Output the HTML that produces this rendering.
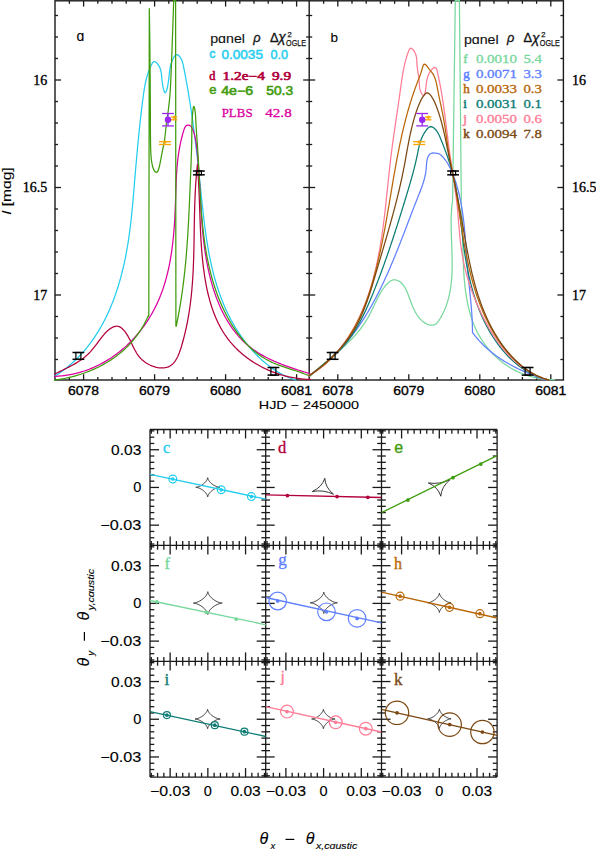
<!DOCTYPE html>
<html><head><meta charset="utf-8"><title>figure</title>
<style>html,body{margin:0;padding:0;background:#fff;}svg{display:block;}</style></head>
<body><svg width="596" height="851" viewBox="0 0 596 851">
<rect width="596" height="851" fill="#fff"/>
<line x1="69.4" y1="380" x2="69.4" y2="377" stroke="#1a1a1a" stroke-width="1.3"/>
<line x1="69.4" y1="0.8" x2="69.4" y2="3.8" stroke="#1a1a1a" stroke-width="1.3"/>
<line x1="83.6" y1="380" x2="83.6" y2="374.2" stroke="#1a1a1a" stroke-width="1.3"/>
<line x1="83.6" y1="0.8" x2="83.6" y2="6.6" stroke="#1a1a1a" stroke-width="1.3"/>
<line x1="97.8" y1="380" x2="97.8" y2="377" stroke="#1a1a1a" stroke-width="1.3"/>
<line x1="97.8" y1="0.8" x2="97.8" y2="3.8" stroke="#1a1a1a" stroke-width="1.3"/>
<line x1="112" y1="380" x2="112" y2="377" stroke="#1a1a1a" stroke-width="1.3"/>
<line x1="112" y1="0.8" x2="112" y2="3.8" stroke="#1a1a1a" stroke-width="1.3"/>
<line x1="126.2" y1="380" x2="126.2" y2="377" stroke="#1a1a1a" stroke-width="1.3"/>
<line x1="126.2" y1="0.8" x2="126.2" y2="3.8" stroke="#1a1a1a" stroke-width="1.3"/>
<line x1="140.4" y1="380" x2="140.4" y2="377" stroke="#1a1a1a" stroke-width="1.3"/>
<line x1="140.4" y1="0.8" x2="140.4" y2="3.8" stroke="#1a1a1a" stroke-width="1.3"/>
<line x1="154.6" y1="380" x2="154.6" y2="374.2" stroke="#1a1a1a" stroke-width="1.3"/>
<line x1="154.6" y1="0.8" x2="154.6" y2="6.6" stroke="#1a1a1a" stroke-width="1.3"/>
<line x1="168.8" y1="380" x2="168.8" y2="377" stroke="#1a1a1a" stroke-width="1.3"/>
<line x1="168.8" y1="0.8" x2="168.8" y2="3.8" stroke="#1a1a1a" stroke-width="1.3"/>
<line x1="183" y1="380" x2="183" y2="377" stroke="#1a1a1a" stroke-width="1.3"/>
<line x1="183" y1="0.8" x2="183" y2="3.8" stroke="#1a1a1a" stroke-width="1.3"/>
<line x1="197.2" y1="380" x2="197.2" y2="377" stroke="#1a1a1a" stroke-width="1.3"/>
<line x1="197.2" y1="0.8" x2="197.2" y2="3.8" stroke="#1a1a1a" stroke-width="1.3"/>
<line x1="211.4" y1="380" x2="211.4" y2="377" stroke="#1a1a1a" stroke-width="1.3"/>
<line x1="211.4" y1="0.8" x2="211.4" y2="3.8" stroke="#1a1a1a" stroke-width="1.3"/>
<line x1="225.6" y1="380" x2="225.6" y2="374.2" stroke="#1a1a1a" stroke-width="1.3"/>
<line x1="225.6" y1="0.8" x2="225.6" y2="6.6" stroke="#1a1a1a" stroke-width="1.3"/>
<line x1="239.8" y1="380" x2="239.8" y2="377" stroke="#1a1a1a" stroke-width="1.3"/>
<line x1="239.8" y1="0.8" x2="239.8" y2="3.8" stroke="#1a1a1a" stroke-width="1.3"/>
<line x1="254" y1="380" x2="254" y2="377" stroke="#1a1a1a" stroke-width="1.3"/>
<line x1="254" y1="0.8" x2="254" y2="3.8" stroke="#1a1a1a" stroke-width="1.3"/>
<line x1="268.2" y1="380" x2="268.2" y2="377" stroke="#1a1a1a" stroke-width="1.3"/>
<line x1="268.2" y1="0.8" x2="268.2" y2="3.8" stroke="#1a1a1a" stroke-width="1.3"/>
<line x1="282.4" y1="380" x2="282.4" y2="377" stroke="#1a1a1a" stroke-width="1.3"/>
<line x1="282.4" y1="0.8" x2="282.4" y2="3.8" stroke="#1a1a1a" stroke-width="1.3"/>
<line x1="296.6" y1="380" x2="296.6" y2="374.2" stroke="#1a1a1a" stroke-width="1.3"/>
<line x1="296.6" y1="0.8" x2="296.6" y2="6.6" stroke="#1a1a1a" stroke-width="1.3"/>
<line x1="55" y1="15.5" x2="58" y2="15.5" stroke="#1a1a1a" stroke-width="1.3"/>
<line x1="309.2" y1="15.5" x2="306.2" y2="15.5" stroke="#1a1a1a" stroke-width="1.3"/>
<line x1="55" y1="37" x2="58" y2="37" stroke="#1a1a1a" stroke-width="1.3"/>
<line x1="309.2" y1="37" x2="306.2" y2="37" stroke="#1a1a1a" stroke-width="1.3"/>
<line x1="55" y1="58.5" x2="58" y2="58.5" stroke="#1a1a1a" stroke-width="1.3"/>
<line x1="309.2" y1="58.5" x2="306.2" y2="58.5" stroke="#1a1a1a" stroke-width="1.3"/>
<line x1="55" y1="80" x2="61" y2="80" stroke="#1a1a1a" stroke-width="1.3"/>
<line x1="309.2" y1="80" x2="303.2" y2="80" stroke="#1a1a1a" stroke-width="1.3"/>
<line x1="55" y1="101.5" x2="58" y2="101.5" stroke="#1a1a1a" stroke-width="1.3"/>
<line x1="309.2" y1="101.5" x2="306.2" y2="101.5" stroke="#1a1a1a" stroke-width="1.3"/>
<line x1="55" y1="123" x2="58" y2="123" stroke="#1a1a1a" stroke-width="1.3"/>
<line x1="309.2" y1="123" x2="306.2" y2="123" stroke="#1a1a1a" stroke-width="1.3"/>
<line x1="55" y1="144.5" x2="58" y2="144.5" stroke="#1a1a1a" stroke-width="1.3"/>
<line x1="309.2" y1="144.5" x2="306.2" y2="144.5" stroke="#1a1a1a" stroke-width="1.3"/>
<line x1="55" y1="166" x2="58" y2="166" stroke="#1a1a1a" stroke-width="1.3"/>
<line x1="309.2" y1="166" x2="306.2" y2="166" stroke="#1a1a1a" stroke-width="1.3"/>
<line x1="55" y1="187.5" x2="61" y2="187.5" stroke="#1a1a1a" stroke-width="1.3"/>
<line x1="309.2" y1="187.5" x2="303.2" y2="187.5" stroke="#1a1a1a" stroke-width="1.3"/>
<line x1="55" y1="209" x2="58" y2="209" stroke="#1a1a1a" stroke-width="1.3"/>
<line x1="309.2" y1="209" x2="306.2" y2="209" stroke="#1a1a1a" stroke-width="1.3"/>
<line x1="55" y1="230.5" x2="58" y2="230.5" stroke="#1a1a1a" stroke-width="1.3"/>
<line x1="309.2" y1="230.5" x2="306.2" y2="230.5" stroke="#1a1a1a" stroke-width="1.3"/>
<line x1="55" y1="252" x2="58" y2="252" stroke="#1a1a1a" stroke-width="1.3"/>
<line x1="309.2" y1="252" x2="306.2" y2="252" stroke="#1a1a1a" stroke-width="1.3"/>
<line x1="55" y1="273.5" x2="58" y2="273.5" stroke="#1a1a1a" stroke-width="1.3"/>
<line x1="309.2" y1="273.5" x2="306.2" y2="273.5" stroke="#1a1a1a" stroke-width="1.3"/>
<line x1="55" y1="295" x2="61" y2="295" stroke="#1a1a1a" stroke-width="1.3"/>
<line x1="309.2" y1="295" x2="303.2" y2="295" stroke="#1a1a1a" stroke-width="1.3"/>
<line x1="55" y1="316.5" x2="58" y2="316.5" stroke="#1a1a1a" stroke-width="1.3"/>
<line x1="309.2" y1="316.5" x2="306.2" y2="316.5" stroke="#1a1a1a" stroke-width="1.3"/>
<line x1="55" y1="338" x2="58" y2="338" stroke="#1a1a1a" stroke-width="1.3"/>
<line x1="309.2" y1="338" x2="306.2" y2="338" stroke="#1a1a1a" stroke-width="1.3"/>
<line x1="55" y1="359.5" x2="58" y2="359.5" stroke="#1a1a1a" stroke-width="1.3"/>
<line x1="309.2" y1="359.5" x2="306.2" y2="359.5" stroke="#1a1a1a" stroke-width="1.3"/>
<line x1="323.6" y1="380" x2="323.6" y2="377" stroke="#1a1a1a" stroke-width="1.3"/>
<line x1="323.6" y1="0.8" x2="323.6" y2="3.8" stroke="#1a1a1a" stroke-width="1.3"/>
<line x1="337.8" y1="380" x2="337.8" y2="374.2" stroke="#1a1a1a" stroke-width="1.3"/>
<line x1="337.8" y1="0.8" x2="337.8" y2="6.6" stroke="#1a1a1a" stroke-width="1.3"/>
<line x1="352" y1="380" x2="352" y2="377" stroke="#1a1a1a" stroke-width="1.3"/>
<line x1="352" y1="0.8" x2="352" y2="3.8" stroke="#1a1a1a" stroke-width="1.3"/>
<line x1="366.2" y1="380" x2="366.2" y2="377" stroke="#1a1a1a" stroke-width="1.3"/>
<line x1="366.2" y1="0.8" x2="366.2" y2="3.8" stroke="#1a1a1a" stroke-width="1.3"/>
<line x1="380.4" y1="380" x2="380.4" y2="377" stroke="#1a1a1a" stroke-width="1.3"/>
<line x1="380.4" y1="0.8" x2="380.4" y2="3.8" stroke="#1a1a1a" stroke-width="1.3"/>
<line x1="394.6" y1="380" x2="394.6" y2="377" stroke="#1a1a1a" stroke-width="1.3"/>
<line x1="394.6" y1="0.8" x2="394.6" y2="3.8" stroke="#1a1a1a" stroke-width="1.3"/>
<line x1="408.8" y1="380" x2="408.8" y2="374.2" stroke="#1a1a1a" stroke-width="1.3"/>
<line x1="408.8" y1="0.8" x2="408.8" y2="6.6" stroke="#1a1a1a" stroke-width="1.3"/>
<line x1="423" y1="380" x2="423" y2="377" stroke="#1a1a1a" stroke-width="1.3"/>
<line x1="423" y1="0.8" x2="423" y2="3.8" stroke="#1a1a1a" stroke-width="1.3"/>
<line x1="437.2" y1="380" x2="437.2" y2="377" stroke="#1a1a1a" stroke-width="1.3"/>
<line x1="437.2" y1="0.8" x2="437.2" y2="3.8" stroke="#1a1a1a" stroke-width="1.3"/>
<line x1="451.4" y1="380" x2="451.4" y2="377" stroke="#1a1a1a" stroke-width="1.3"/>
<line x1="451.4" y1="0.8" x2="451.4" y2="3.8" stroke="#1a1a1a" stroke-width="1.3"/>
<line x1="465.6" y1="380" x2="465.6" y2="377" stroke="#1a1a1a" stroke-width="1.3"/>
<line x1="465.6" y1="0.8" x2="465.6" y2="3.8" stroke="#1a1a1a" stroke-width="1.3"/>
<line x1="479.8" y1="380" x2="479.8" y2="374.2" stroke="#1a1a1a" stroke-width="1.3"/>
<line x1="479.8" y1="0.8" x2="479.8" y2="6.6" stroke="#1a1a1a" stroke-width="1.3"/>
<line x1="494" y1="380" x2="494" y2="377" stroke="#1a1a1a" stroke-width="1.3"/>
<line x1="494" y1="0.8" x2="494" y2="3.8" stroke="#1a1a1a" stroke-width="1.3"/>
<line x1="508.2" y1="380" x2="508.2" y2="377" stroke="#1a1a1a" stroke-width="1.3"/>
<line x1="508.2" y1="0.8" x2="508.2" y2="3.8" stroke="#1a1a1a" stroke-width="1.3"/>
<line x1="522.4" y1="380" x2="522.4" y2="377" stroke="#1a1a1a" stroke-width="1.3"/>
<line x1="522.4" y1="0.8" x2="522.4" y2="3.8" stroke="#1a1a1a" stroke-width="1.3"/>
<line x1="536.6" y1="380" x2="536.6" y2="377" stroke="#1a1a1a" stroke-width="1.3"/>
<line x1="536.6" y1="0.8" x2="536.6" y2="3.8" stroke="#1a1a1a" stroke-width="1.3"/>
<line x1="550.8" y1="380" x2="550.8" y2="374.2" stroke="#1a1a1a" stroke-width="1.3"/>
<line x1="550.8" y1="0.8" x2="550.8" y2="6.6" stroke="#1a1a1a" stroke-width="1.3"/>
<line x1="309.2" y1="15.5" x2="312.2" y2="15.5" stroke="#1a1a1a" stroke-width="1.3"/>
<line x1="563.4" y1="15.5" x2="560.4" y2="15.5" stroke="#1a1a1a" stroke-width="1.3"/>
<line x1="309.2" y1="37" x2="312.2" y2="37" stroke="#1a1a1a" stroke-width="1.3"/>
<line x1="563.4" y1="37" x2="560.4" y2="37" stroke="#1a1a1a" stroke-width="1.3"/>
<line x1="309.2" y1="58.5" x2="312.2" y2="58.5" stroke="#1a1a1a" stroke-width="1.3"/>
<line x1="563.4" y1="58.5" x2="560.4" y2="58.5" stroke="#1a1a1a" stroke-width="1.3"/>
<line x1="309.2" y1="80" x2="315.2" y2="80" stroke="#1a1a1a" stroke-width="1.3"/>
<line x1="563.4" y1="80" x2="557.4" y2="80" stroke="#1a1a1a" stroke-width="1.3"/>
<line x1="309.2" y1="101.5" x2="312.2" y2="101.5" stroke="#1a1a1a" stroke-width="1.3"/>
<line x1="563.4" y1="101.5" x2="560.4" y2="101.5" stroke="#1a1a1a" stroke-width="1.3"/>
<line x1="309.2" y1="123" x2="312.2" y2="123" stroke="#1a1a1a" stroke-width="1.3"/>
<line x1="563.4" y1="123" x2="560.4" y2="123" stroke="#1a1a1a" stroke-width="1.3"/>
<line x1="309.2" y1="144.5" x2="312.2" y2="144.5" stroke="#1a1a1a" stroke-width="1.3"/>
<line x1="563.4" y1="144.5" x2="560.4" y2="144.5" stroke="#1a1a1a" stroke-width="1.3"/>
<line x1="309.2" y1="166" x2="312.2" y2="166" stroke="#1a1a1a" stroke-width="1.3"/>
<line x1="563.4" y1="166" x2="560.4" y2="166" stroke="#1a1a1a" stroke-width="1.3"/>
<line x1="309.2" y1="187.5" x2="315.2" y2="187.5" stroke="#1a1a1a" stroke-width="1.3"/>
<line x1="563.4" y1="187.5" x2="557.4" y2="187.5" stroke="#1a1a1a" stroke-width="1.3"/>
<line x1="309.2" y1="209" x2="312.2" y2="209" stroke="#1a1a1a" stroke-width="1.3"/>
<line x1="563.4" y1="209" x2="560.4" y2="209" stroke="#1a1a1a" stroke-width="1.3"/>
<line x1="309.2" y1="230.5" x2="312.2" y2="230.5" stroke="#1a1a1a" stroke-width="1.3"/>
<line x1="563.4" y1="230.5" x2="560.4" y2="230.5" stroke="#1a1a1a" stroke-width="1.3"/>
<line x1="309.2" y1="252" x2="312.2" y2="252" stroke="#1a1a1a" stroke-width="1.3"/>
<line x1="563.4" y1="252" x2="560.4" y2="252" stroke="#1a1a1a" stroke-width="1.3"/>
<line x1="309.2" y1="273.5" x2="312.2" y2="273.5" stroke="#1a1a1a" stroke-width="1.3"/>
<line x1="563.4" y1="273.5" x2="560.4" y2="273.5" stroke="#1a1a1a" stroke-width="1.3"/>
<line x1="309.2" y1="295" x2="315.2" y2="295" stroke="#1a1a1a" stroke-width="1.3"/>
<line x1="563.4" y1="295" x2="557.4" y2="295" stroke="#1a1a1a" stroke-width="1.3"/>
<line x1="309.2" y1="316.5" x2="312.2" y2="316.5" stroke="#1a1a1a" stroke-width="1.3"/>
<line x1="563.4" y1="316.5" x2="560.4" y2="316.5" stroke="#1a1a1a" stroke-width="1.3"/>
<line x1="309.2" y1="338" x2="312.2" y2="338" stroke="#1a1a1a" stroke-width="1.3"/>
<line x1="563.4" y1="338" x2="560.4" y2="338" stroke="#1a1a1a" stroke-width="1.3"/>
<line x1="309.2" y1="359.5" x2="312.2" y2="359.5" stroke="#1a1a1a" stroke-width="1.3"/>
<line x1="563.4" y1="359.5" x2="560.4" y2="359.5" stroke="#1a1a1a" stroke-width="1.3"/>
<rect x="55" y="0.8" width="508.4" height="379.2" fill="none" stroke="#1a1a1a" stroke-width="1.4"/>
<line x1="309.2" y1="0.8" x2="309.2" y2="380" stroke="#1a1a1a" stroke-width="1.4"/>
<text x="47.3" y="84.9" font-size="14" text-anchor="end" fill="#000" font-family="Liberation Serif" stroke="#000" stroke-width="0.35" style="">16</text>
<text x="572.1" y="84.9" font-size="14" text-anchor="start" fill="#000" font-family="Liberation Serif" stroke="#000" stroke-width="0.35" style="">16</text>
<text x="47.3" y="192.4" font-size="14" text-anchor="end" fill="#000" font-family="Liberation Serif" stroke="#000" stroke-width="0.35" style="">16.5</text>
<text x="572.1" y="192.4" font-size="14" text-anchor="start" fill="#000" font-family="Liberation Serif" stroke="#000" stroke-width="0.35" style="">16.5</text>
<text x="47.3" y="299.9" font-size="14" text-anchor="end" fill="#000" font-family="Liberation Serif" stroke="#000" stroke-width="0.35" style="">17</text>
<text x="572.1" y="299.9" font-size="14" text-anchor="start" fill="#000" font-family="Liberation Serif" stroke="#000" stroke-width="0.35" style="">17</text>
<text x="83.6" y="394.9" font-size="13.5" text-anchor="middle" fill="#000" font-family="Liberation Sans" stroke="#000" stroke-width="0.35" textLength="31" lengthAdjust="spacingAndGlyphs" style="">6078</text>
<text x="154.6" y="394.9" font-size="13.5" text-anchor="middle" fill="#000" font-family="Liberation Sans" stroke="#000" stroke-width="0.35" textLength="31" lengthAdjust="spacingAndGlyphs" style="">6079</text>
<text x="225.6" y="394.9" font-size="13.5" text-anchor="middle" fill="#000" font-family="Liberation Sans" stroke="#000" stroke-width="0.35" textLength="31" lengthAdjust="spacingAndGlyphs" style="">6080</text>
<text x="296.6" y="394.9" font-size="13.5" text-anchor="middle" fill="#000" font-family="Liberation Sans" stroke="#000" stroke-width="0.35" textLength="31" lengthAdjust="spacingAndGlyphs" style="">6081</text>
<text x="337.8" y="394.9" font-size="13.5" text-anchor="middle" fill="#000" font-family="Liberation Sans" stroke="#000" stroke-width="0.35" textLength="31" lengthAdjust="spacingAndGlyphs" style="">6078</text>
<text x="408.8" y="394.9" font-size="13.5" text-anchor="middle" fill="#000" font-family="Liberation Sans" stroke="#000" stroke-width="0.35" textLength="31" lengthAdjust="spacingAndGlyphs" style="">6079</text>
<text x="479.8" y="394.9" font-size="13.5" text-anchor="middle" fill="#000" font-family="Liberation Sans" stroke="#000" stroke-width="0.35" textLength="31" lengthAdjust="spacingAndGlyphs" style="">6080</text>
<text x="550.8" y="394.9" font-size="13.5" text-anchor="middle" fill="#000" font-family="Liberation Sans" stroke="#000" stroke-width="0.35" textLength="31" lengthAdjust="spacingAndGlyphs" style="">6081</text>
<text x="258.8" y="408.8" font-size="11.5" text-anchor="start" fill="#000" font-family="Liberation Sans" stroke="#000" stroke-width="0.12" textLength="100.3" lengthAdjust="spacingAndGlyphs" style="">HJD &#8722; 2450000</text>
<text transform="translate(10.6,214.8) rotate(-90)" font-size="12.5" font-family="Liberation Sans" fill="#000" stroke="#000" stroke-width="0.1" textLength="47.4" lengthAdjust="spacingAndGlyphs"><tspan font-style="italic">I</tspan> [m&#593;g]</text>
<text x="76.6" y="40.8" font-size="14" text-anchor="start" fill="#000" font-family="Liberation Sans" stroke="#000" stroke-width="0.1" style="">&#593;</text>
<text x="330.6" y="41.8" font-size="13.5" text-anchor="start" fill="#000" font-family="Liberation Sans" stroke="#000" stroke-width="0.1" style="">b</text>
<path d="M55.15,375.91 L56.47,375.07 L57.77,374.22 L59.05,373.36 L60.32,372.48 L61.58,371.59 L62.82,370.69 L64.05,369.77 L65.26,368.85 L66.46,367.91 L67.64,366.95 L68.81,365.99 L69.97,365.01 L71.11,364.03 L72.24,363.03 L73.36,362.02 L74.46,361 L75.54,359.96 L76.62,358.92 L77.68,357.86 L78.73,356.8 L79.76,355.72 L80.78,354.64 L81.79,353.54 L82.79,352.43 L83.77,351.31 L84.74,350.19 L85.69,349.05 L86.64,347.9 L87.57,346.75 L88.49,345.58 L89.4,344.41 L90.29,343.22 L91.17,342.03 L92.04,340.83 L92.9,339.62 L93.75,338.4 L94.58,337.17 L95.41,335.93 L96.22,334.69 L97.02,333.44 L97.81,332.18 L98.58,330.91 L99.35,329.63 L100.1,328.35 L100.84,327.06 L101.58,325.76 L102.3,324.46 L103.01,323.15 L103.71,321.83 L104.4,320.5 L105.07,319.17 L105.74,317.83 L106.4,316.49 L107.04,315.14 L107.68,313.78 L108.31,312.42 L108.92,311.05 L109.53,309.68 L110.13,308.3 L110.71,306.91 L111.29,305.52 L111.85,304.13 L112.41,302.73 L112.96,301.32 L113.5,299.91 L114.03,298.5 L114.55,297.08 L115.06,295.66 L115.56,294.23 L116.05,292.8 L116.53,291.37 L117.01,289.93 L117.47,288.49 L117.93,287.04 L118.38,285.6 L118.82,284.14 L119.25,282.69 L119.68,281.23 L120.09,279.77 L120.5,278.31 L120.9,276.85 L121.29,275.38 L121.67,273.91 L122.05,272.44 L122.42,270.96 L122.78,269.49 L123.13,268.01 L123.47,266.53 L123.81,265.05 L124.14,263.57 L124.47,262.09 L124.78,260.61 L125.09,259.12 L125.39,257.64 L125.69,256.15 L125.98,254.66 L126.26,253.18 L126.53,251.69 L126.8,250.21 L127.07,248.72 L127.32,247.23 L127.57,245.75 L127.82,244.26 L128.05,242.78 L128.29,241.29 L128.51,239.8 L128.74,238.32 L128.95,236.83 L129.16,235.35 L129.37,233.86 L129.57,232.37 L129.77,230.89 L129.96,229.4 L130.15,227.92 L130.33,226.43 L130.51,224.94 L130.69,223.46 L130.86,221.97 L131.03,220.48 L131.19,219 L131.35,217.51 L131.51,216.02 L131.67,214.53 L131.82,213.05 L131.97,211.56 L132.11,210.07 L132.26,208.58 L132.4,207.1 L132.54,205.61 L132.68,204.12 L132.81,202.63 L132.94,201.14 L133.08,199.65 L133.21,198.16 L133.34,196.67 L133.46,195.18 L133.59,193.69 L133.72,192.2 L133.84,190.71 L133.97,189.21 L134.09,187.72 L134.21,186.23 L134.34,184.74 L134.46,183.24 L134.58,181.75 L134.71,180.25 L134.83,178.76 L134.96,177.26 L135.08,175.77 L135.21,174.27 L135.33,172.78 L135.46,171.28 L135.59,169.78 L135.71,168.28 L135.84,166.79 L135.97,165.29 L136.1,163.79 L136.23,162.29 L136.36,160.79 L136.5,159.29 L136.63,157.79 L136.76,156.3 L136.9,154.8 L137.03,153.3 L137.17,151.8 L137.31,150.3 L137.45,148.8 L137.59,147.3 L137.73,145.8 L137.87,144.3 L138.01,142.8 L138.16,141.3 L138.3,139.8 L138.45,138.3 L138.6,136.81 L138.75,135.31 L138.9,133.81 L139.05,132.31 L139.21,130.81 L139.36,129.32 L139.52,127.82 L139.68,126.32 L139.84,124.83 L140,123.33 L140.16,121.83 L140.33,120.34 L140.49,118.84 L140.66,117.35 L140.83,115.86 L141,114.36 L141.18,112.87 L141.35,111.38 L141.53,109.88 L141.71,108.39 L141.89,106.9 L142.07,105.41 L142.26,103.92 L142.45,102.44 L142.64,100.95 L142.83,99.46 L143.02,97.97 L143.22,96.49 L143.42,95 L143.62,93.52 L143.84,92.04 L144.06,90.56 L144.29,89.08 L144.54,87.6 L144.8,86.12 L145.08,84.64 L145.38,83.17 L145.69,81.7 L146.03,80.22 L146.39,78.76 L146.78,77.29 L147.2,75.82 L147.64,74.36 L148.11,72.9 L148.62,71.44 L149.16,69.99 L149.74,68.53 L150.35,67.08 L151.01,65.64 L151.7,64.21 L152.46,62.93 L153.29,61.98 L154.22,61.54 L155.27,61.75 L156.38,62.57 L157.48,63.78 L158.48,65.2 L159.33,66.64 L159.99,68.04 L160.49,69.42 L160.87,70.8 L161.15,72.2 L161.35,73.66 L161.52,75.18 L161.66,76.79 L161.82,78.52 L162.02,80.39 L162.27,82.36 L162.57,84.37 L162.9,86.32 L163.27,88.15 L163.67,89.78 L164.08,91.13 L164.52,92.11 L164.97,92.66 L165.42,92.7 L165.87,92.2 L166.32,91.23 L166.75,89.9 L167.17,88.28 L167.56,86.46 L167.92,84.52 L168.24,82.57 L168.51,80.67 L168.75,78.88 L168.95,77.19 L169.12,75.58 L169.29,74.04 L169.45,72.56 L169.62,71.13 L169.81,69.74 L170.03,68.37 L170.28,67.01 L170.59,65.65 L170.96,64.28 L171.39,62.89 L171.91,61.45 L172.52,59.97 L173.23,58.43 L174.04,56.95 L174.94,55.7 L175.92,54.86 L176.97,54.62 L178.07,55.05 L179.15,55.99 L180.15,57.24 L181,58.61 L181.69,60.02 L182.25,61.46 L182.7,62.91 L183.08,64.39 L183.4,65.87 L183.7,67.36 L184,68.84 L184.29,70.33 L184.58,71.82 L184.87,73.31 L185.15,74.79 L185.43,76.28 L185.71,77.77 L185.98,79.25 L186.25,80.74 L186.52,82.22 L186.79,83.71 L187.05,85.19 L187.31,86.68 L187.57,88.16 L187.83,89.64 L188.08,91.13 L188.33,92.61 L188.58,94.09 L188.83,95.58 L189.07,97.06 L189.31,98.54 L189.55,100.03 L189.79,101.51 L190.02,102.99 L190.25,104.48 L190.48,105.96 L190.71,107.44 L190.94,108.93 L191.16,110.41 L191.38,111.89 L191.6,113.38 L191.82,114.86 L192.03,116.34 L192.24,117.83 L192.45,119.31 L192.66,120.8 L192.87,122.28 L193.08,123.77 L193.28,125.25 L193.48,126.73 L193.68,128.22 L193.88,129.71 L194.07,131.19 L194.27,132.68 L194.46,134.16 L194.65,135.65 L194.84,137.14 L195.03,138.63 L195.22,140.11 L195.4,141.6 L195.58,143.09 L195.77,144.58 L195.95,146.07 L196.13,147.56 L196.3,149.05 L196.48,150.54 L196.65,152.03 L196.83,153.52 L197,155.02 L197.17,156.51 L197.34,158 L197.51,159.5 L197.68,160.99 L197.84,162.49 L198.01,163.99 L198.17,165.48 L198.33,166.98 L198.5,168.48 L198.66,169.98 L198.82,171.48 L198.98,172.98 L199.14,174.48 L199.29,175.98 L199.45,177.48 L199.6,178.99 L199.76,180.49 L199.91,182 L200.07,183.5 L200.22,185.01 L200.37,186.52 L200.53,188.03 L200.68,189.54 L200.83,191.05 L200.98,192.55 L201.14,194.06 L201.29,195.57 L201.45,197.09 L201.6,198.6 L201.76,200.11 L201.92,201.62 L202.07,203.13 L202.23,204.64 L202.39,206.15 L202.56,207.66 L202.72,209.17 L202.89,210.68 L203.06,212.19 L203.23,213.7 L203.4,215.21 L203.57,216.71 L203.75,218.22 L203.93,219.73 L204.11,221.23 L204.3,222.74 L204.49,224.24 L204.68,225.75 L204.87,227.25 L205.07,228.75 L205.28,230.25 L205.48,231.75 L205.69,233.25 L205.91,234.75 L206.12,236.24 L206.35,237.74 L206.57,239.23 L206.8,240.72 L207.04,242.21 L207.28,243.7 L207.53,245.19 L207.78,246.67 L208.03,248.15 L208.29,249.63 L208.56,251.11 L208.83,252.59 L209.11,254.07 L209.39,255.54 L209.68,257.01 L209.98,258.48 L210.28,259.95 L210.59,261.41 L210.91,262.87 L211.23,264.33 L211.56,265.79 L211.89,267.24 L212.23,268.69 L212.58,270.14 L212.94,271.59 L213.31,273.03 L213.68,274.47 L214.06,275.91 L214.45,277.35 L214.84,278.78 L215.25,280.21 L215.66,281.63 L216.08,283.05 L216.51,284.47 L216.95,285.89 L217.4,287.3 L217.85,288.71 L218.32,290.12 L218.79,291.52 L219.27,292.92 L219.77,294.31 L220.27,295.7 L220.78,297.09 L221.31,298.47 L221.84,299.85 L222.38,301.23 L222.93,302.6 L223.5,303.96 L224.07,305.33 L224.66,306.68 L225.25,308.04 L225.86,309.39 L226.48,310.73 L227.11,312.08 L227.75,313.41 L228.4,314.74 L229.06,316.07 L229.74,317.39 L230.43,318.71 L231.12,320.03 L231.84,321.33 L232.56,322.64 L233.3,323.94 L234.05,325.23 L234.81,326.52 L235.58,327.8 L236.37,329.08 L237.17,330.35 L237.98,331.62 L238.81,332.88 L239.65,334.14 L240.51,335.39 L241.38,336.63 L242.26,337.87 L243.15,339.1 L244.06,340.33 L244.99,341.55 L245.92,342.76 L246.87,343.97 L247.84,345.16 L248.81,346.35 L249.8,347.52 L250.81,348.69 L251.82,349.84 L252.85,350.99 L253.89,352.12 L254.95,353.24 L256.01,354.35 L257.09,355.44 L258.18,356.53 L259.28,357.59 L260.4,358.65 L261.53,359.68 L262.66,360.71 L263.81,361.71 L264.98,362.7 L266.15,363.67 L267.33,364.63 L268.53,365.56 L269.74,366.48 L270.96,367.38 L272.19,368.26 L273.43,369.12 L274.68,369.96 L275.94,370.78 L277.21,371.58 L278.49,372.35 L279.78,373.1 L281.09,373.83 L282.4,374.54 L283.72,375.22 L285.06,375.88 L286.4,376.51 L287.75,377.12 L289.11,377.7 L290.49,378.25 L291.87,378.78 L293.26,379.28 L294.66,379.75 L296.06,380.2" fill="none" stroke="#22cdf0" stroke-width="1.25" stroke-linejoin="round" stroke-linecap="round"/>
<path d="M54.99,373.92 L56.4,373.21 L57.81,372.51 L59.21,371.82 L60.6,371.14 L61.98,370.47 L63.35,369.8 L64.71,369.13 L66.06,368.46 L67.4,367.79 L68.72,367.11 L70.04,366.43 L71.34,365.74 L72.63,365.04 L73.91,364.33 L75.18,363.6 L76.43,362.85 L77.67,362.09 L78.89,361.3 L80.11,360.49 L81.3,359.66 L82.48,358.8 L83.65,357.9 L84.8,356.98 L85.94,356.02 L87.06,355.03 L88.16,354 L89.25,352.93 L90.32,351.81 L91.37,350.66 L92.4,349.45 L93.42,348.21 L94.43,346.94 L95.43,345.65 L96.42,344.33 L97.4,343.01 L98.38,341.69 L99.36,340.37 L100.33,339.07 L101.32,337.78 L102.3,336.52 L103.3,335.3 L104.31,334.12 L105.33,333 L106.36,331.93 L107.41,330.92 L108.49,329.99 L109.58,329.13 L110.7,328.36 L111.84,327.69 L113.02,327.12 L114.22,326.66 L115.45,326.33 L116.69,326.18 L117.93,326.25 L119.16,326.57 L120.35,327.17 L121.51,328 L122.61,328.99 L123.65,330.07 L124.62,331.21 L125.53,332.39 L126.39,333.62 L127.2,334.89 L127.98,336.19 L128.71,337.53 L129.42,338.89 L130.11,340.27 L130.79,341.66 L131.45,343.06 L132.12,344.47 L132.79,345.88 L133.47,347.29 L134.17,348.69 L134.89,350.07 L135.65,351.43 L136.44,352.77 L137.27,354.08 L138.16,355.35 L139.1,356.59 L140.1,357.78 L141.18,358.92 L142.33,360.01 L143.55,361.05 L144.83,362.02 L146.16,362.93 L147.55,363.77 L148.97,364.55 L150.43,365.25 L151.91,365.88 L153.4,366.44 L154.91,366.91 L156.42,367.3 L157.93,367.6 L159.42,367.82 L160.89,367.94 L162.34,367.97 L163.75,367.9 L165.12,367.73 L166.43,367.45 L167.69,367.07 L168.89,366.58 L170.02,365.98 L171.08,365.28 L172.08,364.49 L173.03,363.6 L173.91,362.63 L174.75,361.58 L175.54,360.45 L176.28,359.27 L176.98,358.02 L177.63,356.71 L178.26,355.36 L178.84,353.97 L179.4,352.54 L179.93,351.08 L180.44,349.59 L180.92,348.09 L181.39,346.57 L181.84,345.05 L182.28,343.53 L182.71,342.01 L183.12,340.49 L183.53,338.97 L183.93,337.45 L184.31,335.93 L184.69,334.41 L185.05,332.9 L185.41,331.38 L185.75,329.87 L186.09,328.35 L186.42,326.84 L186.73,325.33 L187.04,323.82 L187.34,322.31 L187.63,320.8 L187.91,319.29 L188.18,317.78 L188.44,316.28 L188.7,314.77 L188.95,313.26 L189.19,311.76 L189.42,310.25 L189.64,308.75 L189.85,307.25 L190.06,305.74 L190.26,304.24 L190.46,302.74 L190.64,301.24 L190.82,299.74 L191,298.24 L191.16,296.74 L191.32,295.24 L191.47,293.74 L191.62,292.24 L191.76,290.75 L191.9,289.25 L192.03,287.75 L192.15,286.26 L192.27,284.76 L192.39,283.26 L192.49,281.77 L192.6,280.27 L192.7,278.78 L192.79,277.28 L192.88,275.79 L192.96,274.29 L193.05,272.8 L193.12,271.3 L193.2,269.81 L193.26,268.32 L193.33,266.82 L193.39,265.33 L193.45,263.83 L193.51,262.34 L193.56,260.85 L193.61,259.35 L193.66,257.86 L193.7,256.37 L193.74,254.87 L193.78,253.38 L193.82,251.88 L193.86,250.39 L193.89,248.9 L193.92,247.4 L193.95,245.91 L193.98,244.41 L194.01,242.92 L194.04,241.42 L194.06,239.93 L194.09,238.43 L194.11,236.94 L194.14,235.44 L194.16,233.95 L194.18,232.45 L194.21,230.95 L194.23,229.46 L194.25,227.96 L194.28,226.46 L194.3,224.96 L194.33,223.46 L194.35,221.96 L194.38,220.46 L194.41,218.96 L194.44,217.46 L194.47,215.96 L194.5,214.46 L194.54,212.96 L194.57,211.46 L194.61,209.95 L194.65,208.45 L194.69,206.94 L194.74,205.44 L194.79,203.93 L194.84,202.43 L194.89,200.92 L194.95,199.41 L195.01,197.9 L195.07,196.39 L195.13,194.88 L195.2,193.37 L195.28,191.86 L195.36,190.35 L195.44,188.83 L195.53,187.32 L195.62,185.8 L195.71,184.29 L195.81,182.77 L195.92,181.25 L196.03,179.73 L196.14,178.21 L196.26,176.69 L196.39,175.17 L196.52,173.65 L196.65,172.12 L196.8,170.6 L196.95,169.07 L197.1,167.55 L197.26,166.02 L197.43,164.49 L197.31,164.56 L197.44,166.05 L197.57,167.55 L197.69,169.04 L197.81,170.54 L197.92,172.04 L198.03,173.54 L198.14,175.04 L198.24,176.54 L198.33,178.04 L198.42,179.55 L198.51,181.05 L198.59,182.56 L198.67,184.06 L198.75,185.57 L198.82,187.08 L198.9,188.59 L198.97,190.1 L199.03,191.61 L199.1,193.13 L199.16,194.64 L199.22,196.16 L199.28,197.67 L199.33,199.19 L199.39,200.7 L199.44,202.22 L199.5,203.74 L199.55,205.26 L199.6,206.78 L199.66,208.3 L199.71,209.82 L199.76,211.34 L199.81,212.86 L199.86,214.38 L199.92,215.9 L199.97,217.42 L200.03,218.94 L200.08,220.47 L200.14,221.99 L200.2,223.51 L200.26,225.04 L200.32,226.56 L200.39,228.08 L200.46,229.61 L200.53,231.13 L200.6,232.66 L200.67,234.18 L200.75,235.7 L200.83,237.23 L200.92,238.75 L201.01,240.28 L201.1,241.8 L201.2,243.32 L201.3,244.85 L201.4,246.37 L201.51,247.89 L201.63,249.42 L201.75,250.94 L201.87,252.46 L202,253.98 L202.14,255.5 L202.28,257.02 L202.43,258.55 L202.58,260.07 L202.74,261.58 L202.91,263.1 L203.08,264.62 L203.26,266.14 L203.45,267.66 L203.64,269.17 L203.84,270.69 L204.05,272.2 L204.27,273.72 L204.49,275.23 L204.73,276.74 L204.97,278.25 L205.22,279.76 L205.48,281.27 L205.75,282.78 L206.03,284.28 L206.31,285.79 L206.61,287.28 L206.92,288.78 L207.24,290.27 L207.57,291.76 L207.91,293.25 L208.27,294.73 L208.63,296.2 L209.01,297.67 L209.4,299.14 L209.8,300.6 L210.22,302.05 L210.64,303.5 L211.09,304.94 L211.54,306.38 L212.01,307.81 L212.49,309.23 L212.99,310.64 L213.51,312.05 L214.03,313.45 L214.58,314.84 L215.14,316.22 L215.71,317.59 L216.3,318.95 L216.91,320.31 L217.54,321.65 L218.18,322.98 L218.84,324.31 L219.51,325.62 L220.21,326.92 L220.92,328.21 L221.65,329.49 L222.4,330.75 L223.17,332.01 L223.96,333.25 L224.77,334.48 L225.6,335.69 L226.44,336.9 L227.31,338.09 L228.2,339.26 L229.11,340.42 L230.03,341.57 L230.98,342.7 L231.94,343.82 L232.92,344.93 L233.92,346.02 L234.94,347.09 L235.98,348.15 L237.03,349.2 L238.1,350.23 L239.19,351.25 L240.29,352.24 L241.41,353.23 L242.55,354.2 L243.7,355.15 L244.87,356.09 L246.05,357.01 L247.24,357.91 L248.46,358.8 L249.68,359.67 L250.92,360.53 L252.17,361.37 L253.44,362.19 L254.72,362.99 L256.01,363.78 L257.32,364.55 L258.64,365.3 L259.97,366.03 L261.31,366.75 L262.66,367.45 L264.03,368.13 L265.4,368.79 L266.79,369.43 L268.18,370.06 L269.59,370.67 L271.01,371.25 L272.43,371.82 L273.87,372.37 L275.31,372.9 L276.77,373.41 L278.23,373.9 L279.7,374.38 L281.18,374.83 L282.67,375.26 L284.16,375.67 L285.66,376.06 L287.17,376.43 L288.68,376.79 L290.2,377.12 L291.73,377.43 L293.26,377.71 L294.8,377.98 L296.34,378.23 L297.89,378.45 L299.44,378.65 L301,378.84 L302.56,379 L304.12,379.13 L305.69,379.25 L307.26,379.34 L308.84,379.41 L310.42,379.46" fill="none" stroke="#b2003a" stroke-width="1.25" stroke-linejoin="round" stroke-linecap="round"/>
<path d="M54.5,376.42 L56.1,376.34 L57.69,376.24 L59.27,376.12 L60.85,375.98 L62.41,375.82 L63.97,375.63 L65.53,375.42 L67.07,375.19 L68.61,374.93 L70.13,374.66 L71.65,374.36 L73.17,374.05 L74.67,373.71 L76.16,373.35 L77.65,372.97 L79.13,372.58 L80.6,372.16 L82.06,371.72 L83.51,371.26 L84.95,370.78 L86.38,370.29 L87.8,369.77 L89.22,369.24 L90.62,368.68 L92.02,368.11 L93.41,367.52 L94.78,366.91 L96.15,366.28 L97.51,365.64 L98.86,364.98 L100.19,364.3 L101.52,363.6 L102.84,362.89 L104.15,362.16 L105.44,361.41 L106.73,360.65 L108.01,359.87 L109.27,359.07 L110.53,358.26 L111.77,357.43 L113,356.59 L114.23,355.73 L115.44,354.86 L116.64,353.97 L117.83,353.07 L119.01,352.15 L120.18,351.22 L121.33,350.28 L122.48,349.32 L123.61,348.34 L124.73,347.35 L125.84,346.35 L126.94,345.34 L128.03,344.31 L129.1,343.27 L130.16,342.22 L131.22,341.16 L132.25,340.08 L133.28,338.99 L134.29,337.89 L135.29,336.78 L136.28,335.65 L137.26,334.52 L138.22,333.37 L139.17,332.21 L140.11,331.04 L141.04,329.87 L141.95,328.68 L142.85,327.48 L143.73,326.27 L144.6,325.05 L145.46,323.82 L146.31,322.58 L147.14,321.33 L147.96,320.08 L148.76,318.81 L149.55,317.54 L150.33,316.25 L151.09,314.96 L151.84,313.66 L152.58,312.36 L153.3,311.04 L154.01,309.72 L154.7,308.39 L155.38,307.05 L156.04,305.71 L156.69,304.36 L157.32,303 L157.94,301.64 L158.54,300.27 L159.13,298.9 L159.71,297.51 L160.27,296.13 L160.82,294.73 L161.35,293.33 L161.87,291.93 L162.38,290.52 L162.88,289.1 L163.36,287.68 L163.83,286.26 L164.28,284.83 L164.73,283.39 L165.16,281.95 L165.58,280.51 L165.98,279.06 L166.38,277.61 L166.76,276.15 L167.14,274.69 L167.5,273.23 L167.85,271.76 L168.19,270.29 L168.52,268.81 L168.84,267.33 L169.15,265.85 L169.45,264.37 L169.74,262.88 L170.02,261.39 L170.29,259.89 L170.55,258.4 L170.8,256.9 L171.05,255.4 L171.28,253.89 L171.51,252.39 L171.73,250.88 L171.94,249.37 L172.14,247.86 L172.34,246.35 L172.52,244.83 L172.7,243.32 L172.88,241.8 L173.04,240.28 L173.2,238.76 L173.36,237.24 L173.5,235.72 L173.64,234.2 L173.78,232.68 L173.9,231.16 L174.03,229.64 L174.14,228.11 L174.26,226.59 L174.36,225.07 L174.46,223.55 L174.56,222.03 L174.65,220.5 L174.74,218.98 L174.83,217.46 L174.91,215.95 L174.98,214.43 L175.06,212.91 L175.13,211.4 L175.19,209.88 L175.26,208.37 L175.32,206.86 L175.37,205.35 L175.43,203.84 L175.48,202.34 L175.53,200.84 L175.58,199.34 L175.63,197.84 L175.68,196.34 L175.72,194.85 L175.77,193.36 L175.81,191.87 L175.86,190.38 L175.91,188.89 L175.96,187.4 L176.01,185.92 L176.06,184.44 L176.12,182.96 L176.18,181.47 L176.24,179.99 L176.31,178.51 L176.39,177.03 L176.47,175.55 L176.55,174.07 L176.64,172.6 L176.74,171.12 L176.85,169.64 L176.96,168.16 L177.08,166.68 L177.22,165.19 L177.35,163.71 L177.5,162.23 L177.66,160.75 L177.83,159.26 L178.02,157.77 L178.21,156.29 L178.41,154.8 L178.63,153.3 L178.86,151.81 L179.1,150.32 L179.36,148.82 L179.63,147.32 L179.92,145.82 L180.22,144.31 L180.54,142.8 L180.87,141.29 L181.22,139.78 L181.59,138.26 L181.98,136.74 L182.38,135.22 L182.8,133.69 L183.25,132.16 L183.71,130.63 L184.2,129.1 L184.76,127.68 L185.45,126.46 L186.32,125.56 L187.44,125.08 L188.79,125.1 L190.16,125.63 L191.28,126.64 L192.13,127.99 L192.79,129.52 L193.36,131.07 L193.86,132.6 L194.31,134.09 L194.7,135.57 L195.05,137.03 L195.36,138.48 L195.64,139.92 L195.88,141.36 L196.11,142.8 L196.31,144.24 L196.5,145.69 L196.69,147.16 L196.86,148.63 L197.03,150.11 L197.19,151.6 L197.35,153.1 L197.5,154.6 L197.64,156.11 L197.78,157.62 L197.91,159.14 L198.04,160.66 L198.16,162.17 L198.28,163.69 L198.4,165.2 L198.51,166.72 L198.62,168.23 L198.73,169.75 L198.83,171.26 L198.93,172.77 L199.03,174.28 L199.12,175.8 L199.22,177.31 L199.31,178.82 L199.4,180.33 L199.48,181.83 L199.57,183.34 L199.65,184.85 L199.74,186.36 L199.82,187.86 L199.9,189.37 L199.98,190.87 L200.07,192.38 L200.15,193.88 L200.23,195.39 L200.31,196.89 L200.39,198.39 L200.47,199.9 L200.56,201.4 L200.64,202.9 L200.72,204.4 L200.81,205.9 L200.9,207.4 L200.99,208.9 L201.08,210.39 L201.17,211.89 L201.27,213.39 L201.37,214.88 L201.47,216.38 L201.57,217.88 L201.68,219.37 L201.78,220.87 L201.9,222.36 L202.01,223.85 L202.13,225.35 L202.26,226.84 L202.39,228.33 L202.52,229.82 L202.66,231.31 L202.8,232.8 L202.94,234.29 L203.09,235.78 L203.25,237.27 L203.41,238.76 L203.58,240.25 L203.75,241.73 L203.93,243.22 L204.12,244.71 L204.31,246.19 L204.51,247.68 L204.71,249.16 L204.92,250.65 L205.14,252.13 L205.37,253.62 L205.6,255.1 L205.84,256.58 L206.09,258.07 L206.35,259.55 L206.61,261.03 L206.89,262.51 L207.17,263.99 L207.46,265.47 L207.76,266.95 L208.07,268.43 L208.38,269.91 L208.71,271.39 L209.05,272.86 L209.4,274.34 L209.75,275.82 L210.12,277.29 L210.5,278.77 L210.89,280.24 L211.28,281.71 L211.69,283.18 L212.11,284.65 L212.55,286.11 L212.99,287.58 L213.44,289.03 L213.91,290.49 L214.39,291.94 L214.88,293.38 L215.38,294.82 L215.89,296.26 L216.42,297.69 L216.96,299.11 L217.51,300.53 L218.07,301.94 L218.65,303.35 L219.24,304.74 L219.85,306.13 L220.46,307.52 L221.09,308.89 L221.74,310.26 L222.4,311.61 L223.07,312.96 L223.76,314.3 L224.46,315.63 L225.18,316.95 L225.91,318.26 L226.66,319.56 L227.42,320.85 L228.2,322.12 L228.99,323.39 L229.8,324.64 L230.62,325.88 L231.46,327.11 L232.32,328.33 L233.19,329.53 L234.08,330.72 L234.99,331.89 L235.91,333.05 L236.85,334.2 L237.8,335.33 L238.78,336.44 L239.77,337.54 L240.78,338.62 L241.8,339.69 L242.85,340.74 L243.91,341.78 L244.99,342.8 L246.09,343.79 L247.2,344.78 L248.34,345.74 L249.49,346.69 L250.67,347.61 L251.86,348.52 L253.07,349.41 L254.3,350.28 L255.55,351.13 L256.81,351.96 L258.09,352.78 L259.38,353.57 L260.69,354.35 L262.02,355.12 L263.35,355.87 L264.7,356.6 L266.06,357.31 L267.43,358.01 L268.81,358.7 L270.2,359.37 L271.59,360.03 L273,360.67 L274.41,361.3 L275.83,361.92 L277.26,362.52 L278.69,363.11 L280.12,363.69 L281.56,364.26 L282.99,364.81 L284.44,365.36 L285.88,365.89 L287.32,366.42 L288.76,366.93 L290.2,367.43 L291.64,367.93 L293.08,368.41 L294.51,368.89 L295.94,369.36 L297.37,369.82 L298.79,370.27 L300.2,370.72 L301.61,371.16 L303,371.59 L304.39,372.02 L305.78,372.44 L307.15,372.85 L308.51,373.26 L309.85,373.67" fill="none" stroke="#dc00a0" stroke-width="1.25" stroke-linejoin="round" stroke-linecap="round"/>
<path d="M54.85,380.12 L56.41,379.9 L57.97,379.66 L59.52,379.41 L61.06,379.14 L62.61,378.86 L64.15,378.56 L65.68,378.25 L67.21,377.92 L68.73,377.57 L70.25,377.21 L71.77,376.84 L73.27,376.45 L74.78,376.04 L76.27,375.62 L77.76,375.18 L79.24,374.73 L80.72,374.26 L82.19,373.77 L83.65,373.27 L85.1,372.76 L86.55,372.22 L87.99,371.67 L89.42,371.11 L90.84,370.53 L92.25,369.93 L93.65,369.32 L95.05,368.69 L96.43,368.05 L97.81,367.38 L99.18,366.71 L100.53,366.01 L101.88,365.3 L103.21,364.58 L104.54,363.83 L105.85,363.07 L107.16,362.3 L108.45,361.51 L109.73,360.7 L111,359.87 L112.25,359.03 L113.5,358.17 L114.73,357.29 L115.95,356.4 L117.15,355.49 L118.35,354.57 L119.52,353.62 L120.69,352.66 L121.84,351.68 L122.98,350.69 L124.1,349.68 L125.21,348.65 L126.31,347.61 L127.39,346.54 L128.45,345.46 L129.5,344.37 L130.54,343.25 L131.55,342.12 L132.56,340.97 L133.54,339.8 L134.51,338.62 L135.46,337.42 L136.4,336.2 L137.32,334.96 L138.22,333.71 L139.1,332.43 L139.97,331.14 L140.82,329.84 L141.64,328.51 L142.46,327.17 L143.25,325.81 L144.02,324.43 L144.77,323.03 L145.51,321.61 L146.22,320.18 L146.92,318.73 L147.59,317.26 L148.25,315.77 L148.8,316.4 L149.3,8.7 L149.3,8.7 C149.38,13.92 149.63,24.78 149.8,40 C149.97,55.22 150.15,81.67 150.3,100 C150.45,118.33 150.33,139 150.7,150 C151.07,161 151.6,162.3 152.5,166 C153.4,169.7 155.02,171.87 156.1,172.2 C157.18,172.53 157.92,171.7 159,168 C160.08,164.3 161.68,154.62 162.6,150 C163.52,145.38 163.83,144.97 164.5,140.3 C165.17,135.63 165.92,127.38 166.6,122 C167.28,116.62 167.98,113.33 168.6,108 C169.22,102.67 169.73,99.67 170.3,90 C170.87,80.33 171.43,64.92 172,50 C172.57,35.08 173.42,8.75 173.7,0.5 L175.6,0.5 L175.9,326.1 L176.2,326.29 L176.52,324.79 L176.83,323.29 L177.13,321.79 L177.43,320.29 L177.73,318.8 L178.02,317.3 L178.3,315.81 L178.58,314.31 L178.85,312.82 L179.12,311.32 L179.39,309.83 L179.65,308.34 L179.9,306.85 L180.15,305.36 L180.4,303.87 L180.64,302.38 L180.88,300.89 L181.11,299.41 L181.34,297.92 L181.56,296.43 L181.78,294.95 L182,293.46 L182.21,291.98 L182.41,290.49 L182.62,289.01 L182.82,287.52 L183.01,286.04 L183.2,284.56 L183.39,283.07 L183.57,281.59 L183.75,280.1 L183.93,278.62 L184.1,277.14 L184.27,275.66 L184.44,274.17 L184.6,272.69 L184.76,271.21 L184.91,269.72 L185.07,268.24 L185.22,266.76 L185.36,265.28 L185.51,263.79 L185.65,262.31 L185.78,260.83 L185.92,259.34 L186.05,257.86 L186.18,256.37 L186.31,254.89 L186.43,253.4 L186.55,251.92 L186.67,250.43 L186.78,248.94 L186.9,247.46 L187.01,245.97 L187.12,244.48 L187.22,242.99 L187.33,241.5 L187.43,240.01 L187.53,238.52 L187.63,237.03 L187.72,235.54 L187.82,234.05 L187.91,232.55 L188,231.06 L188.09,229.56 L188.18,228.07 L188.26,226.57 L188.35,225.07 L188.43,223.58 L188.51,222.08 L188.59,220.58 L188.67,219.07 L188.74,217.57 L188.82,216.07 L188.89,214.56 L188.97,213.06 L189.04,211.55 L189.11,210.04 L189.18,208.53 L189.25,207.02 L189.32,205.51 L189.38,203.99 L189.45,202.48 L189.52,200.96 L189.58,199.44 L189.65,197.92 L189.71,196.4 L189.78,194.88 L189.84,193.36 L189.9,191.83 L189.97,190.3 L190.03,188.78 L190.09,187.24 L190.16,185.71 L190.22,184.18 L190.28,182.64 L190.34,181.11 L190.41,179.57 L190.47,178.03 L190.53,176.48 L190.6,174.94 L190.66,173.4 L190.72,171.86 L190.78,170.31 L190.84,168.77 L190.9,167.23 L190.96,165.69 L191.02,164.15 L191.08,162.62 L191.14,161.09 L191.19,159.56 L191.25,158.04 L191.3,156.52 L191.35,155 L191.4,153.49 L191.44,151.99 L191.49,150.49 L191.53,149 L191.57,147.52 L191.61,146.04 L191.64,144.57 L191.68,143.11 L191.71,141.66 L191.73,140.21 L191.76,138.78 L191.78,137.35 L191.8,135.94 L191.81,134.54 L191.82,133.14 L191.83,131.75 L191.85,130.36 L191.86,128.96 L191.88,127.55 L191.91,126.12 L191.95,124.67 L191.99,123.19 L192.05,121.68 L192.13,120.13 L192.22,118.54 L192.33,116.9 L192.46,115.2 L192.61,113.44 L192.79,111.62 L193,109.78 L193.23,108.13 L193.5,106.93 L193.8,106.42 L194.14,106.78 L194.49,107.87 L194.82,109.4 L195.09,111.08 L195.3,112.74 L195.46,114.38 L195.57,115.99 L195.66,117.59 L195.74,119.16 L195.82,120.73 L195.9,122.28 L195.98,123.82 L196.07,125.35 L196.16,126.87 L196.25,128.38 L196.35,129.88 L196.45,131.38 L196.55,132.86 L196.65,134.35 L196.75,135.82 L196.85,137.3 L196.95,138.77 L197.06,140.23 L197.16,141.7 L197.26,143.16 L197.36,144.62 L197.47,146.09 L197.56,147.55 L197.66,149.02 L197.75,150.49 L197.85,151.96 L197.94,153.43 L198.03,154.91 L198.11,156.39 L198.2,157.87 L198.28,159.36 L198.37,160.84 L198.45,162.33 L198.53,163.82 L198.61,165.31 L198.69,166.81 L198.77,168.3 L198.84,169.8 L198.92,171.3 L199,172.8 L199.08,174.3 L199.15,175.8 L199.23,177.31 L199.31,178.82 L199.39,180.32 L199.47,181.83 L199.55,183.34 L199.63,184.85 L199.71,186.36 L199.79,187.88 L199.88,189.39 L199.97,190.9 L200.05,192.42 L200.14,193.94 L200.23,195.45 L200.32,196.97 L200.42,198.49 L200.52,200 L200.62,201.52 L200.72,203.04 L200.82,204.56 L200.93,206.08 L201.04,207.59 L201.15,209.11 L201.27,210.63 L201.39,212.15 L201.51,213.67 L201.64,215.18 L201.77,216.7 L201.9,218.22 L202.04,219.73 L202.18,221.25 L202.33,222.76 L202.48,224.28 L202.63,225.79 L202.79,227.3 L202.96,228.82 L203.13,230.33 L203.3,231.84 L203.48,233.34 L203.66,234.85 L203.85,236.36 L204.05,237.86 L204.25,239.36 L204.46,240.86 L204.67,242.36 L204.89,243.86 L205.11,245.36 L205.34,246.85 L205.58,248.35 L205.83,249.84 L206.08,251.33 L206.33,252.81 L206.6,254.3 L206.87,255.78 L207.15,257.26 L207.44,258.74 L207.73,260.22 L208.03,261.69 L208.34,263.16 L208.66,264.63 L208.99,266.09 L209.32,267.56 L209.66,269.02 L210.01,270.47 L210.37,271.93 L210.74,273.38 L211.11,274.83 L211.5,276.27 L211.9,277.71 L212.3,279.15 L212.71,280.59 L213.14,282.02 L213.57,283.45 L214.01,284.87 L214.46,286.29 L214.92,287.71 L215.4,289.12 L215.88,290.53 L216.37,291.94 L216.88,293.34 L217.39,294.74 L217.92,296.13 L218.45,297.52 L219,298.91 L219.56,300.29 L220.13,301.67 L220.71,303.04 L221.3,304.41 L221.91,305.77 L222.52,307.13 L223.15,308.48 L223.79,309.83 L224.45,311.17 L225.11,312.51 L225.79,313.85 L226.48,315.18 L227.18,316.5 L227.9,317.82 L228.63,319.13 L229.37,320.44 L230.13,321.74 L230.9,323.04 L231.68,324.32 L232.48,325.6 L233.29,326.87 L234.12,328.13 L234.96,329.39 L235.81,330.63 L236.68,331.86 L237.56,333.08 L238.46,334.29 L239.37,335.49 L240.3,336.67 L241.24,337.84 L242.2,339 L243.17,340.15 L244.16,341.28 L245.17,342.39 L246.19,343.49 L247.22,344.57 L248.28,345.64 L249.34,346.69 L250.43,347.72 L251.53,348.74 L252.65,349.73 L253.79,350.71 L254.94,351.67 L256.11,352.61 L257.29,353.52 L258.5,354.42 L259.72,355.29 L260.96,356.15 L262.21,356.98 L263.49,357.78 L264.78,358.57 L266.09,359.33 L267.42,360.06 L268.77,360.77 L270.13,361.45 L271.51,362.11 L272.91,362.75 L274.33,363.36 L275.76,363.96 L277.2,364.53 L278.64,365.09 L280.1,365.63 L281.57,366.16 L283.04,366.67 L284.51,367.17 L285.98,367.67 L287.46,368.16 L288.93,368.64 L290.4,369.11 L291.87,369.58 L293.33,370.06 L294.78,370.53 L296.23,371 L297.66,371.47 L299.08,371.96 L300.49,372.44 L301.88,372.94 L303.25,373.44 L304.61,373.96 L305.94,374.48 L307.25,375.02 L308.54,375.58 L309.81,376.16" fill="none" stroke="#3f9c0c" stroke-width="1.25" stroke-linejoin="round" stroke-linecap="round"/>
<path d="M309.6,376.23 L310.71,375.2 L311.83,374.18 L312.95,373.16 L314.08,372.15 L315.21,371.15 L316.35,370.15 L317.49,369.16 L318.64,368.17 L319.78,367.19 L320.93,366.21 L322.09,365.24 L323.24,364.27 L324.4,363.3 L325.55,362.33 L326.71,361.37 L327.87,360.4 L329.02,359.44 L330.18,358.47 L331.33,357.51 L332.48,356.54 L333.63,355.57 L334.78,354.61 L335.92,353.63 L337.05,352.66 L338.19,351.68 L339.32,350.69 L340.44,349.7 L341.56,348.71 L342.67,347.71 L343.77,346.7 L344.87,345.69 L345.96,344.67 L347.04,343.64 L348.11,342.6 L349.17,341.56 L350.23,340.5 L351.27,339.44 L352.3,338.36 L353.32,337.27 L354.33,336.17 L355.33,335.06 L356.32,333.94 L357.29,332.8 L358.25,331.65 L359.2,330.49 L360.13,329.31 L361.05,328.11 L361.95,326.9 L362.83,325.67 L363.7,324.43 L364.56,323.17 L365.39,321.89 L366.21,320.59 L367.01,319.28 L367.79,317.94 L368.56,316.58 L369.3,315.21 L370.03,313.82 L370.74,312.41 L371.44,310.99 L372.14,309.57 L372.82,308.13 L373.5,306.7 L374.18,305.26 L374.86,303.83 L375.54,302.4 L376.23,300.98 L376.92,299.57 L377.62,298.17 L378.34,296.79 L379.06,295.43 L379.81,294.08 L380.57,292.77 L381.35,291.48 L382.16,290.21 L382.99,288.99 L383.85,287.79 L384.73,286.64 L385.66,285.52 L386.61,284.45 L387.61,283.42 L388.64,282.45 L389.71,281.55 L390.82,280.8 L391.97,280.26 L393.15,279.94 L394.36,279.84 L395.57,279.95 L396.77,280.24 L397.96,280.7 L399.12,281.32 L400.23,282.08 L401.29,282.97 L402.29,283.96 L403.21,285.05 L404.06,286.22 L404.86,287.48 L405.6,288.8 L406.29,290.19 L406.95,291.63 L407.58,293.11 L408.18,294.63 L408.76,296.18 L409.34,297.75 L409.91,299.33 L410.48,300.91 L411.07,302.49 L411.67,304.05 L412.29,305.6 L412.93,307.12 L413.6,308.62 L414.3,310.09 L415.03,311.52 L415.79,312.91 L416.6,314.25 L417.44,315.55 L418.33,316.79 L419.26,317.98 L420.25,319.1 L421.29,320.15 L422.38,321.13 L423.54,322.04 L424.76,322.86 L426.04,323.59 L427.36,324.22 L428.7,324.71 L430.05,325.04 L431.39,325.2 L432.69,325.17 L433.94,324.91 L435.11,324.42 L436.2,323.67 L437.2,322.69 L438.13,321.54 L439,320.29 L439.83,318.98 L440.62,317.66 L441.38,316.32 L442.11,314.98 L442.8,313.63 L443.47,312.27 L444.1,310.9 L444.7,309.52 L445.27,308.14 L445.82,306.74 L446.33,305.34 L446.82,303.93 L447.29,302.51 L447.72,301.08 L448.13,299.65 L448.52,298.21 L448.88,296.76 L449.22,295.3 L449.54,293.84 L449.84,292.38 L450.11,290.9 L450.36,289.42 L450.6,287.94 L450.81,286.45 L451.01,284.96 L451.18,283.46 L451.34,281.95 L451.49,280.45 L451.61,278.93 L451.73,277.42 L451.82,275.9 L451.91,274.37 L451.98,272.85 L452.03,271.32 L452.08,269.79 L452.11,268.25 L452.14,266.71 L452.15,265.17 L452.15,263.63 L452.15,262.09 L452.13,260.54 L452.11,259 L452.09,257.45 L452.05,255.9 L452.02,254.35 L451.97,252.8 L451.93,251.25 L451.88,249.7 L451.82,248.16 L451.77,246.61 L451.71,245.06 L451.65,243.51 L451.6,241.97 L451.54,240.42 L451.48,238.88 L451.43,237.34 L451.38,235.8 L451.33,234.26 L451.29,232.73 L451.25,231.2 L451.21,229.67 L451.19,228.15 L451.17,226.62 L451.15,225.11 L451.14,223.59 L451.15,222.08 L451.16,220.57 L451.18,219.07 L451.21,217.58 L451.25,216.08 L451.31,214.6 L451.38,213.12 L451.46,211.64 L451.55,210.17 L451.66,208.71 L451.79,207.25 L451.93,205.8 L452.08,204.35 L452.26,202.92 L452.45,201.48 L452.66,200.06 L452.6,200 L455.3,0.5 L459.4,0.5 L461.3,200 L460.96,200.24 L461.1,201.7 L461.23,203.16 L461.35,204.62 L461.47,206.09 L461.58,207.56 L461.68,209.04 L461.77,210.52 L461.86,212 L461.94,213.48 L462.01,214.97 L462.08,216.46 L462.15,217.96 L462.21,219.45 L462.26,220.95 L462.31,222.45 L462.36,223.96 L462.41,225.46 L462.45,226.97 L462.49,228.48 L462.52,230 L462.56,231.51 L462.59,233.03 L462.62,234.55 L462.65,236.07 L462.67,237.59 L462.7,239.11 L462.73,240.63 L462.75,242.16 L462.78,243.69 L462.81,245.22 L462.84,246.75 L462.87,248.28 L462.9,249.81 L462.94,251.34 L462.97,252.87 L463.01,254.4 L463.05,255.94 L463.1,257.47 L463.15,259.01 L463.2,260.54 L463.26,262.08 L463.32,263.61 L463.39,265.14 L463.46,266.68 L463.54,268.21 L463.62,269.75 L463.71,271.28 L463.8,272.81 L463.91,274.34 L464.02,275.88 L464.13,277.41 L464.26,278.94 L464.39,280.47 L464.53,281.99 L464.68,283.52 L464.84,285.04 L465.01,286.57 L465.19,288.09 L465.38,289.61 L465.58,291.13 L465.79,292.65 L466.01,294.16 L466.24,295.68 L466.48,297.19 L466.74,298.69 L467.01,300.2 L467.29,301.7 L467.59,303.19 L467.9,304.69 L468.22,306.17 L468.56,307.65 L468.92,309.13 L469.29,310.6 L469.68,312.06 L470.08,313.52 L470.5,314.97 L470.94,316.41 L471.4,317.85 L471.88,319.27 L472.37,320.69 L472.89,322.1 L473.42,323.5 L473.98,324.89 L474.55,326.27 L475.15,327.64 L475.77,329 L476.41,330.35 L477.07,331.69 L477.75,333.01 L478.46,334.33 L479.18,335.63 L479.93,336.92 L480.7,338.19 L481.49,339.46 L482.29,340.7 L483.12,341.94 L483.97,343.16 L484.84,344.37 L485.73,345.56 L486.64,346.74 L487.56,347.9 L488.51,349.05 L489.47,350.18 L490.46,351.29 L491.46,352.39 L492.48,353.47 L493.52,354.53 L494.58,355.58 L495.65,356.61 L496.74,357.62 L497.85,358.61 L498.98,359.58 L500.12,360.54 L501.29,361.47 L502.46,362.39 L503.66,363.29 L504.87,364.16 L506.1,365.02 L507.34,365.85 L508.6,366.66 L509.87,367.46 L511.17,368.23 L512.47,368.97 L513.79,369.7 L515.13,370.4 L516.48,371.08 L517.84,371.74 L519.22,372.37 L520.62,372.98 L522.03,373.57 L523.45,374.13 L524.89,374.66 L526.34,375.17 L527.8,375.66 L529.27,376.12 L530.76,376.55 L532.27,376.96 L533.78,377.34 L535.31,377.69 L536.85,378.02 L538.4,378.32 L539.96,378.59 L541.54,378.83 L543.12,379.05 L544.72,379.23 L546.33,379.39 L547.95,379.52 L549.58,379.61 L551.23,379.68 L552.88,379.72 L554.54,379.73" fill="none" stroke="#78d79c" stroke-width="1.25" stroke-linejoin="round" stroke-linecap="round"/>
<path d="M308.94,375.63 L310.24,374.79 L311.53,373.94 L312.81,373.08 L314.08,372.22 L315.34,371.34 L316.59,370.45 L317.82,369.54 L319.04,368.63 L320.25,367.71 L321.45,366.78 L322.64,365.84 L323.82,364.88 L324.99,363.92 L326.15,362.95 L327.29,361.97 L328.43,360.98 L329.55,359.98 L330.67,358.97 L331.77,357.95 L332.87,356.92 L333.95,355.88 L335.03,354.84 L336.09,353.78 L337.15,352.72 L338.19,351.64 L339.22,350.56 L340.25,349.47 L341.27,348.38 L342.27,347.27 L343.27,346.16 L344.26,345.04 L345.24,343.91 L346.21,342.77 L347.17,341.63 L348.12,340.48 L349.06,339.32 L350,338.15 L350.92,336.98 L351.84,335.8 L352.75,334.61 L353.65,333.42 L354.54,332.22 L355.43,331.01 L356.3,329.8 L357.17,328.58 L358.03,327.35 L358.88,326.12 L359.73,324.89 L360.56,323.64 L361.39,322.39 L362.22,321.14 L363.03,319.88 L363.84,318.61 L364.64,317.34 L365.43,316.07 L366.22,314.79 L367,313.5 L367.77,312.21 L368.54,310.92 L369.3,309.62 L370.05,308.31 L370.8,307 L371.54,305.69 L372.27,304.37 L373,303.05 L373.72,301.73 L374.44,300.4 L375.15,299.07 L375.86,297.73 L376.55,296.39 L377.25,295.05 L377.93,293.7 L378.62,292.36 L379.29,291 L379.96,289.65 L380.63,288.29 L381.29,286.93 L381.95,285.57 L382.6,284.2 L383.25,282.83 L383.89,281.46 L384.53,280.09 L385.16,278.71 L385.79,277.34 L386.41,275.96 L387.04,274.57 L387.65,273.19 L388.26,271.8 L388.87,270.41 L389.48,269.02 L390.08,267.63 L390.68,266.24 L391.27,264.84 L391.86,263.45 L392.45,262.05 L393.04,260.65 L393.62,259.25 L394.2,257.84 L394.77,256.44 L395.35,255.04 L395.92,253.63 L396.49,252.22 L397.05,250.82 L397.62,249.41 L398.18,248 L398.74,246.59 L399.29,245.18 L399.85,243.77 L400.4,242.36 L400.96,240.94 L401.51,239.53 L402.05,238.12 L402.6,236.71 L403.15,235.29 L403.69,233.88 L404.24,232.47 L404.78,231.06 L405.32,229.64 L405.86,228.23 L406.4,226.82 L406.94,225.41 L407.48,224 L408.02,222.59 L408.56,221.18 L409.09,219.77 L409.63,218.36 L410.17,216.95 L410.71,215.55 L411.25,214.14 L411.78,212.74 L412.32,211.33 L412.86,209.93 L413.4,208.53 L413.94,207.13 L414.49,205.73 L415.03,204.34 L415.57,202.94 L416.12,201.55 L416.66,200.16 L417.21,198.77 L417.76,197.38 L418.31,195.99 L418.86,194.61 L419.4,193.22 L419.95,191.84 L420.49,190.45 L421.02,189.06 L421.54,187.66 L422.04,186.26 L422.54,184.85 L423.01,183.42 L423.46,181.99 L423.89,180.55 L424.3,179.09 L424.67,177.61 L425.02,176.12 L425.34,174.62 L425.62,173.09 L425.87,171.54 L426.08,169.97 L426.24,168.38 L426.37,166.76 L426.47,165.14 L426.59,163.52 L426.75,161.93 L426.98,160.39 L427.31,158.91 L427.76,157.5 L428.37,156.2 L429.17,155.02 L430.17,153.98 L431.36,153.24 L432.7,152.95 L434.15,153.05 L435.65,153.16 L437.14,153.3 L438.55,153.65 L439.86,154.31 L441.07,155.21 L442.19,156.27 L443.25,157.41 L444.25,158.57 L445.19,159.77 L446.08,161 L446.93,162.25 L447.73,163.53 L448.48,164.83 L449.2,166.15 L449.89,167.48 L450.54,168.84 L451.17,170.2 L451.77,171.58 L452.35,172.97 L452.91,174.36 L453.45,175.75 L453.98,177.16 L454.49,178.56 L454.99,179.98 L455.47,181.39 L455.94,182.82 L456.39,184.24 L456.82,185.68 L457.24,187.11 L457.65,188.56 L458.04,190 L458.42,191.45 L458.79,192.91 L459.14,194.36 L459.48,195.83 L459.81,197.29 L460.13,198.76 L460.43,200.23 L460.73,201.71 L461.01,203.19 L461.28,204.67 L461.55,206.16 L461.8,207.65 L462.04,209.14 L462.28,210.63 L462.5,212.13 L462.72,213.63 L462.93,215.13 L463.13,216.64 L463.32,218.14 L463.51,219.65 L463.69,221.16 L463.86,222.67 L464.03,224.18 L464.19,225.7 L464.34,227.22 L464.49,228.73 L464.63,230.25 L464.77,231.77 L464.91,233.29 L465.04,234.81 L465.17,236.33 L465.29,237.86 L465.41,239.38 L465.53,240.9 L465.64,242.43 L465.76,243.95 L465.87,245.47 L465.98,247 L466.09,248.52 L466.19,250.04 L466.3,251.56 L466.41,253.08 L466.52,254.6 L466.62,256.12 L466.73,257.64 L466.84,259.16 L466.95,260.68 L467.07,262.19 L467.18,263.7 L467.3,265.22 L467.42,266.73 L467.54,268.23 L467.67,269.74 L467.8,271.24 L467.93,272.75 L468.07,274.25 L468.21,275.74 L468.36,277.24 L468.5,278.73 L468.65,280.23 L468.8,281.72 L468.95,283.21 L469.1,284.7 L469.26,286.19 L469.41,287.68 L469.56,289.17 L469.72,290.66 L469.87,292.15 L470.02,293.63 L470.17,295.12 L470.32,296.61 L470.47,298.1 L470.61,299.59 L470.75,301.08 L470.89,302.57 L471.03,304.07 L471.16,305.56 L471.28,307.05 L471.41,308.55 L471.52,310.05 L471.64,311.55 L471.74,313.05 L471.85,314.56 L471.94,316.07 L472.03,317.58 L472.11,319.09 L472.18,320.6 L472.25,322.12 L472.31,323.64 L472.36,325.17 L472.4,326.69 L472.44,328.23 L472.46,329.76 L472.47,331.3 L472.48,332.84 L472.68,332.66 L473.6,333.92 L474.54,335.16 L475.5,336.38 L476.47,337.58 L477.46,338.76 L478.47,339.92 L479.5,341.07 L480.54,342.19 L481.6,343.3 L482.67,344.39 L483.76,345.46 L484.87,346.52 L485.98,347.55 L487.12,348.57 L488.26,349.58 L489.42,350.56 L490.6,351.53 L491.78,352.48 L492.98,353.42 L494.19,354.34 L495.41,355.25 L496.65,356.14 L497.89,357.02 L499.15,357.88 L500.42,358.73 L501.69,359.56 L502.98,360.38 L504.28,361.18 L505.59,361.98 L506.9,362.75 L508.23,363.52 L509.56,364.27 L510.9,365.01 L512.25,365.74 L513.6,366.45 L514.96,367.15 L516.33,367.84 L517.71,368.52 L519.09,369.19 L520.48,369.85 L521.87,370.49 L523.27,371.13 L524.67,371.75 L526.08,372.37 L527.49,372.97 L528.9,373.57 L530.32,374.15 L531.74,374.73 L533.16,375.3 L534.59,375.86 L536.02,376.41 L537.45,376.95 L538.88,377.48 L540.31,378.01 L541.75,378.53 L543.18,379.04 L544.61,379.54 L546.05,380.04" fill="none" stroke="#6080ff" stroke-width="1.25" stroke-linejoin="round" stroke-linecap="round"/>
<path d="M309.5,375.89 L310.58,374.97 L311.68,374.05 L312.79,373.12 L313.92,372.2 L315.06,371.27 L316.2,370.34 L317.35,369.4 L318.52,368.47 L319.68,367.53 L320.85,366.58 L322.03,365.63 L323.2,364.68 L324.38,363.72 L325.56,362.75 L326.73,361.78 L327.91,360.8 L329.07,359.81 L330.24,358.82 L331.39,357.82 L332.54,356.81 L333.68,355.79 L334.81,354.76 L335.93,353.72 L337.03,352.67 L338.12,351.61 L339.19,350.54 L340.25,349.45 L341.29,348.36 L342.31,347.25 L343.32,346.13 L344.3,345 L345.27,343.86 L346.22,342.7 L347.16,341.54 L348.07,340.36 L348.97,339.17 L349.86,337.98 L350.73,336.77 L351.58,335.55 L352.42,334.33 L353.25,333.09 L354.06,331.85 L354.86,330.59 L355.64,329.33 L356.42,328.06 L357.18,326.78 L357.92,325.5 L358.66,324.2 L359.38,322.9 L360.1,321.59 L360.8,320.28 L361.49,318.96 L362.17,317.63 L362.84,316.3 L363.51,314.96 L364.16,313.62 L364.81,312.27 L365.45,310.91 L366.08,309.56 L366.7,308.19 L367.31,306.82 L367.92,305.45 L368.53,304.08 L369.12,302.7 L369.71,301.32 L370.3,299.94 L370.88,298.55 L371.46,297.16 L372.03,295.77 L372.6,294.38 L373.17,292.98 L373.73,291.59 L374.29,290.19 L374.84,288.79 L375.4,287.39 L375.95,285.99 L376.5,284.59 L377.04,283.19 L377.58,281.78 L378.12,280.38 L378.66,278.97 L379.19,277.56 L379.72,276.15 L380.25,274.74 L380.78,273.33 L381.3,271.92 L381.82,270.5 L382.34,269.09 L382.85,267.67 L383.37,266.26 L383.88,264.84 L384.39,263.42 L384.89,262 L385.4,260.58 L385.9,259.16 L386.4,257.74 L386.89,256.32 L387.39,254.89 L387.88,253.47 L388.37,252.04 L388.86,250.62 L389.35,249.19 L389.83,247.76 L390.31,246.34 L390.8,244.91 L391.27,243.48 L391.75,242.05 L392.23,240.62 L392.7,239.19 L393.17,237.75 L393.64,236.32 L394.11,234.89 L394.58,233.46 L395.04,232.02 L395.51,230.59 L395.97,229.15 L396.43,227.72 L396.89,226.28 L397.34,224.85 L397.8,223.41 L398.26,221.98 L398.71,220.54 L399.16,219.1 L399.61,217.67 L400.06,216.23 L400.51,214.79 L400.96,213.35 L401.41,211.91 L401.85,210.48 L402.3,209.04 L402.74,207.6 L403.18,206.16 L403.62,204.72 L404.06,203.28 L404.5,201.85 L404.94,200.41 L405.38,198.97 L405.82,197.53 L406.25,196.09 L406.69,194.65 L407.13,193.21 L407.56,191.78 L407.99,190.34 L408.42,188.9 L408.85,187.46 L409.28,186.02 L409.7,184.58 L410.12,183.14 L410.54,181.69 L410.95,180.25 L411.36,178.81 L411.77,177.36 L412.17,175.92 L412.56,174.47 L412.96,173.02 L413.34,171.57 L413.72,170.12 L414.1,168.67 L414.47,167.21 L414.83,165.76 L415.19,164.3 L415.54,162.84 L415.88,161.37 L416.21,159.91 L416.54,158.44 L416.86,156.97 L417.17,155.5 L417.47,154.03 L417.77,152.55 L418.07,151.08 L418.37,149.61 L418.69,148.14 L419.02,146.67 L419.38,145.21 L419.77,143.76 L420.19,142.33 L420.66,140.9 L421.16,139.48 L421.72,138.09 L422.34,136.7 L423.01,135.33 L423.75,133.98 L424.54,132.64 L425.41,131.31 L426.34,130 L427.34,128.74 L428.41,127.65 L429.55,126.89 L430.76,126.59 L432.02,126.83 L433.3,127.52 L434.54,128.54 L435.7,129.76 L436.72,131.04 L437.61,132.35 L438.38,133.69 L439.07,135.03 L439.69,136.4 L440.27,137.77 L440.83,139.15 L441.39,140.53 L441.94,141.91 L442.49,143.3 L443.04,144.7 L443.58,146.1 L444.12,147.5 L444.65,148.9 L445.18,150.31 L445.71,151.72 L446.23,153.14 L446.74,154.55 L447.24,155.97 L447.74,157.4 L448.23,158.82 L448.72,160.25 L449.19,161.68 L449.65,163.12 L450.11,164.56 L450.56,165.99 L450.99,167.44 L451.42,168.88 L451.83,170.33 L452.24,171.77 L452.63,173.22 L453.01,174.67 L453.38,176.13 L453.73,177.58 L454.08,179.04 L454.41,180.5 L454.74,181.96 L455.05,183.42 L455.35,184.88 L455.65,186.35 L455.94,187.82 L456.21,189.28 L456.48,190.75 L456.74,192.23 L457,193.7 L457.24,195.17 L457.48,196.65 L457.71,198.12 L457.94,199.6 L458.16,201.08 L458.37,202.56 L458.58,204.04 L458.78,205.52 L458.98,207.01 L459.18,208.49 L459.37,209.98 L459.56,211.47 L459.74,212.95 L459.92,214.44 L460.1,215.93 L460.28,217.42 L460.46,218.91 L460.63,220.41 L460.8,221.9 L460.97,223.39 L461.14,224.89 L461.31,226.38 L461.48,227.88 L461.66,229.38 L461.83,230.87 L462,232.37 L462.18,233.87 L462.35,235.37 L462.53,236.87 L462.72,238.36 L462.9,239.86 L463.09,241.36 L463.28,242.87 L463.48,244.37 L463.68,245.87 L463.88,247.37 L464.09,248.87 L464.3,250.37 L464.52,251.87 L464.75,253.37 L464.98,254.88 L465.22,256.38 L465.46,257.88 L465.71,259.38 L465.97,260.88 L466.23,262.37 L466.5,263.87 L466.78,265.37 L467.06,266.86 L467.35,268.35 L467.65,269.85 L467.95,271.34 L468.27,272.82 L468.58,274.31 L468.91,275.79 L469.25,277.28 L469.59,278.76 L469.94,280.23 L470.3,281.71 L470.67,283.18 L471.04,284.65 L471.43,286.11 L471.82,287.58 L472.23,289.03 L472.64,290.49 L473.06,291.94 L473.49,293.39 L473.93,294.84 L474.38,296.28 L474.84,297.71 L475.31,299.14 L475.78,300.57 L476.27,302 L476.77,303.41 L477.28,304.83 L477.8,306.24 L478.33,307.64 L478.87,309.04 L479.43,310.43 L479.99,311.82 L480.57,313.2 L481.15,314.58 L481.75,315.95 L482.36,317.32 L482.98,318.68 L483.61,320.03 L484.26,321.38 L484.92,322.71 L485.59,324.05 L486.27,325.37 L486.96,326.69 L487.67,328.01 L488.39,329.31 L489.12,330.61 L489.87,331.9 L490.63,333.18 L491.4,334.46 L492.19,335.72 L492.99,336.98 L493.8,338.23 L494.63,339.48 L495.47,340.71 L496.33,341.94 L497.2,343.15 L498.08,344.36 L498.98,345.56 L499.9,346.75 L500.83,347.93 L501.77,349.1 L502.73,350.26 L503.7,351.41 L504.69,352.54 L505.7,353.67 L506.71,354.77 L507.75,355.87 L508.8,356.95 L509.86,358.01 L510.94,359.06 L512.03,360.09 L513.14,361.11 L514.27,362.11 L515.41,363.08 L516.56,364.04 L517.73,364.98 L518.92,365.9 L520.12,366.8 L521.34,367.68 L522.57,368.54 L523.82,369.37 L525.08,370.18 L526.36,370.97 L527.65,371.73 L528.96,372.47 L530.29,373.18 L531.63,373.86 L532.99,374.52 L534.36,375.15 L535.75,375.75 L537.16,376.33 L538.58,376.87 L540.02,377.38 L541.47,377.87 L542.94,378.32 L544.43,378.74 L545.93,379.13 L547.45,379.49 L548.99,379.81" fill="none" stroke="#0b7b74" stroke-width="1.25" stroke-linejoin="round" stroke-linecap="round"/>
<path d="M309.01,375.65 L310.33,374.86 L311.64,374.04 L312.93,373.21 L314.2,372.36 L315.46,371.5 L316.71,370.62 L317.94,369.73 L319.16,368.82 L320.36,367.9 L321.54,366.96 L322.71,366 L323.87,365.04 L325.01,364.06 L326.14,363.06 L327.26,362.05 L328.36,361.03 L329.44,360 L330.51,358.95 L331.57,357.89 L332.62,356.82 L333.65,355.74 L334.66,354.64 L335.67,353.53 L336.66,352.42 L337.63,351.29 L338.59,350.15 L339.54,349 L340.48,347.83 L341.4,346.66 L342.31,345.48 L343.21,344.29 L344.1,343.09 L344.97,341.88 L345.83,340.67 L346.67,339.44 L347.51,338.21 L348.33,336.96 L349.14,335.71 L349.94,334.46 L350.72,333.19 L351.49,331.92 L352.25,330.64 L353,329.35 L353.74,328.06 L354.47,326.76 L355.18,325.45 L355.88,324.14 L356.57,322.83 L357.25,321.5 L357.92,320.17 L358.58,318.84 L359.23,317.5 L359.86,316.15 L360.49,314.8 L361.1,313.45 L361.71,312.09 L362.3,310.72 L362.89,309.35 L363.46,307.97 L364.03,306.59 L364.58,305.2 L365.12,303.81 L365.66,302.42 L366.19,301.02 L366.7,299.62 L367.21,298.21 L367.71,296.8 L368.2,295.38 L368.68,293.96 L369.15,292.53 L369.61,291.11 L370.06,289.68 L370.51,288.24 L370.95,286.8 L371.38,285.36 L371.8,283.91 L372.21,282.47 L372.62,281.01 L373.01,279.56 L373.4,278.1 L373.79,276.64 L374.16,275.18 L374.53,273.71 L374.89,272.25 L375.25,270.78 L375.59,269.3 L375.93,267.83 L376.27,266.35 L376.59,264.87 L376.92,263.39 L377.23,261.91 L377.54,260.42 L377.84,258.94 L378.14,257.45 L378.43,255.96 L378.71,254.47 L378.99,252.98 L379.27,251.48 L379.54,249.99 L379.8,248.49 L380.06,247 L380.31,245.5 L380.56,244 L380.8,242.5 L381.04,241 L381.28,239.51 L381.51,238.01 L381.73,236.51 L381.96,235.01 L382.17,233.51 L382.39,232.01 L382.6,230.51 L382.8,229.01 L383.01,227.51 L383.21,226.01 L383.4,224.51 L383.6,223.01 L383.79,221.52 L383.97,220.02 L384.16,218.52 L384.34,217.03 L384.52,215.53 L384.69,214.04 L384.87,212.55 L385.04,211.05 L385.21,209.56 L385.38,208.07 L385.54,206.58 L385.71,205.09 L385.87,203.6 L386.03,202.1 L386.19,200.61 L386.35,199.12 L386.51,197.63 L386.67,196.15 L386.82,194.66 L386.98,193.17 L387.13,191.68 L387.29,190.19 L387.44,188.7 L387.6,187.21 L387.75,185.73 L387.91,184.24 L388.06,182.75 L388.21,181.26 L388.37,179.77 L388.53,178.29 L388.68,176.8 L388.84,175.31 L389,173.82 L389.16,172.34 L389.32,170.85 L389.48,169.36 L389.65,167.87 L389.81,166.39 L389.98,164.9 L390.15,163.41 L390.32,161.92 L390.5,160.43 L390.67,158.94 L390.85,157.45 L391.03,155.96 L391.22,154.47 L391.4,152.98 L391.59,151.49 L391.78,150 L391.98,148.51 L392.17,147.02 L392.37,145.53 L392.57,144.04 L392.78,142.55 L392.98,141.05 L393.19,139.56 L393.4,138.07 L393.6,136.58 L393.82,135.09 L394.03,133.59 L394.24,132.1 L394.46,130.61 L394.67,129.12 L394.89,127.63 L395.11,126.14 L395.33,124.64 L395.54,123.15 L395.76,121.66 L395.98,120.17 L396.2,118.68 L396.42,117.19 L396.65,115.7 L396.87,114.21 L397.09,112.72 L397.31,111.23 L397.53,109.74 L397.75,108.26 L397.97,106.77 L398.18,105.28 L398.4,103.79 L398.62,102.31 L398.83,100.82 L399.05,99.34 L399.26,97.85 L399.48,96.37 L399.69,94.89 L399.9,93.4 L400.11,91.92 L400.31,90.44 L400.52,88.96 L400.72,87.48 L400.92,86 L401.13,84.52 L401.33,83.04 L401.54,81.57 L401.76,80.09 L401.97,78.61 L402.2,77.13 L402.44,75.66 L402.68,74.18 L402.93,72.7 L403.2,71.23 L403.48,69.75 L403.77,68.27 L404.08,66.8 L404.41,65.32 L404.75,63.84 L405.12,62.36 L405.5,60.88 L405.91,59.4 L406.33,57.92 L406.79,56.43 L407.26,54.95 L407.77,53.47 L408.3,51.98 L408.86,50.5 L409.49,49.19 L410.25,48.34 L411.19,48.23 L412.31,48.95 L413.45,50.22 L414.47,51.71 L415.27,53.22 L415.86,54.72 L416.27,56.21 L416.55,57.7 L416.72,59.19 L416.82,60.67 L416.89,62.15 L416.95,63.63 L417.04,65.1 L417.18,66.58 L417.35,68.06 L417.56,69.55 L417.79,71.03 L418.03,72.51 L418.28,74 L418.52,75.48 L418.74,76.97 L418.93,78.46 L419.1,79.95 L419.21,81.44 L419.29,82.93 L419.36,84.42 L419.46,85.92 L419.61,87.43 L419.87,88.94 L420.25,90.46 L420.8,91.98 L421.55,93.51 L422.44,94.85 L423.32,95.63 L424.06,95.5 L424.63,94.52 L425.07,92.95 L425.4,91.05 L425.67,89.09 L425.89,87.27 L426.09,85.59 L426.28,84.03 L426.47,82.56 L426.69,81.16 L426.94,79.81 L427.25,78.49 L427.63,77.16 L428.08,75.82 L428.64,74.44 L429.3,73.06 L430.1,71.7 L431.03,70.39 L432.11,69.16 L433.31,68.11 L434.49,67.48 L435.48,67.55 L436.24,68.35 L436.82,69.68 L437.27,71.32 L437.66,73.07 L438.03,74.76 L438.39,76.4 L438.72,77.99 L439.04,79.54 L439.35,81.05 L439.65,82.53 L439.93,83.98 L440.21,85.42 L440.48,86.84 L440.74,88.26 L440.99,89.68 L441.24,91.1 L441.48,92.53 L441.73,93.97 L441.96,95.41 L442.2,96.86 L442.43,98.31 L442.65,99.76 L442.88,101.22 L443.09,102.69 L443.31,104.16 L443.52,105.63 L443.74,107.1 L443.94,108.58 L444.15,110.07 L444.35,111.55 L444.56,113.04 L444.76,114.53 L444.95,116.03 L445.15,117.53 L445.34,119.02 L445.54,120.53 L445.73,122.03 L445.92,123.53 L446.11,125.04 L446.3,126.54 L446.49,128.05 L446.68,129.56 L446.87,131.07 L447.06,132.58 L447.25,134.08 L447.44,135.59 L447.63,137.1 L447.82,138.61 L448.01,140.12 L448.21,141.62 L448.4,143.13 L448.6,144.63 L448.79,146.13 L448.99,147.63 L449.19,149.13 L449.4,150.63 L449.6,152.12 L449.81,153.61 L450.02,155.1 L450.23,156.59 L450.44,158.07 L450.66,159.55 L450.88,161.03 L451.1,162.51 L451.32,163.98 L451.54,165.45 L451.77,166.92 L451.99,168.39 L452.22,169.86 L452.44,171.33 L452.66,172.8 L452.89,174.26 L453.11,175.73 L453.34,177.19 L453.56,178.66 L453.78,180.12 L454,181.59 L454.22,183.05 L454.43,184.52 L454.65,185.99 L454.86,187.46 L455.06,188.93 L455.27,190.4 L455.47,191.87 L455.67,193.35 L455.86,194.82 L456.05,196.3 L456.24,197.78 L456.42,199.27 L456.6,200.76 L456.77,202.25 L456.94,203.74 L457.1,205.24 L457.26,206.74 L457.41,208.24 L457.55,209.75 L457.69,211.26 L457.83,212.78 L457.96,214.3 L458.09,215.82 L458.21,217.34 L458.34,218.86 L458.46,220.39 L458.58,221.91 L458.71,223.44 L458.83,224.97 L458.95,226.5 L459.08,228.03 L459.2,229.55 L459.34,231.08 L459.47,232.61 L459.61,234.13 L459.75,235.66 L459.9,237.18 L460.05,238.7 L460.21,240.22 L460.37,241.74 L460.55,243.25 L460.73,244.76 L460.92,246.27 L461.12,247.77 L461.33,249.27 L461.55,250.77 L461.78,252.26 L462.02,253.74 L462.27,255.23 L462.54,256.7 L462.81,258.18 L463.09,259.65 L463.39,261.11 L463.69,262.58 L464.01,264.03 L464.33,265.49 L464.67,266.94 L465.01,268.39 L465.37,269.83 L465.73,271.27 L466.11,272.71 L466.49,274.14 L466.89,275.57 L467.29,277 L467.71,278.42 L468.14,279.84 L468.57,281.26 L469.02,282.67 L469.47,284.08 L469.94,285.49 L470.41,286.9 L470.89,288.3 L471.39,289.7 L471.89,291.1 L472.4,292.5 L472.92,293.89 L473.46,295.28 L474,296.67 L474.55,298.06 L475.11,299.44 L475.67,300.82 L476.25,302.21 L476.84,303.58 L477.43,304.96 L478.04,306.33 L478.65,307.71 L479.28,309.08 L479.91,310.45 L480.55,311.82 L481.2,313.18 L481.86,314.55 L482.53,315.91 L483.21,317.27 L483.89,318.63 L484.59,319.98 L485.29,321.33 L486.01,322.68 L486.74,324.02 L487.47,325.35 L488.22,326.68 L488.97,328.01 L489.74,329.33 L490.52,330.64 L491.31,331.94 L492.1,333.24 L492.91,334.53 L493.73,335.81 L494.56,337.08 L495.41,338.35 L496.26,339.6 L497.13,340.85 L498,342.08 L498.89,343.31 L499.8,344.52 L500.71,345.72 L501.63,346.91 L502.57,348.09 L503.52,349.26 L504.48,350.41 L505.46,351.55 L506.45,352.68 L507.45,353.79 L508.46,354.89 L509.49,355.97 L510.53,357.04 L511.58,358.09 L512.65,359.12 L513.73,360.14 L514.83,361.15 L515.93,362.13 L517.06,363.1 L518.19,364.05 L519.35,364.98 L520.51,365.89 L521.69,366.79 L522.89,367.66 L524.1,368.52 L525.32,369.35 L526.56,370.16 L527.81,370.96 L529.08,371.73 L530.37,372.47 L531.67,373.2 L532.99,373.9 L534.32,374.58 L535.67,375.24 L537.03,375.87 L538.42,376.48 L539.81,377.07 L541.23,377.63 L542.66,378.16 L544.1,378.67 L545.57,379.15 L547.05,379.61 L548.55,380.03" fill="none" stroke="#ff7c96" stroke-width="1.25" stroke-linejoin="round" stroke-linecap="round"/>
<path d="M308.58,375.78 L309.96,374.95 L311.33,374.1 L312.68,373.24 L314.01,372.36 L315.32,371.48 L316.62,370.58 L317.89,369.66 L319.15,368.74 L320.39,367.8 L321.62,366.85 L322.82,365.89 L324.01,364.91 L325.18,363.93 L326.34,362.93 L327.48,361.92 L328.6,360.9 L329.7,359.86 L330.79,358.82 L331.87,357.77 L332.93,356.7 L333.97,355.62 L334.99,354.54 L336.01,353.44 L337,352.33 L337.98,351.21 L338.95,350.08 L339.9,348.95 L340.84,347.8 L341.76,346.64 L342.67,345.48 L343.57,344.3 L344.45,343.11 L345.31,341.92 L346.17,340.72 L347.01,339.51 L347.83,338.29 L348.65,337.06 L349.45,335.82 L350.24,334.58 L351.01,333.32 L351.78,332.06 L352.53,330.79 L353.27,329.52 L354,328.24 L354.71,326.94 L355.42,325.65 L356.11,324.34 L356.79,323.03 L357.46,321.71 L358.12,320.39 L358.77,319.06 L359.41,317.72 L360.03,316.38 L360.65,315.03 L361.26,313.67 L361.86,312.31 L362.44,310.95 L363.02,309.58 L363.59,308.2 L364.15,306.82 L364.7,305.43 L365.24,304.04 L365.78,302.65 L366.3,301.25 L366.82,299.84 L367.32,298.43 L367.82,297.02 L368.31,295.6 L368.8,294.18 L369.27,292.76 L369.74,291.33 L370.2,289.9 L370.66,288.47 L371.1,287.03 L371.54,285.59 L371.98,284.15 L372.4,282.7 L372.82,281.25 L373.24,279.8 L373.65,278.35 L374.05,276.9 L374.45,275.44 L374.84,273.99 L375.22,272.53 L375.61,271.07 L375.98,269.61 L376.35,268.14 L376.72,266.68 L377.08,265.21 L377.44,263.75 L377.79,262.28 L378.14,260.81 L378.48,259.34 L378.82,257.87 L379.16,256.4 L379.49,254.93 L379.82,253.46 L380.14,251.98 L380.46,250.51 L380.78,249.03 L381.09,247.55 L381.4,246.08 L381.71,244.6 L382.01,243.12 L382.31,241.64 L382.61,240.16 L382.9,238.68 L383.19,237.2 L383.48,235.72 L383.76,234.23 L384.05,232.75 L384.33,231.27 L384.6,229.78 L384.88,228.3 L385.15,226.81 L385.43,225.33 L385.7,223.84 L385.96,222.35 L386.23,220.87 L386.49,219.38 L386.76,217.89 L387.02,216.4 L387.28,214.92 L387.54,213.43 L387.79,211.94 L388.05,210.45 L388.3,208.96 L388.56,207.47 L388.81,205.98 L389.06,204.5 L389.32,203.01 L389.57,201.52 L389.82,200.03 L390.07,198.54 L390.32,197.05 L390.57,195.56 L390.82,194.07 L391.07,192.58 L391.32,191.1 L391.57,189.61 L391.82,188.12 L392.07,186.63 L392.33,185.14 L392.58,183.66 L392.83,182.17 L393.09,180.68 L393.34,179.2 L393.6,177.71 L393.86,176.22 L394.11,174.74 L394.37,173.25 L394.64,171.77 L394.9,170.29 L395.16,168.8 L395.43,167.32 L395.7,165.84 L395.97,164.36 L396.24,162.88 L396.51,161.4 L396.79,159.92 L397.07,158.44 L397.35,156.96 L397.63,155.48 L397.91,154.01 L398.2,152.53 L398.49,151.06 L398.79,149.58 L399.08,148.11 L399.38,146.64 L399.69,145.17 L399.99,143.7 L400.3,142.23 L400.62,140.76 L400.93,139.3 L401.25,137.83 L401.58,136.37 L401.9,134.9 L402.24,133.44 L402.57,131.98 L402.91,130.52 L403.26,129.06 L403.6,127.6 L403.96,126.15 L404.31,124.69 L404.68,123.24 L405.04,121.79 L405.41,120.34 L405.79,118.89 L406.17,117.44 L406.56,115.99 L406.95,114.55 L407.34,113.1 L407.75,111.66 L408.15,110.22 L408.57,108.78 L408.99,107.35 L409.41,105.91 L409.84,104.48 L410.28,103.05 L410.72,101.62 L411.17,100.19 L411.62,98.76 L412.08,97.34 L412.55,95.91 L413.03,94.49 L413.51,93.07 L413.99,91.65 L414.49,90.24 L414.99,88.82 L415.5,87.41 L416.01,86 L416.53,84.6 L417.06,83.19 L417.6,81.79 L418.15,80.39 L418.7,78.98 L419.25,77.56 L419.79,76.13 L420.33,74.66 L420.86,73.16 L421.36,71.61 L421.85,70 L422.32,68.34 L422.78,66.71 L423.27,65.32 L423.86,64.37 L424.57,64.07 L425.43,64.5 L426.39,65.47 L427.39,66.74 L428.4,68.12 L429.4,69.47 L430.39,70.69 L431.35,71.81 L432.23,72.92 L433.02,74.1 L433.73,75.34 L434.35,76.65 L434.89,78.02 L435.38,79.44 L435.81,80.9 L436.19,82.39 L436.54,83.91 L436.86,85.44 L437.17,86.99 L437.46,88.53 L437.75,90.07 L438.05,91.6 L438.35,93.11 L438.66,94.62 L438.96,96.13 L439.27,97.62 L439.58,99.1 L439.89,100.58 L440.2,102.06 L440.5,103.53 L440.81,104.99 L441.12,106.45 L441.42,107.91 L441.72,109.37 L442.02,110.82 L442.32,112.28 L442.61,113.73 L442.9,115.18 L443.18,116.64 L443.45,118.09 L443.72,119.55 L443.98,121.01 L444.24,122.48 L444.48,123.95 L444.72,125.42 L444.96,126.9 L445.19,128.38 L445.41,129.86 L445.63,131.35 L445.85,132.84 L446.06,134.33 L446.27,135.82 L446.48,137.31 L446.69,138.8 L446.91,140.3 L447.12,141.79 L447.33,143.29 L447.55,144.78 L447.77,146.27 L448,147.77 L448.23,149.26 L448.46,150.75 L448.71,152.23 L448.96,153.72 L449.21,155.2 L449.48,156.68 L449.75,158.16 L450.03,159.63 L450.32,161.11 L450.61,162.58 L450.9,164.05 L451.2,165.52 L451.49,166.99 L451.79,168.46 L452.08,169.93 L452.37,171.4 L452.66,172.87 L452.95,174.35 L453.23,175.82 L453.51,177.3 L453.78,178.78 L454.05,180.25 L454.32,181.73 L454.58,183.22 L454.84,184.7 L455.09,186.18 L455.35,187.67 L455.6,189.15 L455.84,190.64 L456.09,192.13 L456.33,193.61 L456.57,195.1 L456.81,196.59 L457.05,198.08 L457.28,199.57 L457.52,201.06 L457.75,202.56 L457.98,204.05 L458.21,205.54 L458.44,207.03 L458.67,208.53 L458.9,210.02 L459.13,211.51 L459.35,213.01 L459.58,214.5 L459.81,215.99 L460.04,217.49 L460.27,218.98 L460.49,220.48 L460.72,221.97 L460.95,223.46 L461.19,224.95 L461.42,226.45 L461.65,227.94 L461.89,229.43 L462.13,230.92 L462.37,232.41 L462.61,233.9 L462.85,235.39 L463.1,236.88 L463.34,238.36 L463.6,239.85 L463.85,241.34 L464.11,242.82 L464.37,244.3 L464.63,245.79 L464.9,247.27 L465.17,248.75 L465.44,250.23 L465.72,251.71 L466,253.18 L466.29,254.66 L466.58,256.13 L466.87,257.6 L467.17,259.07 L467.48,260.54 L467.79,262.01 L468.1,263.47 L468.42,264.94 L468.75,266.4 L469.08,267.86 L469.42,269.32 L469.76,270.78 L470.11,272.23 L470.47,273.68 L470.83,275.13 L471.2,276.58 L471.58,278.02 L471.96,279.47 L472.35,280.91 L472.75,282.35 L473.15,283.78 L473.56,285.22 L473.98,286.65 L474.41,288.08 L474.85,289.5 L475.29,290.92 L475.74,292.35 L476.21,293.76 L476.68,295.18 L477.16,296.59 L477.64,298 L478.14,299.4 L478.65,300.8 L479.16,302.2 L479.69,303.6 L480.22,304.99 L480.77,306.38 L481.33,307.77 L481.89,309.15 L482.47,310.53 L483.06,311.91 L483.65,313.28 L484.26,314.65 L484.88,316.01 L485.51,317.37 L486.16,318.73 L486.81,320.08 L487.48,321.43 L488.16,322.78 L488.85,324.12 L489.55,325.46 L490.26,326.79 L490.99,328.12 L491.73,329.45 L492.48,330.77 L493.25,332.08 L494.03,333.39 L494.82,334.69 L495.62,335.99 L496.44,337.28 L497.27,338.56 L498.11,339.84 L498.97,341.1 L499.84,342.36 L500.72,343.6 L501.62,344.84 L502.53,346.06 L503.45,347.28 L504.39,348.48 L505.34,349.67 L506.3,350.85 L507.27,352.01 L508.26,353.16 L509.27,354.29 L510.28,355.42 L511.31,356.52 L512.36,357.61 L513.41,358.68 L514.48,359.74 L515.57,360.78 L516.67,361.8 L517.78,362.8 L518.91,363.79 L520.05,364.75 L521.2,365.7 L522.37,366.62 L523.55,367.53 L524.75,368.41 L525.96,369.27 L527.18,370.11 L528.42,370.92 L529.67,371.71 L530.94,372.48 L532.22,373.22 L533.52,373.94 L534.83,374.63 L536.15,375.3 L537.49,375.94 L538.84,376.56 L540.21,377.14 L541.59,377.7 L542.99,378.23 L544.4,378.73 L545.83,379.2 L547.27,379.64 L548.72,380.05" fill="none" stroke="#b86607" stroke-width="1.25" stroke-linejoin="round" stroke-linecap="round"/>
<path d="M309.5,375.85 L310.63,374.98 L311.77,374.09 L312.91,373.2 L314.06,372.3 L315.21,371.39 L316.36,370.47 L317.51,369.54 L318.67,368.6 L319.82,367.66 L320.97,366.7 L322.13,365.74 L323.28,364.76 L324.43,363.78 L325.57,362.78 L326.71,361.78 L327.85,360.77 L328.98,359.75 L330.1,358.72 L331.22,357.67 L332.33,356.62 L333.43,355.56 L334.52,354.49 L335.61,353.41 L336.68,352.32 L337.74,351.22 L338.78,350.11 L339.82,349 L340.84,347.87 L341.85,346.73 L342.84,345.58 L343.81,344.42 L344.77,343.25 L345.72,342.07 L346.64,340.88 L347.55,339.68 L348.43,338.46 L349.3,337.24 L350.15,336.01 L350.98,334.77 L351.8,333.52 L352.59,332.26 L353.37,331 L354.14,329.72 L354.88,328.43 L355.62,327.14 L356.33,325.84 L357.03,324.53 L357.72,323.21 L358.4,321.89 L359.06,320.55 L359.7,319.21 L360.34,317.87 L360.96,316.51 L361.57,315.15 L362.16,313.79 L362.75,312.42 L363.33,311.04 L363.89,309.66 L364.44,308.27 L364.99,306.87 L365.52,305.48 L366.05,304.07 L366.57,302.66 L367.08,301.25 L367.58,299.84 L368.07,298.42 L368.56,296.99 L369.04,295.56 L369.52,294.13 L369.98,292.7 L370.45,291.26 L370.91,289.82 L371.36,288.38 L371.81,286.94 L372.25,285.49 L372.69,284.04 L373.13,282.59 L373.57,281.14 L374,279.69 L374.43,278.24 L374.86,276.78 L375.29,275.33 L375.71,273.88 L376.14,272.42 L376.57,270.97 L376.99,269.51 L377.42,268.06 L377.85,266.6 L378.28,265.15 L378.7,263.7 L379.13,262.25 L379.56,260.79 L379.99,259.34 L380.42,257.89 L380.85,256.44 L381.28,254.99 L381.71,253.54 L382.13,252.08 L382.56,250.63 L382.99,249.18 L383.42,247.73 L383.84,246.28 L384.27,244.83 L384.69,243.38 L385.12,241.93 L385.54,240.48 L385.96,239.03 L386.38,237.58 L386.8,236.13 L387.22,234.68 L387.64,233.23 L388.06,231.78 L388.47,230.33 L388.88,228.88 L389.3,227.43 L389.71,225.98 L390.12,224.53 L390.52,223.07 L390.93,221.62 L391.33,220.17 L391.73,218.72 L392.13,217.26 L392.53,215.81 L392.92,214.36 L393.32,212.9 L393.71,211.45 L394.1,209.99 L394.48,208.54 L394.86,207.08 L395.24,205.62 L395.62,204.17 L396,202.71 L396.37,201.25 L396.74,199.79 L397.1,198.33 L397.47,196.87 L397.83,195.41 L398.18,193.95 L398.54,192.49 L398.89,191.03 L399.23,189.56 L399.58,188.1 L399.92,186.63 L400.25,185.17 L400.58,183.7 L400.91,182.23 L401.24,180.76 L401.56,179.29 L401.87,177.82 L402.19,176.35 L402.5,174.88 L402.8,173.41 L403.1,171.93 L403.39,170.46 L403.69,168.98 L403.97,167.5 L404.25,166.02 L404.53,164.55 L404.81,163.06 L405.08,161.58 L405.35,160.1 L405.62,158.62 L405.88,157.14 L406.15,155.66 L406.42,154.17 L406.68,152.69 L406.95,151.21 L407.22,149.73 L407.49,148.24 L407.76,146.76 L408.04,145.28 L408.32,143.8 L408.6,142.32 L408.88,140.85 L409.18,139.37 L409.47,137.89 L409.78,136.42 L410.09,134.95 L410.4,133.47 L410.73,132 L411.06,130.54 L411.4,129.07 L411.75,127.61 L412.11,126.14 L412.48,124.69 L412.86,123.23 L413.25,121.77 L413.65,120.32 L414.07,118.87 L414.49,117.43 L414.93,115.98 L415.39,114.54 L415.86,113.11 L416.34,111.67 L416.84,110.24 L417.35,108.81 L417.88,107.39 L418.43,105.97 L418.99,104.56 L419.58,103.15 L420.2,101.75 L420.86,100.37 L421.57,99 L422.34,97.65 L423.18,96.33 L424.09,95.04 L425.08,93.89 L426.12,93.08 L427.21,92.81 L428.33,93.19 L429.42,94.04 L430.48,95.2 L431.44,96.47 L432.32,97.78 L433.11,99.11 L433.84,100.48 L434.5,101.86 L435.12,103.26 L435.7,104.68 L436.26,106.1 L436.8,107.52 L437.32,108.95 L437.83,110.38 L438.33,111.81 L438.8,113.25 L439.27,114.69 L439.72,116.13 L440.16,117.57 L440.58,119.02 L441,120.47 L441.4,121.92 L441.79,123.37 L442.17,124.83 L442.54,126.29 L442.91,127.75 L443.26,129.21 L443.61,130.67 L443.95,132.14 L444.28,133.6 L444.6,135.07 L444.93,136.54 L445.24,138.01 L445.55,139.48 L445.86,140.96 L446.16,142.43 L446.46,143.9 L446.76,145.38 L447.06,146.85 L447.35,148.33 L447.65,149.8 L447.94,151.28 L448.24,152.75 L448.54,154.23 L448.83,155.7 L449.13,157.18 L449.44,158.65 L449.74,160.12 L450.05,161.6 L450.35,163.07 L450.66,164.54 L450.97,166.02 L451.28,167.49 L451.59,168.97 L451.9,170.44 L452.21,171.91 L452.52,173.39 L452.83,174.86 L453.15,176.33 L453.46,177.81 L453.77,179.28 L454.08,180.76 L454.39,182.23 L454.7,183.71 L455.01,185.18 L455.32,186.66 L455.63,188.13 L455.94,189.61 L456.24,191.09 L456.55,192.56 L456.85,194.04 L457.15,195.52 L457.45,197 L457.75,198.48 L458.04,199.96 L458.34,201.44 L458.63,202.92 L458.91,204.4 L459.2,205.89 L459.48,207.37 L459.76,208.85 L460.04,210.34 L460.31,211.82 L460.59,213.31 L460.86,214.8 L461.13,216.29 L461.39,217.77 L461.66,219.26 L461.92,220.75 L462.18,222.24 L462.45,223.73 L462.71,225.22 L462.97,226.71 L463.23,228.2 L463.49,229.68 L463.75,231.17 L464.01,232.66 L464.27,234.15 L464.53,235.64 L464.79,237.13 L465.06,238.61 L465.32,240.1 L465.59,241.59 L465.86,243.07 L466.13,244.56 L466.4,246.04 L466.67,247.53 L466.95,249.01 L467.23,250.49 L467.51,251.97 L467.79,253.45 L468.08,254.93 L468.37,256.41 L468.66,257.88 L468.96,259.36 L469.27,260.83 L469.57,262.3 L469.88,263.77 L470.2,265.24 L470.52,266.71 L470.84,268.18 L471.17,269.64 L471.51,271.1 L471.85,272.56 L472.19,274.02 L472.55,275.48 L472.91,276.93 L473.27,278.39 L473.64,279.84 L474.02,281.28 L474.4,282.73 L474.8,284.17 L475.2,285.62 L475.6,287.05 L476.02,288.49 L476.44,289.92 L476.87,291.36 L477.31,292.78 L477.75,294.21 L478.21,295.63 L478.67,297.05 L479.15,298.47 L479.63,299.88 L480.12,301.29 L480.62,302.7 L481.13,304.11 L481.65,305.51 L482.18,306.91 L482.73,308.3 L483.28,309.69 L483.84,311.08 L484.41,312.47 L485,313.85 L485.6,315.22 L486.2,316.6 L486.82,317.97 L487.45,319.33 L488.1,320.69 L488.75,322.05 L489.42,323.41 L490.1,324.76 L490.8,326.1 L491.5,327.44 L492.23,328.78 L492.96,330.11 L493.71,331.44 L494.47,332.76 L495.24,334.08 L496.03,335.39 L496.83,336.69 L497.65,337.98 L498.47,339.27 L499.32,340.55 L500.17,341.82 L501.04,343.08 L501.92,344.33 L502.82,345.57 L503.73,346.79 L504.65,348.01 L505.59,349.21 L506.54,350.4 L507.51,351.58 L508.49,352.74 L509.48,353.89 L510.49,355.03 L511.51,356.15 L512.54,357.25 L513.59,358.34 L514.65,359.41 L515.73,360.46 L516.82,361.5 L517.92,362.52 L519.04,363.52 L520.18,364.5 L521.32,365.45 L522.48,366.39 L523.66,367.31 L524.85,368.21 L526.05,369.08 L527.27,369.93 L528.5,370.76 L529.74,371.57 L531,372.35 L532.28,373.11 L533.57,373.84 L534.87,374.55 L536.18,375.23 L537.52,375.88 L538.86,376.51 L540.22,377.11 L541.6,377.68 L542.98,378.22 L544.39,378.73 L545.81,379.22 L547.24,379.67 L548.69,380.09" fill="none" stroke="#7b4812" stroke-width="1.25" stroke-linejoin="round" stroke-linecap="round"/>
<line x1="72.5" y1="352.5" x2="84.3" y2="352.5" stroke="#000" stroke-width="1.5"/>
<line x1="72.5" y1="359.3" x2="84.3" y2="359.3" stroke="#000" stroke-width="1.5"/>
<rect x="75.9" y="352.5" width="5" height="6.8" fill="none" stroke="#000" stroke-width="1.2"/>
<line x1="193" y1="171" x2="204.8" y2="171" stroke="#000" stroke-width="1.5"/>
<line x1="193" y1="174.8" x2="204.8" y2="174.8" stroke="#000" stroke-width="1.5"/>
<rect x="196.4" y="171" width="5" height="3.8" fill="none" stroke="#000" stroke-width="1.2"/>
<line x1="267.5" y1="367.5" x2="279.3" y2="367.5" stroke="#000" stroke-width="1.5"/>
<line x1="267.5" y1="375.1" x2="279.3" y2="375.1" stroke="#000" stroke-width="1.5"/>
<rect x="270.9" y="367.5" width="5" height="7.6" fill="none" stroke="#000" stroke-width="1.2"/>
<line x1="159" y1="141.7" x2="171" y2="141.7" stroke="#ffa500" stroke-width="1.3"/>
<line x1="159" y1="144.5" x2="171" y2="144.5" stroke="#ffa500" stroke-width="1.3"/>
<path d="M163,143.1 L165,139.8 L167,143.1 Z" fill="#ffa500"/>
<line x1="165" y1="141.7" x2="165" y2="144.5" stroke="#ffa500" stroke-width="1.0"/>
<line x1="170.9" y1="117" x2="177.3" y2="117" stroke="#ffa500" stroke-width="1.3"/>
<line x1="170.9" y1="119.8" x2="177.3" y2="119.8" stroke="#ffa500" stroke-width="1.3"/>
<path d="M172.1,118.4 L174.1,115.1 L176.1,118.4 Z" fill="#ffa500"/>
<line x1="174.1" y1="117" x2="174.1" y2="119.8" stroke="#ffa500" stroke-width="1.0"/>
<line x1="162.1" y1="113.5" x2="173.9" y2="113.5" stroke="#9a26f0" stroke-width="1.3"/>
<line x1="162.1" y1="125.9" x2="173.9" y2="125.9" stroke="#9a26f0" stroke-width="1.3"/>
<line x1="168" y1="113.5" x2="168" y2="125.9" stroke="#9a26f0" stroke-width="1.3"/>
<circle cx="168" cy="119.7" r="3.2" fill="#9a26f0"/>
<line x1="326.7" y1="352.5" x2="338.5" y2="352.5" stroke="#000" stroke-width="1.5"/>
<line x1="326.7" y1="359.3" x2="338.5" y2="359.3" stroke="#000" stroke-width="1.5"/>
<rect x="330.1" y="352.5" width="5" height="6.8" fill="none" stroke="#000" stroke-width="1.2"/>
<line x1="447.2" y1="171" x2="459" y2="171" stroke="#000" stroke-width="1.5"/>
<line x1="447.2" y1="174.8" x2="459" y2="174.8" stroke="#000" stroke-width="1.5"/>
<rect x="450.6" y="171" width="5" height="3.8" fill="none" stroke="#000" stroke-width="1.2"/>
<line x1="521.7" y1="367.5" x2="533.5" y2="367.5" stroke="#000" stroke-width="1.5"/>
<line x1="521.7" y1="375.1" x2="533.5" y2="375.1" stroke="#000" stroke-width="1.5"/>
<rect x="525.1" y="367.5" width="5" height="7.6" fill="none" stroke="#000" stroke-width="1.2"/>
<line x1="413.2" y1="141.7" x2="425.2" y2="141.7" stroke="#ffa500" stroke-width="1.3"/>
<line x1="413.2" y1="144.5" x2="425.2" y2="144.5" stroke="#ffa500" stroke-width="1.3"/>
<path d="M417.2,143.1 L419.2,139.8 L421.2,143.1 Z" fill="#ffa500"/>
<line x1="419.2" y1="141.7" x2="419.2" y2="144.5" stroke="#ffa500" stroke-width="1.0"/>
<line x1="425.1" y1="117" x2="431.5" y2="117" stroke="#ffa500" stroke-width="1.3"/>
<line x1="425.1" y1="119.8" x2="431.5" y2="119.8" stroke="#ffa500" stroke-width="1.3"/>
<path d="M426.3,118.4 L428.3,115.1 L430.3,118.4 Z" fill="#ffa500"/>
<line x1="428.3" y1="117" x2="428.3" y2="119.8" stroke="#ffa500" stroke-width="1.0"/>
<line x1="416.3" y1="113.5" x2="428.1" y2="113.5" stroke="#9a26f0" stroke-width="1.3"/>
<line x1="416.3" y1="125.9" x2="428.1" y2="125.9" stroke="#9a26f0" stroke-width="1.3"/>
<line x1="422.2" y1="113.5" x2="422.2" y2="125.9" stroke="#9a26f0" stroke-width="1.3"/>
<circle cx="422.2" cy="119.7" r="3.2" fill="#9a26f0"/>
<text x="210.2" y="43.2" font-size="13.2" text-anchor="start" fill="#111" font-family="Liberation Sans" stroke="#111" stroke-width="0.12" textLength="34.8" lengthAdjust="spacingAndGlyphs" style="">p&#593;nel</text>
<text x="253.2" y="42" font-size="12.8" text-anchor="start" fill="#111" font-family="Liberation Sans" stroke="#111" stroke-width="0.3" style="font-style:italic">&#961;</text>
<text x="269.9" y="41.8" font-size="12.8" text-anchor="start" fill="#111" font-family="Liberation Sans" stroke="#111" stroke-width="0.3" style="">&#916;</text>
<text x="278.2" y="42.4" font-size="13.8" text-anchor="start" fill="#111" font-family="Liberation Sans" stroke="#111" stroke-width="0.3" style="font-style:italic">&#967;</text>
<text x="287.5" y="36.8" font-size="7.6" text-anchor="start" fill="#111" font-family="Liberation Sans" stroke="#111" stroke-width="0.25" style="">2</text>
<text x="286.1" y="45.8" font-size="9.3" text-anchor="start" fill="#111" font-family="Liberation Sans" stroke="#111" stroke-width="0.25" textLength="20.1" lengthAdjust="spacingAndGlyphs" style="">OGLE</text>
<text x="463.9" y="43.5" font-size="13.2" text-anchor="start" fill="#111" font-family="Liberation Sans" stroke="#111" stroke-width="0.12" textLength="34.8" lengthAdjust="spacingAndGlyphs" style="">p&#593;nel</text>
<text x="506.9" y="42.3" font-size="12.8" text-anchor="start" fill="#111" font-family="Liberation Sans" stroke="#111" stroke-width="0.3" style="font-style:italic">&#961;</text>
<text x="523.6" y="42.1" font-size="12.8" text-anchor="start" fill="#111" font-family="Liberation Sans" stroke="#111" stroke-width="0.3" style="">&#916;</text>
<text x="531.9" y="42.7" font-size="13.8" text-anchor="start" fill="#111" font-family="Liberation Sans" stroke="#111" stroke-width="0.3" style="font-style:italic">&#967;</text>
<text x="541.2" y="37.1" font-size="7.6" text-anchor="start" fill="#111" font-family="Liberation Sans" stroke="#111" stroke-width="0.25" style="">2</text>
<text x="539.8" y="46.1" font-size="9.3" text-anchor="start" fill="#111" font-family="Liberation Sans" stroke="#111" stroke-width="0.25" textLength="20.1" lengthAdjust="spacingAndGlyphs" style="">OGLE</text>
<text x="209.3" y="57.9" font-size="12.3" text-anchor="start" fill="#22cdf0" font-family="Liberation Sans" stroke="#22cdf0" stroke-width="0.5" style="">c</text>
<text x="221.4" y="58.5" font-size="12.3" text-anchor="start" fill="#22cdf0" font-family="Liberation Sans" stroke="#22cdf0" stroke-width="0.45" textLength="41.6" lengthAdjust="spacingAndGlyphs" style="">0.0035</text>
<text x="270.5" y="58.5" font-size="12.3" text-anchor="start" fill="#22cdf0" font-family="Liberation Sans" stroke="#22cdf0" stroke-width="0.45" textLength="17.7" lengthAdjust="spacingAndGlyphs" style="">0.0</text>
<text x="209.3" y="80.3" font-size="12.3" text-anchor="start" fill="#b2003a" font-family="Liberation Serif" stroke="#b2003a" stroke-width="0.6" style="">d</text>
<text x="222.6" y="80.3" font-size="11.5" text-anchor="start" fill="#b2003a" font-family="Liberation Serif" stroke="#b2003a" stroke-width="0.6" textLength="42.3" lengthAdjust="spacingAndGlyphs" style="">1.2e&#8722;4</text>
<text x="272" y="80.3" font-size="11.5" text-anchor="start" fill="#b2003a" font-family="Liberation Serif" stroke="#b2003a" stroke-width="0.6" textLength="19" lengthAdjust="spacingAndGlyphs" style="">9.9</text>
<text x="209.3" y="93.8" font-size="13" text-anchor="start" fill="#3f9c0c" font-family="Liberation Sans" stroke="#3f9c0c" stroke-width="0.5" style="">e</text>
<text x="221.2" y="94.7" font-size="12" text-anchor="start" fill="#3f9c0c" font-family="Liberation Sans" stroke="#3f9c0c" stroke-width="0.55" textLength="32" lengthAdjust="spacingAndGlyphs" style="">4e&#8722;6</text>
<text x="266.3" y="94.7" font-size="12" text-anchor="start" fill="#3f9c0c" font-family="Liberation Sans" stroke="#3f9c0c" stroke-width="0.55" textLength="26.8" lengthAdjust="spacingAndGlyphs" style="">50.3</text>
<text x="221.7" y="116.6" font-size="13.3" text-anchor="start" fill="#dc00a0" font-family="Liberation Serif" stroke="#dc00a0" stroke-width="0.3" textLength="30.9" lengthAdjust="spacingAndGlyphs" style="">PLBS</text>
<text x="265.3" y="116.6" font-size="13.3" text-anchor="start" fill="#dc00a0" font-family="Liberation Serif" stroke="#dc00a0" stroke-width="0.3" textLength="26.4" lengthAdjust="spacingAndGlyphs" style="">42.8</text>
<text x="463.2" y="63.2" font-size="13" text-anchor="start" fill="#78d79c" font-family="Liberation Serif" stroke="#78d79c" stroke-width="0.5" style="">f</text>
<text x="475.9" y="63.2" font-size="12.4" text-anchor="start" fill="#78d79c" font-family="Liberation Serif" stroke="#78d79c" stroke-width="0.3" textLength="41.2" lengthAdjust="spacingAndGlyphs" style="">0.0010</text>
<text x="523.4" y="63.2" font-size="12.4" text-anchor="start" fill="#78d79c" font-family="Liberation Serif" stroke="#78d79c" stroke-width="0.3" textLength="18.5" lengthAdjust="spacingAndGlyphs" style="">5.4</text>
<text x="463.2" y="77.8" font-size="13" text-anchor="start" fill="#6080ff" font-family="Liberation Serif" stroke="#6080ff" stroke-width="0.5" style="">g</text>
<text x="475.9" y="77.8" font-size="12.4" text-anchor="start" fill="#6080ff" font-family="Liberation Serif" stroke="#6080ff" stroke-width="0.3" textLength="41.2" lengthAdjust="spacingAndGlyphs" style="">0.0071</text>
<text x="523.4" y="77.8" font-size="12.4" text-anchor="start" fill="#6080ff" font-family="Liberation Serif" stroke="#6080ff" stroke-width="0.3" textLength="18.5" lengthAdjust="spacingAndGlyphs" style="">3.3</text>
<text x="463.2" y="92.9" font-size="13" text-anchor="start" fill="#b86607" font-family="Liberation Serif" stroke="#b86607" stroke-width="0.5" style="">h</text>
<text x="475.9" y="92.9" font-size="12.4" text-anchor="start" fill="#b86607" font-family="Liberation Serif" stroke="#b86607" stroke-width="0.3" textLength="41.2" lengthAdjust="spacingAndGlyphs" style="">0.0033</text>
<text x="523.4" y="92.9" font-size="12.4" text-anchor="start" fill="#b86607" font-family="Liberation Serif" stroke="#b86607" stroke-width="0.3" textLength="18.5" lengthAdjust="spacingAndGlyphs" style="">0.3</text>
<text x="463.2" y="108" font-size="13" text-anchor="start" fill="#0b7b74" font-family="Liberation Serif" stroke="#0b7b74" stroke-width="0.5" style="">i</text>
<text x="475.9" y="108" font-size="12.4" text-anchor="start" fill="#0b7b74" font-family="Liberation Serif" stroke="#0b7b74" stroke-width="0.3" textLength="41.2" lengthAdjust="spacingAndGlyphs" style="">0.0031</text>
<text x="523.4" y="108" font-size="12.4" text-anchor="start" fill="#0b7b74" font-family="Liberation Serif" stroke="#0b7b74" stroke-width="0.3" textLength="18.5" lengthAdjust="spacingAndGlyphs" style="">0.1</text>
<text x="463.2" y="123" font-size="13" text-anchor="start" fill="#ff7c96" font-family="Liberation Serif" stroke="#ff7c96" stroke-width="0.5" style="">j</text>
<text x="475.9" y="123" font-size="12.4" text-anchor="start" fill="#ff7c96" font-family="Liberation Serif" stroke="#ff7c96" stroke-width="0.3" textLength="41.2" lengthAdjust="spacingAndGlyphs" style="">0.0050</text>
<text x="523.4" y="123" font-size="12.4" text-anchor="start" fill="#ff7c96" font-family="Liberation Serif" stroke="#ff7c96" stroke-width="0.3" textLength="18.5" lengthAdjust="spacingAndGlyphs" style="">0.6</text>
<text x="463.2" y="137.8" font-size="13" text-anchor="start" fill="#7b4812" font-family="Liberation Serif" stroke="#7b4812" stroke-width="0.5" style="">k</text>
<text x="475.9" y="137.8" font-size="12.4" text-anchor="start" fill="#7b4812" font-family="Liberation Serif" stroke="#7b4812" stroke-width="0.3" textLength="41.2" lengthAdjust="spacingAndGlyphs" style="">0.0094</text>
<text x="523.4" y="137.8" font-size="12.4" text-anchor="start" fill="#7b4812" font-family="Liberation Serif" stroke="#7b4812" stroke-width="0.3" textLength="18.5" lengthAdjust="spacingAndGlyphs" style="">7.8</text>
<line x1="151.28" y1="429.5" x2="151.28" y2="433.8" stroke="#1a1a1a" stroke-width="1.3"/>
<line x1="151.28" y1="541.1" x2="151.28" y2="549.7" stroke="#1a1a1a" stroke-width="1.3"/>
<line x1="151.28" y1="657.1" x2="151.28" y2="665.7" stroke="#1a1a1a" stroke-width="1.3"/>
<line x1="151.28" y1="777.1" x2="151.28" y2="772.8" stroke="#1a1a1a" stroke-width="1.3"/>
<line x1="157.57" y1="429.5" x2="157.57" y2="433.8" stroke="#1a1a1a" stroke-width="1.3"/>
<line x1="157.57" y1="541.1" x2="157.57" y2="549.7" stroke="#1a1a1a" stroke-width="1.3"/>
<line x1="157.57" y1="657.1" x2="157.57" y2="665.7" stroke="#1a1a1a" stroke-width="1.3"/>
<line x1="157.57" y1="777.1" x2="157.57" y2="772.8" stroke="#1a1a1a" stroke-width="1.3"/>
<line x1="163.85" y1="429.5" x2="163.85" y2="433.8" stroke="#1a1a1a" stroke-width="1.3"/>
<line x1="163.85" y1="541.1" x2="163.85" y2="549.7" stroke="#1a1a1a" stroke-width="1.3"/>
<line x1="163.85" y1="657.1" x2="163.85" y2="665.7" stroke="#1a1a1a" stroke-width="1.3"/>
<line x1="163.85" y1="777.1" x2="163.85" y2="772.8" stroke="#1a1a1a" stroke-width="1.3"/>
<line x1="170.14" y1="429.5" x2="170.14" y2="438.5" stroke="#1a1a1a" stroke-width="1.3"/>
<line x1="170.14" y1="536.4" x2="170.14" y2="554.4" stroke="#1a1a1a" stroke-width="1.3"/>
<line x1="170.14" y1="652.4" x2="170.14" y2="670.4" stroke="#1a1a1a" stroke-width="1.3"/>
<line x1="170.14" y1="777.1" x2="170.14" y2="768.1" stroke="#1a1a1a" stroke-width="1.3"/>
<line x1="176.42" y1="429.5" x2="176.42" y2="433.8" stroke="#1a1a1a" stroke-width="1.3"/>
<line x1="176.42" y1="541.1" x2="176.42" y2="549.7" stroke="#1a1a1a" stroke-width="1.3"/>
<line x1="176.42" y1="657.1" x2="176.42" y2="665.7" stroke="#1a1a1a" stroke-width="1.3"/>
<line x1="176.42" y1="777.1" x2="176.42" y2="772.8" stroke="#1a1a1a" stroke-width="1.3"/>
<line x1="182.71" y1="429.5" x2="182.71" y2="433.8" stroke="#1a1a1a" stroke-width="1.3"/>
<line x1="182.71" y1="541.1" x2="182.71" y2="549.7" stroke="#1a1a1a" stroke-width="1.3"/>
<line x1="182.71" y1="657.1" x2="182.71" y2="665.7" stroke="#1a1a1a" stroke-width="1.3"/>
<line x1="182.71" y1="777.1" x2="182.71" y2="772.8" stroke="#1a1a1a" stroke-width="1.3"/>
<line x1="189" y1="429.5" x2="189" y2="433.8" stroke="#1a1a1a" stroke-width="1.3"/>
<line x1="189" y1="541.1" x2="189" y2="549.7" stroke="#1a1a1a" stroke-width="1.3"/>
<line x1="189" y1="657.1" x2="189" y2="665.7" stroke="#1a1a1a" stroke-width="1.3"/>
<line x1="189" y1="777.1" x2="189" y2="772.8" stroke="#1a1a1a" stroke-width="1.3"/>
<line x1="195.28" y1="429.5" x2="195.28" y2="433.8" stroke="#1a1a1a" stroke-width="1.3"/>
<line x1="195.28" y1="541.1" x2="195.28" y2="549.7" stroke="#1a1a1a" stroke-width="1.3"/>
<line x1="195.28" y1="657.1" x2="195.28" y2="665.7" stroke="#1a1a1a" stroke-width="1.3"/>
<line x1="195.28" y1="777.1" x2="195.28" y2="772.8" stroke="#1a1a1a" stroke-width="1.3"/>
<line x1="201.56" y1="429.5" x2="201.56" y2="433.8" stroke="#1a1a1a" stroke-width="1.3"/>
<line x1="201.56" y1="541.1" x2="201.56" y2="549.7" stroke="#1a1a1a" stroke-width="1.3"/>
<line x1="201.56" y1="657.1" x2="201.56" y2="665.7" stroke="#1a1a1a" stroke-width="1.3"/>
<line x1="201.56" y1="777.1" x2="201.56" y2="772.8" stroke="#1a1a1a" stroke-width="1.3"/>
<line x1="207.85" y1="429.5" x2="207.85" y2="438.5" stroke="#1a1a1a" stroke-width="1.3"/>
<line x1="207.85" y1="536.4" x2="207.85" y2="554.4" stroke="#1a1a1a" stroke-width="1.3"/>
<line x1="207.85" y1="652.4" x2="207.85" y2="670.4" stroke="#1a1a1a" stroke-width="1.3"/>
<line x1="207.85" y1="777.1" x2="207.85" y2="768.1" stroke="#1a1a1a" stroke-width="1.3"/>
<line x1="214.13" y1="429.5" x2="214.13" y2="433.8" stroke="#1a1a1a" stroke-width="1.3"/>
<line x1="214.13" y1="541.1" x2="214.13" y2="549.7" stroke="#1a1a1a" stroke-width="1.3"/>
<line x1="214.13" y1="657.1" x2="214.13" y2="665.7" stroke="#1a1a1a" stroke-width="1.3"/>
<line x1="214.13" y1="777.1" x2="214.13" y2="772.8" stroke="#1a1a1a" stroke-width="1.3"/>
<line x1="220.42" y1="429.5" x2="220.42" y2="433.8" stroke="#1a1a1a" stroke-width="1.3"/>
<line x1="220.42" y1="541.1" x2="220.42" y2="549.7" stroke="#1a1a1a" stroke-width="1.3"/>
<line x1="220.42" y1="657.1" x2="220.42" y2="665.7" stroke="#1a1a1a" stroke-width="1.3"/>
<line x1="220.42" y1="777.1" x2="220.42" y2="772.8" stroke="#1a1a1a" stroke-width="1.3"/>
<line x1="226.7" y1="429.5" x2="226.7" y2="433.8" stroke="#1a1a1a" stroke-width="1.3"/>
<line x1="226.7" y1="541.1" x2="226.7" y2="549.7" stroke="#1a1a1a" stroke-width="1.3"/>
<line x1="226.7" y1="657.1" x2="226.7" y2="665.7" stroke="#1a1a1a" stroke-width="1.3"/>
<line x1="226.7" y1="777.1" x2="226.7" y2="772.8" stroke="#1a1a1a" stroke-width="1.3"/>
<line x1="232.99" y1="429.5" x2="232.99" y2="433.8" stroke="#1a1a1a" stroke-width="1.3"/>
<line x1="232.99" y1="541.1" x2="232.99" y2="549.7" stroke="#1a1a1a" stroke-width="1.3"/>
<line x1="232.99" y1="657.1" x2="232.99" y2="665.7" stroke="#1a1a1a" stroke-width="1.3"/>
<line x1="232.99" y1="777.1" x2="232.99" y2="772.8" stroke="#1a1a1a" stroke-width="1.3"/>
<line x1="239.28" y1="429.5" x2="239.28" y2="433.8" stroke="#1a1a1a" stroke-width="1.3"/>
<line x1="239.28" y1="541.1" x2="239.28" y2="549.7" stroke="#1a1a1a" stroke-width="1.3"/>
<line x1="239.28" y1="657.1" x2="239.28" y2="665.7" stroke="#1a1a1a" stroke-width="1.3"/>
<line x1="239.28" y1="777.1" x2="239.28" y2="772.8" stroke="#1a1a1a" stroke-width="1.3"/>
<line x1="245.56" y1="429.5" x2="245.56" y2="438.5" stroke="#1a1a1a" stroke-width="1.3"/>
<line x1="245.56" y1="536.4" x2="245.56" y2="554.4" stroke="#1a1a1a" stroke-width="1.3"/>
<line x1="245.56" y1="652.4" x2="245.56" y2="670.4" stroke="#1a1a1a" stroke-width="1.3"/>
<line x1="245.56" y1="777.1" x2="245.56" y2="768.1" stroke="#1a1a1a" stroke-width="1.3"/>
<line x1="251.84" y1="429.5" x2="251.84" y2="433.8" stroke="#1a1a1a" stroke-width="1.3"/>
<line x1="251.84" y1="541.1" x2="251.84" y2="549.7" stroke="#1a1a1a" stroke-width="1.3"/>
<line x1="251.84" y1="657.1" x2="251.84" y2="665.7" stroke="#1a1a1a" stroke-width="1.3"/>
<line x1="251.84" y1="777.1" x2="251.84" y2="772.8" stroke="#1a1a1a" stroke-width="1.3"/>
<line x1="258.13" y1="429.5" x2="258.13" y2="433.8" stroke="#1a1a1a" stroke-width="1.3"/>
<line x1="258.13" y1="541.1" x2="258.13" y2="549.7" stroke="#1a1a1a" stroke-width="1.3"/>
<line x1="258.13" y1="657.1" x2="258.13" y2="665.7" stroke="#1a1a1a" stroke-width="1.3"/>
<line x1="258.13" y1="777.1" x2="258.13" y2="772.8" stroke="#1a1a1a" stroke-width="1.3"/>
<line x1="264.41" y1="429.5" x2="264.41" y2="433.8" stroke="#1a1a1a" stroke-width="1.3"/>
<line x1="264.41" y1="541.1" x2="264.41" y2="549.7" stroke="#1a1a1a" stroke-width="1.3"/>
<line x1="264.41" y1="657.1" x2="264.41" y2="665.7" stroke="#1a1a1a" stroke-width="1.3"/>
<line x1="264.41" y1="777.1" x2="264.41" y2="772.8" stroke="#1a1a1a" stroke-width="1.3"/>
<line x1="267.04" y1="429.5" x2="267.04" y2="433.8" stroke="#1a1a1a" stroke-width="1.3"/>
<line x1="267.04" y1="541.1" x2="267.04" y2="549.7" stroke="#1a1a1a" stroke-width="1.3"/>
<line x1="267.04" y1="657.1" x2="267.04" y2="665.7" stroke="#1a1a1a" stroke-width="1.3"/>
<line x1="267.04" y1="777.1" x2="267.04" y2="772.8" stroke="#1a1a1a" stroke-width="1.3"/>
<line x1="273.32" y1="429.5" x2="273.32" y2="433.8" stroke="#1a1a1a" stroke-width="1.3"/>
<line x1="273.32" y1="541.1" x2="273.32" y2="549.7" stroke="#1a1a1a" stroke-width="1.3"/>
<line x1="273.32" y1="657.1" x2="273.32" y2="665.7" stroke="#1a1a1a" stroke-width="1.3"/>
<line x1="273.32" y1="777.1" x2="273.32" y2="772.8" stroke="#1a1a1a" stroke-width="1.3"/>
<line x1="279.61" y1="429.5" x2="279.61" y2="433.8" stroke="#1a1a1a" stroke-width="1.3"/>
<line x1="279.61" y1="541.1" x2="279.61" y2="549.7" stroke="#1a1a1a" stroke-width="1.3"/>
<line x1="279.61" y1="657.1" x2="279.61" y2="665.7" stroke="#1a1a1a" stroke-width="1.3"/>
<line x1="279.61" y1="777.1" x2="279.61" y2="772.8" stroke="#1a1a1a" stroke-width="1.3"/>
<line x1="285.89" y1="429.5" x2="285.89" y2="438.5" stroke="#1a1a1a" stroke-width="1.3"/>
<line x1="285.89" y1="536.4" x2="285.89" y2="554.4" stroke="#1a1a1a" stroke-width="1.3"/>
<line x1="285.89" y1="652.4" x2="285.89" y2="670.4" stroke="#1a1a1a" stroke-width="1.3"/>
<line x1="285.89" y1="777.1" x2="285.89" y2="768.1" stroke="#1a1a1a" stroke-width="1.3"/>
<line x1="292.18" y1="429.5" x2="292.18" y2="433.8" stroke="#1a1a1a" stroke-width="1.3"/>
<line x1="292.18" y1="541.1" x2="292.18" y2="549.7" stroke="#1a1a1a" stroke-width="1.3"/>
<line x1="292.18" y1="657.1" x2="292.18" y2="665.7" stroke="#1a1a1a" stroke-width="1.3"/>
<line x1="292.18" y1="777.1" x2="292.18" y2="772.8" stroke="#1a1a1a" stroke-width="1.3"/>
<line x1="298.46" y1="429.5" x2="298.46" y2="433.8" stroke="#1a1a1a" stroke-width="1.3"/>
<line x1="298.46" y1="541.1" x2="298.46" y2="549.7" stroke="#1a1a1a" stroke-width="1.3"/>
<line x1="298.46" y1="657.1" x2="298.46" y2="665.7" stroke="#1a1a1a" stroke-width="1.3"/>
<line x1="298.46" y1="777.1" x2="298.46" y2="772.8" stroke="#1a1a1a" stroke-width="1.3"/>
<line x1="304.75" y1="429.5" x2="304.75" y2="433.8" stroke="#1a1a1a" stroke-width="1.3"/>
<line x1="304.75" y1="541.1" x2="304.75" y2="549.7" stroke="#1a1a1a" stroke-width="1.3"/>
<line x1="304.75" y1="657.1" x2="304.75" y2="665.7" stroke="#1a1a1a" stroke-width="1.3"/>
<line x1="304.75" y1="777.1" x2="304.75" y2="772.8" stroke="#1a1a1a" stroke-width="1.3"/>
<line x1="311.03" y1="429.5" x2="311.03" y2="433.8" stroke="#1a1a1a" stroke-width="1.3"/>
<line x1="311.03" y1="541.1" x2="311.03" y2="549.7" stroke="#1a1a1a" stroke-width="1.3"/>
<line x1="311.03" y1="657.1" x2="311.03" y2="665.7" stroke="#1a1a1a" stroke-width="1.3"/>
<line x1="311.03" y1="777.1" x2="311.03" y2="772.8" stroke="#1a1a1a" stroke-width="1.3"/>
<line x1="317.31" y1="429.5" x2="317.31" y2="433.8" stroke="#1a1a1a" stroke-width="1.3"/>
<line x1="317.31" y1="541.1" x2="317.31" y2="549.7" stroke="#1a1a1a" stroke-width="1.3"/>
<line x1="317.31" y1="657.1" x2="317.31" y2="665.7" stroke="#1a1a1a" stroke-width="1.3"/>
<line x1="317.31" y1="777.1" x2="317.31" y2="772.8" stroke="#1a1a1a" stroke-width="1.3"/>
<line x1="323.6" y1="429.5" x2="323.6" y2="438.5" stroke="#1a1a1a" stroke-width="1.3"/>
<line x1="323.6" y1="536.4" x2="323.6" y2="554.4" stroke="#1a1a1a" stroke-width="1.3"/>
<line x1="323.6" y1="652.4" x2="323.6" y2="670.4" stroke="#1a1a1a" stroke-width="1.3"/>
<line x1="323.6" y1="777.1" x2="323.6" y2="768.1" stroke="#1a1a1a" stroke-width="1.3"/>
<line x1="329.89" y1="429.5" x2="329.89" y2="433.8" stroke="#1a1a1a" stroke-width="1.3"/>
<line x1="329.89" y1="541.1" x2="329.89" y2="549.7" stroke="#1a1a1a" stroke-width="1.3"/>
<line x1="329.89" y1="657.1" x2="329.89" y2="665.7" stroke="#1a1a1a" stroke-width="1.3"/>
<line x1="329.89" y1="777.1" x2="329.89" y2="772.8" stroke="#1a1a1a" stroke-width="1.3"/>
<line x1="336.17" y1="429.5" x2="336.17" y2="433.8" stroke="#1a1a1a" stroke-width="1.3"/>
<line x1="336.17" y1="541.1" x2="336.17" y2="549.7" stroke="#1a1a1a" stroke-width="1.3"/>
<line x1="336.17" y1="657.1" x2="336.17" y2="665.7" stroke="#1a1a1a" stroke-width="1.3"/>
<line x1="336.17" y1="777.1" x2="336.17" y2="772.8" stroke="#1a1a1a" stroke-width="1.3"/>
<line x1="342.46" y1="429.5" x2="342.46" y2="433.8" stroke="#1a1a1a" stroke-width="1.3"/>
<line x1="342.46" y1="541.1" x2="342.46" y2="549.7" stroke="#1a1a1a" stroke-width="1.3"/>
<line x1="342.46" y1="657.1" x2="342.46" y2="665.7" stroke="#1a1a1a" stroke-width="1.3"/>
<line x1="342.46" y1="777.1" x2="342.46" y2="772.8" stroke="#1a1a1a" stroke-width="1.3"/>
<line x1="348.74" y1="429.5" x2="348.74" y2="433.8" stroke="#1a1a1a" stroke-width="1.3"/>
<line x1="348.74" y1="541.1" x2="348.74" y2="549.7" stroke="#1a1a1a" stroke-width="1.3"/>
<line x1="348.74" y1="657.1" x2="348.74" y2="665.7" stroke="#1a1a1a" stroke-width="1.3"/>
<line x1="348.74" y1="777.1" x2="348.74" y2="772.8" stroke="#1a1a1a" stroke-width="1.3"/>
<line x1="355.03" y1="429.5" x2="355.03" y2="433.8" stroke="#1a1a1a" stroke-width="1.3"/>
<line x1="355.03" y1="541.1" x2="355.03" y2="549.7" stroke="#1a1a1a" stroke-width="1.3"/>
<line x1="355.03" y1="657.1" x2="355.03" y2="665.7" stroke="#1a1a1a" stroke-width="1.3"/>
<line x1="355.03" y1="777.1" x2="355.03" y2="772.8" stroke="#1a1a1a" stroke-width="1.3"/>
<line x1="361.31" y1="429.5" x2="361.31" y2="438.5" stroke="#1a1a1a" stroke-width="1.3"/>
<line x1="361.31" y1="536.4" x2="361.31" y2="554.4" stroke="#1a1a1a" stroke-width="1.3"/>
<line x1="361.31" y1="652.4" x2="361.31" y2="670.4" stroke="#1a1a1a" stroke-width="1.3"/>
<line x1="361.31" y1="777.1" x2="361.31" y2="768.1" stroke="#1a1a1a" stroke-width="1.3"/>
<line x1="367.6" y1="429.5" x2="367.6" y2="433.8" stroke="#1a1a1a" stroke-width="1.3"/>
<line x1="367.6" y1="541.1" x2="367.6" y2="549.7" stroke="#1a1a1a" stroke-width="1.3"/>
<line x1="367.6" y1="657.1" x2="367.6" y2="665.7" stroke="#1a1a1a" stroke-width="1.3"/>
<line x1="367.6" y1="777.1" x2="367.6" y2="772.8" stroke="#1a1a1a" stroke-width="1.3"/>
<line x1="373.88" y1="429.5" x2="373.88" y2="433.8" stroke="#1a1a1a" stroke-width="1.3"/>
<line x1="373.88" y1="541.1" x2="373.88" y2="549.7" stroke="#1a1a1a" stroke-width="1.3"/>
<line x1="373.88" y1="657.1" x2="373.88" y2="665.7" stroke="#1a1a1a" stroke-width="1.3"/>
<line x1="373.88" y1="777.1" x2="373.88" y2="772.8" stroke="#1a1a1a" stroke-width="1.3"/>
<line x1="380.17" y1="429.5" x2="380.17" y2="433.8" stroke="#1a1a1a" stroke-width="1.3"/>
<line x1="380.17" y1="541.1" x2="380.17" y2="549.7" stroke="#1a1a1a" stroke-width="1.3"/>
<line x1="380.17" y1="657.1" x2="380.17" y2="665.7" stroke="#1a1a1a" stroke-width="1.3"/>
<line x1="380.17" y1="777.1" x2="380.17" y2="772.8" stroke="#1a1a1a" stroke-width="1.3"/>
<line x1="382.74" y1="429.5" x2="382.74" y2="433.8" stroke="#1a1a1a" stroke-width="1.3"/>
<line x1="382.74" y1="541.1" x2="382.74" y2="549.7" stroke="#1a1a1a" stroke-width="1.3"/>
<line x1="382.74" y1="657.1" x2="382.74" y2="665.7" stroke="#1a1a1a" stroke-width="1.3"/>
<line x1="382.74" y1="777.1" x2="382.74" y2="772.8" stroke="#1a1a1a" stroke-width="1.3"/>
<line x1="389.02" y1="429.5" x2="389.02" y2="433.8" stroke="#1a1a1a" stroke-width="1.3"/>
<line x1="389.02" y1="541.1" x2="389.02" y2="549.7" stroke="#1a1a1a" stroke-width="1.3"/>
<line x1="389.02" y1="657.1" x2="389.02" y2="665.7" stroke="#1a1a1a" stroke-width="1.3"/>
<line x1="389.02" y1="777.1" x2="389.02" y2="772.8" stroke="#1a1a1a" stroke-width="1.3"/>
<line x1="395.31" y1="429.5" x2="395.31" y2="433.8" stroke="#1a1a1a" stroke-width="1.3"/>
<line x1="395.31" y1="541.1" x2="395.31" y2="549.7" stroke="#1a1a1a" stroke-width="1.3"/>
<line x1="395.31" y1="657.1" x2="395.31" y2="665.7" stroke="#1a1a1a" stroke-width="1.3"/>
<line x1="395.31" y1="777.1" x2="395.31" y2="772.8" stroke="#1a1a1a" stroke-width="1.3"/>
<line x1="401.59" y1="429.5" x2="401.59" y2="438.5" stroke="#1a1a1a" stroke-width="1.3"/>
<line x1="401.59" y1="536.4" x2="401.59" y2="554.4" stroke="#1a1a1a" stroke-width="1.3"/>
<line x1="401.59" y1="652.4" x2="401.59" y2="670.4" stroke="#1a1a1a" stroke-width="1.3"/>
<line x1="401.59" y1="777.1" x2="401.59" y2="768.1" stroke="#1a1a1a" stroke-width="1.3"/>
<line x1="407.88" y1="429.5" x2="407.88" y2="433.8" stroke="#1a1a1a" stroke-width="1.3"/>
<line x1="407.88" y1="541.1" x2="407.88" y2="549.7" stroke="#1a1a1a" stroke-width="1.3"/>
<line x1="407.88" y1="657.1" x2="407.88" y2="665.7" stroke="#1a1a1a" stroke-width="1.3"/>
<line x1="407.88" y1="777.1" x2="407.88" y2="772.8" stroke="#1a1a1a" stroke-width="1.3"/>
<line x1="414.16" y1="429.5" x2="414.16" y2="433.8" stroke="#1a1a1a" stroke-width="1.3"/>
<line x1="414.16" y1="541.1" x2="414.16" y2="549.7" stroke="#1a1a1a" stroke-width="1.3"/>
<line x1="414.16" y1="657.1" x2="414.16" y2="665.7" stroke="#1a1a1a" stroke-width="1.3"/>
<line x1="414.16" y1="777.1" x2="414.16" y2="772.8" stroke="#1a1a1a" stroke-width="1.3"/>
<line x1="420.44" y1="429.5" x2="420.44" y2="433.8" stroke="#1a1a1a" stroke-width="1.3"/>
<line x1="420.44" y1="541.1" x2="420.44" y2="549.7" stroke="#1a1a1a" stroke-width="1.3"/>
<line x1="420.44" y1="657.1" x2="420.44" y2="665.7" stroke="#1a1a1a" stroke-width="1.3"/>
<line x1="420.44" y1="777.1" x2="420.44" y2="772.8" stroke="#1a1a1a" stroke-width="1.3"/>
<line x1="426.73" y1="429.5" x2="426.73" y2="433.8" stroke="#1a1a1a" stroke-width="1.3"/>
<line x1="426.73" y1="541.1" x2="426.73" y2="549.7" stroke="#1a1a1a" stroke-width="1.3"/>
<line x1="426.73" y1="657.1" x2="426.73" y2="665.7" stroke="#1a1a1a" stroke-width="1.3"/>
<line x1="426.73" y1="777.1" x2="426.73" y2="772.8" stroke="#1a1a1a" stroke-width="1.3"/>
<line x1="433.01" y1="429.5" x2="433.01" y2="433.8" stroke="#1a1a1a" stroke-width="1.3"/>
<line x1="433.01" y1="541.1" x2="433.01" y2="549.7" stroke="#1a1a1a" stroke-width="1.3"/>
<line x1="433.01" y1="657.1" x2="433.01" y2="665.7" stroke="#1a1a1a" stroke-width="1.3"/>
<line x1="433.01" y1="777.1" x2="433.01" y2="772.8" stroke="#1a1a1a" stroke-width="1.3"/>
<line x1="439.3" y1="429.5" x2="439.3" y2="438.5" stroke="#1a1a1a" stroke-width="1.3"/>
<line x1="439.3" y1="536.4" x2="439.3" y2="554.4" stroke="#1a1a1a" stroke-width="1.3"/>
<line x1="439.3" y1="652.4" x2="439.3" y2="670.4" stroke="#1a1a1a" stroke-width="1.3"/>
<line x1="439.3" y1="777.1" x2="439.3" y2="768.1" stroke="#1a1a1a" stroke-width="1.3"/>
<line x1="445.59" y1="429.5" x2="445.59" y2="433.8" stroke="#1a1a1a" stroke-width="1.3"/>
<line x1="445.59" y1="541.1" x2="445.59" y2="549.7" stroke="#1a1a1a" stroke-width="1.3"/>
<line x1="445.59" y1="657.1" x2="445.59" y2="665.7" stroke="#1a1a1a" stroke-width="1.3"/>
<line x1="445.59" y1="777.1" x2="445.59" y2="772.8" stroke="#1a1a1a" stroke-width="1.3"/>
<line x1="451.87" y1="429.5" x2="451.87" y2="433.8" stroke="#1a1a1a" stroke-width="1.3"/>
<line x1="451.87" y1="541.1" x2="451.87" y2="549.7" stroke="#1a1a1a" stroke-width="1.3"/>
<line x1="451.87" y1="657.1" x2="451.87" y2="665.7" stroke="#1a1a1a" stroke-width="1.3"/>
<line x1="451.87" y1="777.1" x2="451.87" y2="772.8" stroke="#1a1a1a" stroke-width="1.3"/>
<line x1="458.16" y1="429.5" x2="458.16" y2="433.8" stroke="#1a1a1a" stroke-width="1.3"/>
<line x1="458.16" y1="541.1" x2="458.16" y2="549.7" stroke="#1a1a1a" stroke-width="1.3"/>
<line x1="458.16" y1="657.1" x2="458.16" y2="665.7" stroke="#1a1a1a" stroke-width="1.3"/>
<line x1="458.16" y1="777.1" x2="458.16" y2="772.8" stroke="#1a1a1a" stroke-width="1.3"/>
<line x1="464.44" y1="429.5" x2="464.44" y2="433.8" stroke="#1a1a1a" stroke-width="1.3"/>
<line x1="464.44" y1="541.1" x2="464.44" y2="549.7" stroke="#1a1a1a" stroke-width="1.3"/>
<line x1="464.44" y1="657.1" x2="464.44" y2="665.7" stroke="#1a1a1a" stroke-width="1.3"/>
<line x1="464.44" y1="777.1" x2="464.44" y2="772.8" stroke="#1a1a1a" stroke-width="1.3"/>
<line x1="470.73" y1="429.5" x2="470.73" y2="433.8" stroke="#1a1a1a" stroke-width="1.3"/>
<line x1="470.73" y1="541.1" x2="470.73" y2="549.7" stroke="#1a1a1a" stroke-width="1.3"/>
<line x1="470.73" y1="657.1" x2="470.73" y2="665.7" stroke="#1a1a1a" stroke-width="1.3"/>
<line x1="470.73" y1="777.1" x2="470.73" y2="772.8" stroke="#1a1a1a" stroke-width="1.3"/>
<line x1="477.01" y1="429.5" x2="477.01" y2="438.5" stroke="#1a1a1a" stroke-width="1.3"/>
<line x1="477.01" y1="536.4" x2="477.01" y2="554.4" stroke="#1a1a1a" stroke-width="1.3"/>
<line x1="477.01" y1="652.4" x2="477.01" y2="670.4" stroke="#1a1a1a" stroke-width="1.3"/>
<line x1="477.01" y1="777.1" x2="477.01" y2="768.1" stroke="#1a1a1a" stroke-width="1.3"/>
<line x1="483.3" y1="429.5" x2="483.3" y2="433.8" stroke="#1a1a1a" stroke-width="1.3"/>
<line x1="483.3" y1="541.1" x2="483.3" y2="549.7" stroke="#1a1a1a" stroke-width="1.3"/>
<line x1="483.3" y1="657.1" x2="483.3" y2="665.7" stroke="#1a1a1a" stroke-width="1.3"/>
<line x1="483.3" y1="777.1" x2="483.3" y2="772.8" stroke="#1a1a1a" stroke-width="1.3"/>
<line x1="489.58" y1="429.5" x2="489.58" y2="433.8" stroke="#1a1a1a" stroke-width="1.3"/>
<line x1="489.58" y1="541.1" x2="489.58" y2="549.7" stroke="#1a1a1a" stroke-width="1.3"/>
<line x1="489.58" y1="657.1" x2="489.58" y2="665.7" stroke="#1a1a1a" stroke-width="1.3"/>
<line x1="489.58" y1="777.1" x2="489.58" y2="772.8" stroke="#1a1a1a" stroke-width="1.3"/>
<line x1="495.87" y1="429.5" x2="495.87" y2="433.8" stroke="#1a1a1a" stroke-width="1.3"/>
<line x1="495.87" y1="541.1" x2="495.87" y2="549.7" stroke="#1a1a1a" stroke-width="1.3"/>
<line x1="495.87" y1="657.1" x2="495.87" y2="665.7" stroke="#1a1a1a" stroke-width="1.3"/>
<line x1="495.87" y1="777.1" x2="495.87" y2="772.8" stroke="#1a1a1a" stroke-width="1.3"/>
<line x1="150" y1="544.01" x2="154.3" y2="544.01" stroke="#1a1a1a" stroke-width="1.3"/>
<line x1="261.4" y1="544.01" x2="270" y2="544.01" stroke="#1a1a1a" stroke-width="1.3"/>
<line x1="377.2" y1="544.01" x2="385.8" y2="544.01" stroke="#1a1a1a" stroke-width="1.3"/>
<line x1="497.1" y1="544.01" x2="492.8" y2="544.01" stroke="#1a1a1a" stroke-width="1.3"/>
<line x1="150" y1="537.73" x2="154.3" y2="537.73" stroke="#1a1a1a" stroke-width="1.3"/>
<line x1="261.4" y1="537.73" x2="270" y2="537.73" stroke="#1a1a1a" stroke-width="1.3"/>
<line x1="377.2" y1="537.73" x2="385.8" y2="537.73" stroke="#1a1a1a" stroke-width="1.3"/>
<line x1="497.1" y1="537.73" x2="492.8" y2="537.73" stroke="#1a1a1a" stroke-width="1.3"/>
<line x1="150" y1="531.44" x2="154.3" y2="531.44" stroke="#1a1a1a" stroke-width="1.3"/>
<line x1="261.4" y1="531.44" x2="270" y2="531.44" stroke="#1a1a1a" stroke-width="1.3"/>
<line x1="377.2" y1="531.44" x2="385.8" y2="531.44" stroke="#1a1a1a" stroke-width="1.3"/>
<line x1="497.1" y1="531.44" x2="492.8" y2="531.44" stroke="#1a1a1a" stroke-width="1.3"/>
<line x1="150" y1="525.16" x2="159" y2="525.16" stroke="#1a1a1a" stroke-width="1.3"/>
<line x1="256.7" y1="525.16" x2="274.7" y2="525.16" stroke="#1a1a1a" stroke-width="1.3"/>
<line x1="372.5" y1="525.16" x2="390.5" y2="525.16" stroke="#1a1a1a" stroke-width="1.3"/>
<line x1="497.1" y1="525.16" x2="488.1" y2="525.16" stroke="#1a1a1a" stroke-width="1.3"/>
<line x1="150" y1="518.88" x2="154.3" y2="518.88" stroke="#1a1a1a" stroke-width="1.3"/>
<line x1="261.4" y1="518.88" x2="270" y2="518.88" stroke="#1a1a1a" stroke-width="1.3"/>
<line x1="377.2" y1="518.88" x2="385.8" y2="518.88" stroke="#1a1a1a" stroke-width="1.3"/>
<line x1="497.1" y1="518.88" x2="492.8" y2="518.88" stroke="#1a1a1a" stroke-width="1.3"/>
<line x1="150" y1="512.59" x2="154.3" y2="512.59" stroke="#1a1a1a" stroke-width="1.3"/>
<line x1="261.4" y1="512.59" x2="270" y2="512.59" stroke="#1a1a1a" stroke-width="1.3"/>
<line x1="377.2" y1="512.59" x2="385.8" y2="512.59" stroke="#1a1a1a" stroke-width="1.3"/>
<line x1="497.1" y1="512.59" x2="492.8" y2="512.59" stroke="#1a1a1a" stroke-width="1.3"/>
<line x1="150" y1="506.31" x2="154.3" y2="506.31" stroke="#1a1a1a" stroke-width="1.3"/>
<line x1="261.4" y1="506.31" x2="270" y2="506.31" stroke="#1a1a1a" stroke-width="1.3"/>
<line x1="377.2" y1="506.31" x2="385.8" y2="506.31" stroke="#1a1a1a" stroke-width="1.3"/>
<line x1="497.1" y1="506.31" x2="492.8" y2="506.31" stroke="#1a1a1a" stroke-width="1.3"/>
<line x1="150" y1="500.02" x2="154.3" y2="500.02" stroke="#1a1a1a" stroke-width="1.3"/>
<line x1="261.4" y1="500.02" x2="270" y2="500.02" stroke="#1a1a1a" stroke-width="1.3"/>
<line x1="377.2" y1="500.02" x2="385.8" y2="500.02" stroke="#1a1a1a" stroke-width="1.3"/>
<line x1="497.1" y1="500.02" x2="492.8" y2="500.02" stroke="#1a1a1a" stroke-width="1.3"/>
<line x1="150" y1="493.74" x2="154.3" y2="493.74" stroke="#1a1a1a" stroke-width="1.3"/>
<line x1="261.4" y1="493.74" x2="270" y2="493.74" stroke="#1a1a1a" stroke-width="1.3"/>
<line x1="377.2" y1="493.74" x2="385.8" y2="493.74" stroke="#1a1a1a" stroke-width="1.3"/>
<line x1="497.1" y1="493.74" x2="492.8" y2="493.74" stroke="#1a1a1a" stroke-width="1.3"/>
<line x1="150" y1="487.45" x2="159" y2="487.45" stroke="#1a1a1a" stroke-width="1.3"/>
<line x1="256.7" y1="487.45" x2="274.7" y2="487.45" stroke="#1a1a1a" stroke-width="1.3"/>
<line x1="372.5" y1="487.45" x2="390.5" y2="487.45" stroke="#1a1a1a" stroke-width="1.3"/>
<line x1="497.1" y1="487.45" x2="488.1" y2="487.45" stroke="#1a1a1a" stroke-width="1.3"/>
<line x1="150" y1="481.16" x2="154.3" y2="481.16" stroke="#1a1a1a" stroke-width="1.3"/>
<line x1="261.4" y1="481.16" x2="270" y2="481.16" stroke="#1a1a1a" stroke-width="1.3"/>
<line x1="377.2" y1="481.16" x2="385.8" y2="481.16" stroke="#1a1a1a" stroke-width="1.3"/>
<line x1="497.1" y1="481.16" x2="492.8" y2="481.16" stroke="#1a1a1a" stroke-width="1.3"/>
<line x1="150" y1="474.88" x2="154.3" y2="474.88" stroke="#1a1a1a" stroke-width="1.3"/>
<line x1="261.4" y1="474.88" x2="270" y2="474.88" stroke="#1a1a1a" stroke-width="1.3"/>
<line x1="377.2" y1="474.88" x2="385.8" y2="474.88" stroke="#1a1a1a" stroke-width="1.3"/>
<line x1="497.1" y1="474.88" x2="492.8" y2="474.88" stroke="#1a1a1a" stroke-width="1.3"/>
<line x1="150" y1="468.59" x2="154.3" y2="468.59" stroke="#1a1a1a" stroke-width="1.3"/>
<line x1="261.4" y1="468.59" x2="270" y2="468.59" stroke="#1a1a1a" stroke-width="1.3"/>
<line x1="377.2" y1="468.59" x2="385.8" y2="468.59" stroke="#1a1a1a" stroke-width="1.3"/>
<line x1="497.1" y1="468.59" x2="492.8" y2="468.59" stroke="#1a1a1a" stroke-width="1.3"/>
<line x1="150" y1="462.31" x2="154.3" y2="462.31" stroke="#1a1a1a" stroke-width="1.3"/>
<line x1="261.4" y1="462.31" x2="270" y2="462.31" stroke="#1a1a1a" stroke-width="1.3"/>
<line x1="377.2" y1="462.31" x2="385.8" y2="462.31" stroke="#1a1a1a" stroke-width="1.3"/>
<line x1="497.1" y1="462.31" x2="492.8" y2="462.31" stroke="#1a1a1a" stroke-width="1.3"/>
<line x1="150" y1="456.02" x2="154.3" y2="456.02" stroke="#1a1a1a" stroke-width="1.3"/>
<line x1="261.4" y1="456.02" x2="270" y2="456.02" stroke="#1a1a1a" stroke-width="1.3"/>
<line x1="377.2" y1="456.02" x2="385.8" y2="456.02" stroke="#1a1a1a" stroke-width="1.3"/>
<line x1="497.1" y1="456.02" x2="492.8" y2="456.02" stroke="#1a1a1a" stroke-width="1.3"/>
<line x1="150" y1="449.74" x2="159" y2="449.74" stroke="#1a1a1a" stroke-width="1.3"/>
<line x1="256.7" y1="449.74" x2="274.7" y2="449.74" stroke="#1a1a1a" stroke-width="1.3"/>
<line x1="372.5" y1="449.74" x2="390.5" y2="449.74" stroke="#1a1a1a" stroke-width="1.3"/>
<line x1="497.1" y1="449.74" x2="488.1" y2="449.74" stroke="#1a1a1a" stroke-width="1.3"/>
<line x1="150" y1="443.45" x2="154.3" y2="443.45" stroke="#1a1a1a" stroke-width="1.3"/>
<line x1="261.4" y1="443.45" x2="270" y2="443.45" stroke="#1a1a1a" stroke-width="1.3"/>
<line x1="377.2" y1="443.45" x2="385.8" y2="443.45" stroke="#1a1a1a" stroke-width="1.3"/>
<line x1="497.1" y1="443.45" x2="492.8" y2="443.45" stroke="#1a1a1a" stroke-width="1.3"/>
<line x1="150" y1="437.17" x2="154.3" y2="437.17" stroke="#1a1a1a" stroke-width="1.3"/>
<line x1="261.4" y1="437.17" x2="270" y2="437.17" stroke="#1a1a1a" stroke-width="1.3"/>
<line x1="377.2" y1="437.17" x2="385.8" y2="437.17" stroke="#1a1a1a" stroke-width="1.3"/>
<line x1="497.1" y1="437.17" x2="492.8" y2="437.17" stroke="#1a1a1a" stroke-width="1.3"/>
<line x1="150" y1="430.88" x2="154.3" y2="430.88" stroke="#1a1a1a" stroke-width="1.3"/>
<line x1="261.4" y1="430.88" x2="270" y2="430.88" stroke="#1a1a1a" stroke-width="1.3"/>
<line x1="377.2" y1="430.88" x2="385.8" y2="430.88" stroke="#1a1a1a" stroke-width="1.3"/>
<line x1="497.1" y1="430.88" x2="492.8" y2="430.88" stroke="#1a1a1a" stroke-width="1.3"/>
<line x1="150" y1="659.96" x2="154.3" y2="659.96" stroke="#1a1a1a" stroke-width="1.3"/>
<line x1="261.4" y1="659.96" x2="270" y2="659.96" stroke="#1a1a1a" stroke-width="1.3"/>
<line x1="377.2" y1="659.96" x2="385.8" y2="659.96" stroke="#1a1a1a" stroke-width="1.3"/>
<line x1="497.1" y1="659.96" x2="492.8" y2="659.96" stroke="#1a1a1a" stroke-width="1.3"/>
<line x1="150" y1="653.68" x2="154.3" y2="653.68" stroke="#1a1a1a" stroke-width="1.3"/>
<line x1="261.4" y1="653.68" x2="270" y2="653.68" stroke="#1a1a1a" stroke-width="1.3"/>
<line x1="377.2" y1="653.68" x2="385.8" y2="653.68" stroke="#1a1a1a" stroke-width="1.3"/>
<line x1="497.1" y1="653.68" x2="492.8" y2="653.68" stroke="#1a1a1a" stroke-width="1.3"/>
<line x1="150" y1="647.39" x2="154.3" y2="647.39" stroke="#1a1a1a" stroke-width="1.3"/>
<line x1="261.4" y1="647.39" x2="270" y2="647.39" stroke="#1a1a1a" stroke-width="1.3"/>
<line x1="377.2" y1="647.39" x2="385.8" y2="647.39" stroke="#1a1a1a" stroke-width="1.3"/>
<line x1="497.1" y1="647.39" x2="492.8" y2="647.39" stroke="#1a1a1a" stroke-width="1.3"/>
<line x1="150" y1="641.11" x2="159" y2="641.11" stroke="#1a1a1a" stroke-width="1.3"/>
<line x1="256.7" y1="641.11" x2="274.7" y2="641.11" stroke="#1a1a1a" stroke-width="1.3"/>
<line x1="372.5" y1="641.11" x2="390.5" y2="641.11" stroke="#1a1a1a" stroke-width="1.3"/>
<line x1="497.1" y1="641.11" x2="488.1" y2="641.11" stroke="#1a1a1a" stroke-width="1.3"/>
<line x1="150" y1="634.82" x2="154.3" y2="634.82" stroke="#1a1a1a" stroke-width="1.3"/>
<line x1="261.4" y1="634.82" x2="270" y2="634.82" stroke="#1a1a1a" stroke-width="1.3"/>
<line x1="377.2" y1="634.82" x2="385.8" y2="634.82" stroke="#1a1a1a" stroke-width="1.3"/>
<line x1="497.1" y1="634.82" x2="492.8" y2="634.82" stroke="#1a1a1a" stroke-width="1.3"/>
<line x1="150" y1="628.54" x2="154.3" y2="628.54" stroke="#1a1a1a" stroke-width="1.3"/>
<line x1="261.4" y1="628.54" x2="270" y2="628.54" stroke="#1a1a1a" stroke-width="1.3"/>
<line x1="377.2" y1="628.54" x2="385.8" y2="628.54" stroke="#1a1a1a" stroke-width="1.3"/>
<line x1="497.1" y1="628.54" x2="492.8" y2="628.54" stroke="#1a1a1a" stroke-width="1.3"/>
<line x1="150" y1="622.25" x2="154.3" y2="622.25" stroke="#1a1a1a" stroke-width="1.3"/>
<line x1="261.4" y1="622.25" x2="270" y2="622.25" stroke="#1a1a1a" stroke-width="1.3"/>
<line x1="377.2" y1="622.25" x2="385.8" y2="622.25" stroke="#1a1a1a" stroke-width="1.3"/>
<line x1="497.1" y1="622.25" x2="492.8" y2="622.25" stroke="#1a1a1a" stroke-width="1.3"/>
<line x1="150" y1="615.97" x2="154.3" y2="615.97" stroke="#1a1a1a" stroke-width="1.3"/>
<line x1="261.4" y1="615.97" x2="270" y2="615.97" stroke="#1a1a1a" stroke-width="1.3"/>
<line x1="377.2" y1="615.97" x2="385.8" y2="615.97" stroke="#1a1a1a" stroke-width="1.3"/>
<line x1="497.1" y1="615.97" x2="492.8" y2="615.97" stroke="#1a1a1a" stroke-width="1.3"/>
<line x1="150" y1="609.68" x2="154.3" y2="609.68" stroke="#1a1a1a" stroke-width="1.3"/>
<line x1="261.4" y1="609.68" x2="270" y2="609.68" stroke="#1a1a1a" stroke-width="1.3"/>
<line x1="377.2" y1="609.68" x2="385.8" y2="609.68" stroke="#1a1a1a" stroke-width="1.3"/>
<line x1="497.1" y1="609.68" x2="492.8" y2="609.68" stroke="#1a1a1a" stroke-width="1.3"/>
<line x1="150" y1="603.4" x2="159" y2="603.4" stroke="#1a1a1a" stroke-width="1.3"/>
<line x1="256.7" y1="603.4" x2="274.7" y2="603.4" stroke="#1a1a1a" stroke-width="1.3"/>
<line x1="372.5" y1="603.4" x2="390.5" y2="603.4" stroke="#1a1a1a" stroke-width="1.3"/>
<line x1="497.1" y1="603.4" x2="488.1" y2="603.4" stroke="#1a1a1a" stroke-width="1.3"/>
<line x1="150" y1="597.12" x2="154.3" y2="597.12" stroke="#1a1a1a" stroke-width="1.3"/>
<line x1="261.4" y1="597.12" x2="270" y2="597.12" stroke="#1a1a1a" stroke-width="1.3"/>
<line x1="377.2" y1="597.12" x2="385.8" y2="597.12" stroke="#1a1a1a" stroke-width="1.3"/>
<line x1="497.1" y1="597.12" x2="492.8" y2="597.12" stroke="#1a1a1a" stroke-width="1.3"/>
<line x1="150" y1="590.83" x2="154.3" y2="590.83" stroke="#1a1a1a" stroke-width="1.3"/>
<line x1="261.4" y1="590.83" x2="270" y2="590.83" stroke="#1a1a1a" stroke-width="1.3"/>
<line x1="377.2" y1="590.83" x2="385.8" y2="590.83" stroke="#1a1a1a" stroke-width="1.3"/>
<line x1="497.1" y1="590.83" x2="492.8" y2="590.83" stroke="#1a1a1a" stroke-width="1.3"/>
<line x1="150" y1="584.54" x2="154.3" y2="584.54" stroke="#1a1a1a" stroke-width="1.3"/>
<line x1="261.4" y1="584.54" x2="270" y2="584.54" stroke="#1a1a1a" stroke-width="1.3"/>
<line x1="377.2" y1="584.54" x2="385.8" y2="584.54" stroke="#1a1a1a" stroke-width="1.3"/>
<line x1="497.1" y1="584.54" x2="492.8" y2="584.54" stroke="#1a1a1a" stroke-width="1.3"/>
<line x1="150" y1="578.26" x2="154.3" y2="578.26" stroke="#1a1a1a" stroke-width="1.3"/>
<line x1="261.4" y1="578.26" x2="270" y2="578.26" stroke="#1a1a1a" stroke-width="1.3"/>
<line x1="377.2" y1="578.26" x2="385.8" y2="578.26" stroke="#1a1a1a" stroke-width="1.3"/>
<line x1="497.1" y1="578.26" x2="492.8" y2="578.26" stroke="#1a1a1a" stroke-width="1.3"/>
<line x1="150" y1="571.98" x2="154.3" y2="571.98" stroke="#1a1a1a" stroke-width="1.3"/>
<line x1="261.4" y1="571.98" x2="270" y2="571.98" stroke="#1a1a1a" stroke-width="1.3"/>
<line x1="377.2" y1="571.98" x2="385.8" y2="571.98" stroke="#1a1a1a" stroke-width="1.3"/>
<line x1="497.1" y1="571.98" x2="492.8" y2="571.98" stroke="#1a1a1a" stroke-width="1.3"/>
<line x1="150" y1="565.69" x2="159" y2="565.69" stroke="#1a1a1a" stroke-width="1.3"/>
<line x1="256.7" y1="565.69" x2="274.7" y2="565.69" stroke="#1a1a1a" stroke-width="1.3"/>
<line x1="372.5" y1="565.69" x2="390.5" y2="565.69" stroke="#1a1a1a" stroke-width="1.3"/>
<line x1="497.1" y1="565.69" x2="488.1" y2="565.69" stroke="#1a1a1a" stroke-width="1.3"/>
<line x1="150" y1="559.4" x2="154.3" y2="559.4" stroke="#1a1a1a" stroke-width="1.3"/>
<line x1="261.4" y1="559.4" x2="270" y2="559.4" stroke="#1a1a1a" stroke-width="1.3"/>
<line x1="377.2" y1="559.4" x2="385.8" y2="559.4" stroke="#1a1a1a" stroke-width="1.3"/>
<line x1="497.1" y1="559.4" x2="492.8" y2="559.4" stroke="#1a1a1a" stroke-width="1.3"/>
<line x1="150" y1="553.12" x2="154.3" y2="553.12" stroke="#1a1a1a" stroke-width="1.3"/>
<line x1="261.4" y1="553.12" x2="270" y2="553.12" stroke="#1a1a1a" stroke-width="1.3"/>
<line x1="377.2" y1="553.12" x2="385.8" y2="553.12" stroke="#1a1a1a" stroke-width="1.3"/>
<line x1="497.1" y1="553.12" x2="492.8" y2="553.12" stroke="#1a1a1a" stroke-width="1.3"/>
<line x1="150" y1="546.84" x2="154.3" y2="546.84" stroke="#1a1a1a" stroke-width="1.3"/>
<line x1="261.4" y1="546.84" x2="270" y2="546.84" stroke="#1a1a1a" stroke-width="1.3"/>
<line x1="377.2" y1="546.84" x2="385.8" y2="546.84" stroke="#1a1a1a" stroke-width="1.3"/>
<line x1="497.1" y1="546.84" x2="492.8" y2="546.84" stroke="#1a1a1a" stroke-width="1.3"/>
<line x1="150" y1="775.82" x2="154.3" y2="775.82" stroke="#1a1a1a" stroke-width="1.3"/>
<line x1="261.4" y1="775.82" x2="270" y2="775.82" stroke="#1a1a1a" stroke-width="1.3"/>
<line x1="377.2" y1="775.82" x2="385.8" y2="775.82" stroke="#1a1a1a" stroke-width="1.3"/>
<line x1="497.1" y1="775.82" x2="492.8" y2="775.82" stroke="#1a1a1a" stroke-width="1.3"/>
<line x1="150" y1="769.53" x2="154.3" y2="769.53" stroke="#1a1a1a" stroke-width="1.3"/>
<line x1="261.4" y1="769.53" x2="270" y2="769.53" stroke="#1a1a1a" stroke-width="1.3"/>
<line x1="377.2" y1="769.53" x2="385.8" y2="769.53" stroke="#1a1a1a" stroke-width="1.3"/>
<line x1="497.1" y1="769.53" x2="492.8" y2="769.53" stroke="#1a1a1a" stroke-width="1.3"/>
<line x1="150" y1="763.25" x2="154.3" y2="763.25" stroke="#1a1a1a" stroke-width="1.3"/>
<line x1="261.4" y1="763.25" x2="270" y2="763.25" stroke="#1a1a1a" stroke-width="1.3"/>
<line x1="377.2" y1="763.25" x2="385.8" y2="763.25" stroke="#1a1a1a" stroke-width="1.3"/>
<line x1="497.1" y1="763.25" x2="492.8" y2="763.25" stroke="#1a1a1a" stroke-width="1.3"/>
<line x1="150" y1="756.96" x2="159" y2="756.96" stroke="#1a1a1a" stroke-width="1.3"/>
<line x1="256.7" y1="756.96" x2="274.7" y2="756.96" stroke="#1a1a1a" stroke-width="1.3"/>
<line x1="372.5" y1="756.96" x2="390.5" y2="756.96" stroke="#1a1a1a" stroke-width="1.3"/>
<line x1="497.1" y1="756.96" x2="488.1" y2="756.96" stroke="#1a1a1a" stroke-width="1.3"/>
<line x1="150" y1="750.67" x2="154.3" y2="750.67" stroke="#1a1a1a" stroke-width="1.3"/>
<line x1="261.4" y1="750.67" x2="270" y2="750.67" stroke="#1a1a1a" stroke-width="1.3"/>
<line x1="377.2" y1="750.67" x2="385.8" y2="750.67" stroke="#1a1a1a" stroke-width="1.3"/>
<line x1="497.1" y1="750.67" x2="492.8" y2="750.67" stroke="#1a1a1a" stroke-width="1.3"/>
<line x1="150" y1="744.39" x2="154.3" y2="744.39" stroke="#1a1a1a" stroke-width="1.3"/>
<line x1="261.4" y1="744.39" x2="270" y2="744.39" stroke="#1a1a1a" stroke-width="1.3"/>
<line x1="377.2" y1="744.39" x2="385.8" y2="744.39" stroke="#1a1a1a" stroke-width="1.3"/>
<line x1="497.1" y1="744.39" x2="492.8" y2="744.39" stroke="#1a1a1a" stroke-width="1.3"/>
<line x1="150" y1="738.11" x2="154.3" y2="738.11" stroke="#1a1a1a" stroke-width="1.3"/>
<line x1="261.4" y1="738.11" x2="270" y2="738.11" stroke="#1a1a1a" stroke-width="1.3"/>
<line x1="377.2" y1="738.11" x2="385.8" y2="738.11" stroke="#1a1a1a" stroke-width="1.3"/>
<line x1="497.1" y1="738.11" x2="492.8" y2="738.11" stroke="#1a1a1a" stroke-width="1.3"/>
<line x1="150" y1="731.82" x2="154.3" y2="731.82" stroke="#1a1a1a" stroke-width="1.3"/>
<line x1="261.4" y1="731.82" x2="270" y2="731.82" stroke="#1a1a1a" stroke-width="1.3"/>
<line x1="377.2" y1="731.82" x2="385.8" y2="731.82" stroke="#1a1a1a" stroke-width="1.3"/>
<line x1="497.1" y1="731.82" x2="492.8" y2="731.82" stroke="#1a1a1a" stroke-width="1.3"/>
<line x1="150" y1="725.53" x2="154.3" y2="725.53" stroke="#1a1a1a" stroke-width="1.3"/>
<line x1="261.4" y1="725.53" x2="270" y2="725.53" stroke="#1a1a1a" stroke-width="1.3"/>
<line x1="377.2" y1="725.53" x2="385.8" y2="725.53" stroke="#1a1a1a" stroke-width="1.3"/>
<line x1="497.1" y1="725.53" x2="492.8" y2="725.53" stroke="#1a1a1a" stroke-width="1.3"/>
<line x1="150" y1="719.25" x2="159" y2="719.25" stroke="#1a1a1a" stroke-width="1.3"/>
<line x1="256.7" y1="719.25" x2="274.7" y2="719.25" stroke="#1a1a1a" stroke-width="1.3"/>
<line x1="372.5" y1="719.25" x2="390.5" y2="719.25" stroke="#1a1a1a" stroke-width="1.3"/>
<line x1="497.1" y1="719.25" x2="488.1" y2="719.25" stroke="#1a1a1a" stroke-width="1.3"/>
<line x1="150" y1="712.97" x2="154.3" y2="712.97" stroke="#1a1a1a" stroke-width="1.3"/>
<line x1="261.4" y1="712.97" x2="270" y2="712.97" stroke="#1a1a1a" stroke-width="1.3"/>
<line x1="377.2" y1="712.97" x2="385.8" y2="712.97" stroke="#1a1a1a" stroke-width="1.3"/>
<line x1="497.1" y1="712.97" x2="492.8" y2="712.97" stroke="#1a1a1a" stroke-width="1.3"/>
<line x1="150" y1="706.68" x2="154.3" y2="706.68" stroke="#1a1a1a" stroke-width="1.3"/>
<line x1="261.4" y1="706.68" x2="270" y2="706.68" stroke="#1a1a1a" stroke-width="1.3"/>
<line x1="377.2" y1="706.68" x2="385.8" y2="706.68" stroke="#1a1a1a" stroke-width="1.3"/>
<line x1="497.1" y1="706.68" x2="492.8" y2="706.68" stroke="#1a1a1a" stroke-width="1.3"/>
<line x1="150" y1="700.39" x2="154.3" y2="700.39" stroke="#1a1a1a" stroke-width="1.3"/>
<line x1="261.4" y1="700.39" x2="270" y2="700.39" stroke="#1a1a1a" stroke-width="1.3"/>
<line x1="377.2" y1="700.39" x2="385.8" y2="700.39" stroke="#1a1a1a" stroke-width="1.3"/>
<line x1="497.1" y1="700.39" x2="492.8" y2="700.39" stroke="#1a1a1a" stroke-width="1.3"/>
<line x1="150" y1="694.11" x2="154.3" y2="694.11" stroke="#1a1a1a" stroke-width="1.3"/>
<line x1="261.4" y1="694.11" x2="270" y2="694.11" stroke="#1a1a1a" stroke-width="1.3"/>
<line x1="377.2" y1="694.11" x2="385.8" y2="694.11" stroke="#1a1a1a" stroke-width="1.3"/>
<line x1="497.1" y1="694.11" x2="492.8" y2="694.11" stroke="#1a1a1a" stroke-width="1.3"/>
<line x1="150" y1="687.83" x2="154.3" y2="687.83" stroke="#1a1a1a" stroke-width="1.3"/>
<line x1="261.4" y1="687.83" x2="270" y2="687.83" stroke="#1a1a1a" stroke-width="1.3"/>
<line x1="377.2" y1="687.83" x2="385.8" y2="687.83" stroke="#1a1a1a" stroke-width="1.3"/>
<line x1="497.1" y1="687.83" x2="492.8" y2="687.83" stroke="#1a1a1a" stroke-width="1.3"/>
<line x1="150" y1="681.54" x2="159" y2="681.54" stroke="#1a1a1a" stroke-width="1.3"/>
<line x1="256.7" y1="681.54" x2="274.7" y2="681.54" stroke="#1a1a1a" stroke-width="1.3"/>
<line x1="372.5" y1="681.54" x2="390.5" y2="681.54" stroke="#1a1a1a" stroke-width="1.3"/>
<line x1="497.1" y1="681.54" x2="488.1" y2="681.54" stroke="#1a1a1a" stroke-width="1.3"/>
<line x1="150" y1="675.25" x2="154.3" y2="675.25" stroke="#1a1a1a" stroke-width="1.3"/>
<line x1="261.4" y1="675.25" x2="270" y2="675.25" stroke="#1a1a1a" stroke-width="1.3"/>
<line x1="377.2" y1="675.25" x2="385.8" y2="675.25" stroke="#1a1a1a" stroke-width="1.3"/>
<line x1="497.1" y1="675.25" x2="492.8" y2="675.25" stroke="#1a1a1a" stroke-width="1.3"/>
<line x1="150" y1="668.97" x2="154.3" y2="668.97" stroke="#1a1a1a" stroke-width="1.3"/>
<line x1="261.4" y1="668.97" x2="270" y2="668.97" stroke="#1a1a1a" stroke-width="1.3"/>
<line x1="377.2" y1="668.97" x2="385.8" y2="668.97" stroke="#1a1a1a" stroke-width="1.3"/>
<line x1="497.1" y1="668.97" x2="492.8" y2="668.97" stroke="#1a1a1a" stroke-width="1.3"/>
<line x1="150" y1="662.68" x2="154.3" y2="662.68" stroke="#1a1a1a" stroke-width="1.3"/>
<line x1="261.4" y1="662.68" x2="270" y2="662.68" stroke="#1a1a1a" stroke-width="1.3"/>
<line x1="377.2" y1="662.68" x2="385.8" y2="662.68" stroke="#1a1a1a" stroke-width="1.3"/>
<line x1="497.1" y1="662.68" x2="492.8" y2="662.68" stroke="#1a1a1a" stroke-width="1.3"/>
<line x1="150" y1="429.5" x2="150" y2="777.1" stroke="#1a1a1a" stroke-width="1.3"/>
<line x1="265.7" y1="429.5" x2="265.7" y2="777.1" stroke="#1a1a1a" stroke-width="1.3"/>
<line x1="381.5" y1="429.5" x2="381.5" y2="777.1" stroke="#1a1a1a" stroke-width="1.3"/>
<line x1="497.1" y1="429.5" x2="497.1" y2="777.1" stroke="#1a1a1a" stroke-width="1.3"/>
<line x1="150" y1="429.5" x2="497.1" y2="429.5" stroke="#1a1a1a" stroke-width="1.3"/>
<line x1="150" y1="545.4" x2="497.1" y2="545.4" stroke="#1a1a1a" stroke-width="1.3"/>
<line x1="150" y1="661.4" x2="497.1" y2="661.4" stroke="#1a1a1a" stroke-width="1.3"/>
<line x1="150" y1="777.1" x2="497.1" y2="777.1" stroke="#1a1a1a" stroke-width="1.3"/>
<text x="141.3" y="454.74" font-size="14" text-anchor="end" fill="#000" font-family="Liberation Sans" stroke="#000" stroke-width="0.12" textLength="30.2" lengthAdjust="spacingAndGlyphs" style="">0.03</text>
<text x="141.3" y="492.45" font-size="14" text-anchor="end" fill="#000" font-family="Liberation Sans" stroke="#000" stroke-width="0.12" textLength="8.1" lengthAdjust="spacingAndGlyphs" style="">0</text>
<text x="141.3" y="530.16" font-size="14" text-anchor="end" fill="#000" font-family="Liberation Sans" stroke="#000" stroke-width="0.12" textLength="41" lengthAdjust="spacingAndGlyphs" style="">&#8722;0.03</text>
<text x="141.3" y="570.69" font-size="14" text-anchor="end" fill="#000" font-family="Liberation Sans" stroke="#000" stroke-width="0.12" textLength="30.2" lengthAdjust="spacingAndGlyphs" style="">0.03</text>
<text x="141.3" y="608.4" font-size="14" text-anchor="end" fill="#000" font-family="Liberation Sans" stroke="#000" stroke-width="0.12" textLength="8.1" lengthAdjust="spacingAndGlyphs" style="">0</text>
<text x="141.3" y="646.11" font-size="14" text-anchor="end" fill="#000" font-family="Liberation Sans" stroke="#000" stroke-width="0.12" textLength="41" lengthAdjust="spacingAndGlyphs" style="">&#8722;0.03</text>
<text x="141.3" y="686.54" font-size="14" text-anchor="end" fill="#000" font-family="Liberation Sans" stroke="#000" stroke-width="0.12" textLength="30.2" lengthAdjust="spacingAndGlyphs" style="">0.03</text>
<text x="141.3" y="724.25" font-size="14" text-anchor="end" fill="#000" font-family="Liberation Sans" stroke="#000" stroke-width="0.12" textLength="8.1" lengthAdjust="spacingAndGlyphs" style="">0</text>
<text x="141.3" y="761.96" font-size="14" text-anchor="end" fill="#000" font-family="Liberation Sans" stroke="#000" stroke-width="0.12" textLength="41" lengthAdjust="spacingAndGlyphs" style="">&#8722;0.03</text>
<text x="170.14" y="795.6" font-size="14" text-anchor="middle" fill="#000" font-family="Liberation Sans" stroke="#000" stroke-width="0.12" textLength="40.2" lengthAdjust="spacingAndGlyphs" style="">&#8722;0.03</text>
<text x="207.85" y="795.6" font-size="14" text-anchor="middle" fill="#000" font-family="Liberation Sans" stroke="#000" stroke-width="0.12" textLength="8.1" lengthAdjust="spacingAndGlyphs" style="">0</text>
<text x="245.56" y="795.6" font-size="14" text-anchor="middle" fill="#000" font-family="Liberation Sans" stroke="#000" stroke-width="0.12" textLength="30.2" lengthAdjust="spacingAndGlyphs" style="">0.03</text>
<text x="285.89" y="795.6" font-size="14" text-anchor="middle" fill="#000" font-family="Liberation Sans" stroke="#000" stroke-width="0.12" textLength="40.2" lengthAdjust="spacingAndGlyphs" style="">&#8722;0.03</text>
<text x="323.6" y="795.6" font-size="14" text-anchor="middle" fill="#000" font-family="Liberation Sans" stroke="#000" stroke-width="0.12" textLength="8.1" lengthAdjust="spacingAndGlyphs" style="">0</text>
<text x="361.31" y="795.6" font-size="14" text-anchor="middle" fill="#000" font-family="Liberation Sans" stroke="#000" stroke-width="0.12" textLength="30.2" lengthAdjust="spacingAndGlyphs" style="">0.03</text>
<text x="401.59" y="795.6" font-size="14" text-anchor="middle" fill="#000" font-family="Liberation Sans" stroke="#000" stroke-width="0.12" textLength="40.2" lengthAdjust="spacingAndGlyphs" style="">&#8722;0.03</text>
<text x="439.3" y="795.6" font-size="14" text-anchor="middle" fill="#000" font-family="Liberation Sans" stroke="#000" stroke-width="0.12" textLength="8.1" lengthAdjust="spacingAndGlyphs" style="">0</text>
<text x="477.01" y="795.6" font-size="14" text-anchor="middle" fill="#000" font-family="Liberation Sans" stroke="#000" stroke-width="0.12" textLength="30.2" lengthAdjust="spacingAndGlyphs" style="">0.03</text>
<g transform="translate(259.6,844)" font-family="Liberation Sans" fill="#000" stroke="#000" stroke-width="0.12" font-style="italic"><text x="0" y="0" font-size="16">&#952;</text><text x="10.8" y="4.6" font-size="9" textLength="4.8" lengthAdjust="spacingAndGlyphs">x</text><line x1="25.9" y1="-4.6" x2="34.7" y2="-4.6" stroke-width="1.2"/><text x="46.2" y="0" font-size="16">&#952;</text><text x="56.4" y="4.6" font-size="9" textLength="41.3" lengthAdjust="spacingAndGlyphs">x,c&#593;ustic</text></g>
<g transform="translate(89,666.6) rotate(-90)" font-family="Liberation Sans" fill="#000" stroke="#000" stroke-width="0.12" font-style="italic"><text x="0" y="0" font-size="16">&#952;</text><text x="10.8" y="4.6" font-size="9" textLength="4.8" lengthAdjust="spacingAndGlyphs">y</text><line x1="25.9" y1="-4.6" x2="34.7" y2="-4.6" stroke-width="1.2"/><text x="46.2" y="0" font-size="16">&#952;</text><text x="56.4" y="4.6" font-size="9" textLength="41.3" lengthAdjust="spacingAndGlyphs">y,c&#593;ustic</text></g>
<clipPath id="cp00"><rect x="150" y="429.5" width="115.7" height="115.9"/></clipPath>
<g clip-path="url(#cp00)">
<path d="M219.6,487.3 L219.55,487.3 L219.41,487.29 L219.17,487.26 L218.84,487.21 L218.42,487.13 L217.94,487.02 L217.38,486.86 L216.77,486.65 L216.12,486.4 L215.43,486.1 L214.72,485.75 L214,485.35 L213.29,484.91 L212.58,484.42 L211.91,483.91 L211.27,483.36 L210.67,482.79 L210.12,482.22 L209.62,481.64 L209.19,481.06 L208.81,480.51 L208.5,479.98 L208.25,479.49 L208.05,479.04 L207.91,478.65 L207.81,478.32 L207.75,478.05 L207.71,477.86 L207.7,477.74 L207.7,477.7 L207.7,477.74 L207.69,477.86 L207.65,478.05 L207.59,478.32 L207.49,478.65 L207.35,479.04 L207.15,479.49 L206.9,479.98 L206.59,480.51 L206.21,481.06 L205.78,481.64 L205.28,482.22 L204.73,482.79 L204.13,483.36 L203.49,483.91 L202.82,484.42 L202.11,484.91 L201.4,485.35 L200.68,485.75 L199.97,486.1 L199.28,486.4 L198.63,486.65 L198.02,486.86 L197.46,487.02 L196.98,487.13 L196.56,487.21 L196.23,487.26 L195.99,487.29 L195.85,487.3 L195.8,487.3 L195.85,487.3 L195.99,487.31 L196.23,487.34 L196.56,487.39 L196.98,487.47 L197.46,487.58 L198.02,487.74 L198.63,487.95 L199.28,488.2 L199.97,488.5 L200.68,488.85 L201.4,489.25 L202.11,489.69 L202.82,490.18 L203.49,490.69 L204.13,491.24 L204.73,491.81 L205.28,492.38 L205.78,492.96 L206.21,493.54 L206.59,494.09 L206.9,494.62 L207.15,495.11 L207.35,495.56 L207.49,495.95 L207.59,496.28 L207.65,496.55 L207.69,496.74 L207.7,496.86 L207.7,496.9 L207.7,496.86 L207.71,496.74 L207.75,496.55 L207.81,496.28 L207.91,495.95 L208.05,495.56 L208.25,495.11 L208.5,494.62 L208.81,494.09 L209.19,493.54 L209.62,492.96 L210.12,492.38 L210.67,491.81 L211.27,491.24 L211.91,490.69 L212.58,490.18 L213.29,489.69 L214,489.25 L214.72,488.85 L215.43,488.5 L216.12,488.2 L216.77,487.95 L217.38,487.74 L217.94,487.58 L218.42,487.47 L218.84,487.39 L219.17,487.34 L219.41,487.31 L219.55,487.3 L219.6,487.3Z" fill="none" stroke="#222" stroke-width="0.9"/>
<line x1="150" y1="474.4" x2="266" y2="499.1" stroke="#22cdf0" stroke-width="1.3"/>
<circle cx="172.8" cy="479" r="3.9" fill="none" stroke="#22cdf0" stroke-width="1.2"/>
<circle cx="172.8" cy="479" r="1.85" fill="#22cdf0"/>
<circle cx="221.2" cy="489.8" r="3.9" fill="none" stroke="#22cdf0" stroke-width="1.2"/>
<circle cx="221.2" cy="489.8" r="1.85" fill="#22cdf0"/>
<circle cx="251.4" cy="496.6" r="3.9" fill="none" stroke="#22cdf0" stroke-width="1.2"/>
<circle cx="251.4" cy="496.6" r="1.85" fill="#22cdf0"/>
</g>
<text x="163" y="453" font-size="16" text-anchor="start" fill="#22cdf0" font-family="Liberation Serif" stroke="#22cdf0" stroke-width="0.35" style="">c</text>
<clipPath id="cp10"><rect x="265.7" y="429.5" width="115.8" height="115.9"/></clipPath>
<g clip-path="url(#cp10)">
<path d="M312.3,491.5 Q322.04,487.07 324.8,478.3 Q325.22,487.48 333.5,494.2 Q323.34,489.45 312.3,491.5" fill="none" stroke="#222" stroke-width="0.9"/>
<line x1="265.7" y1="494.8" x2="381.4" y2="497.5" stroke="#b2003a" stroke-width="1.3"/>
<circle cx="287.4" cy="495.6" r="1.85" fill="#b2003a"/>
<circle cx="337" cy="496.6" r="1.85" fill="#b2003a"/>
<circle cx="367.8" cy="497.3" r="1.85" fill="#b2003a"/>
</g>
<text x="278" y="453" font-size="16.5" text-anchor="start" fill="#b2003a" font-family="Liberation Serif" stroke="#b2003a" stroke-width="0.35" style="">d</text>
<clipPath id="cp20"><rect x="381.5" y="429.5" width="115.6" height="115.9"/></clipPath>
<g clip-path="url(#cp20)">
<path d="M428.3,482.9 Q439.57,484.74 450.1,479.6 Q441.45,486.73 440.8,496.2 Q438.18,487.23 428.3,482.9" fill="none" stroke="#222" stroke-width="0.9"/>
<line x1="381.4" y1="512.7" x2="497.1" y2="455.7" stroke="#3f9c0c" stroke-width="1.3"/>
<circle cx="407.9" cy="500.1" r="1.85" fill="#3f9c0c"/>
<circle cx="453" cy="477.7" r="1.85" fill="#3f9c0c"/>
<circle cx="480.8" cy="464.1" r="1.85" fill="#3f9c0c"/>
</g>
<text x="394.2" y="453" font-size="16" text-anchor="start" fill="#3f9c0c" font-family="Liberation Sans" stroke="#3f9c0c" stroke-width="0.35" style="">e</text>
<clipPath id="cp01"><rect x="150" y="545.4" width="115.7" height="116"/></clipPath>
<g clip-path="url(#cp01)">
<path d="M222.2,603.1 L222.14,603.1 L221.96,603.09 L221.67,603.06 L221.28,603 L220.78,602.9 L220.19,602.76 L219.52,602.58 L218.78,602.33 L217.99,602.03 L217.15,601.68 L216.29,601.26 L215.42,600.78 L214.56,600.26 L213.71,599.68 L212.89,599.07 L212.11,598.42 L211.39,597.75 L210.72,597.06 L210.13,596.38 L209.6,595.7 L209.15,595.04 L208.77,594.41 L208.46,593.82 L208.22,593.29 L208.05,592.83 L207.93,592.43 L207.86,592.12 L207.82,591.89 L207.8,591.75 L207.8,591.7 L207.8,591.75 L207.78,591.89 L207.74,592.12 L207.67,592.43 L207.55,592.83 L207.38,593.29 L207.14,593.82 L206.83,594.41 L206.45,595.04 L206,595.7 L205.47,596.38 L204.88,597.06 L204.21,597.75 L203.49,598.42 L202.71,599.07 L201.89,599.68 L201.04,600.26 L200.18,600.78 L199.31,601.26 L198.45,601.68 L197.61,602.03 L196.82,602.33 L196.08,602.58 L195.41,602.76 L194.82,602.9 L194.32,603 L193.93,603.06 L193.64,603.09 L193.46,603.1 L193.4,603.1 L193.46,603.1 L193.64,603.11 L193.93,603.14 L194.32,603.2 L194.82,603.3 L195.41,603.44 L196.08,603.62 L196.82,603.87 L197.61,604.17 L198.45,604.52 L199.31,604.94 L200.18,605.42 L201.04,605.94 L201.89,606.52 L202.71,607.13 L203.49,607.78 L204.21,608.45 L204.88,609.14 L205.47,609.82 L206,610.5 L206.45,611.16 L206.83,611.79 L207.14,612.38 L207.38,612.91 L207.55,613.37 L207.67,613.77 L207.74,614.08 L207.78,614.31 L207.8,614.45 L207.8,614.5 L207.8,614.45 L207.82,614.31 L207.86,614.08 L207.93,613.77 L208.05,613.37 L208.22,612.91 L208.46,612.38 L208.77,611.79 L209.15,611.16 L209.6,610.5 L210.13,609.82 L210.72,609.14 L211.39,608.45 L212.11,607.78 L212.89,607.13 L213.71,606.52 L214.56,605.94 L215.42,605.42 L216.29,604.94 L217.15,604.52 L217.99,604.17 L218.78,603.87 L219.52,603.62 L220.19,603.44 L220.78,603.3 L221.28,603.2 L221.67,603.14 L221.96,603.11 L222.14,603.1 L222.2,603.1Z" fill="none" stroke="#222" stroke-width="0.9"/>
<line x1="150" y1="600.5" x2="266" y2="624.8" stroke="#78d79c" stroke-width="1.3"/>
<circle cx="156.8" cy="601.8" r="1.85" fill="#78d79c"/>
<circle cx="206.4" cy="612.3" r="1.85" fill="#78d79c"/>
<circle cx="236.2" cy="619.2" r="1.85" fill="#78d79c"/>
</g>
<text x="164.6" y="568.7" font-size="16.5" text-anchor="start" fill="#78d79c" font-family="Liberation Serif" stroke="#78d79c" stroke-width="0.35" style="">f</text>
<clipPath id="cp11"><rect x="265.7" y="545.4" width="115.8" height="116"/></clipPath>
<g clip-path="url(#cp11)">
<path d="M337.4,602.8 L337.34,602.8 L337.18,602.79 L336.9,602.76 L336.53,602.7 L336.06,602.61 L335.5,602.48 L334.87,602.31 L334.17,602.08 L333.42,601.8 L332.63,601.46 L331.82,601.07 L331,600.63 L330.18,600.13 L329.38,599.59 L328.61,599.02 L327.87,598.41 L327.19,597.78 L326.56,597.13 L326,596.49 L325.5,595.85 L325.07,595.23 L324.72,594.64 L324.43,594.09 L324.2,593.6 L324.04,593.16 L323.92,592.79 L323.85,592.49 L323.82,592.27 L323.8,592.14 L323.8,592.1 L323.8,592.14 L323.78,592.27 L323.75,592.49 L323.68,592.79 L323.56,593.16 L323.4,593.6 L323.17,594.09 L322.88,594.64 L322.53,595.23 L322.1,595.85 L321.6,596.49 L321.04,597.13 L320.41,597.78 L319.73,598.41 L318.99,599.02 L318.22,599.59 L317.42,600.13 L316.6,600.63 L315.78,601.07 L314.97,601.46 L314.18,601.8 L313.43,602.08 L312.73,602.31 L312.1,602.48 L311.54,602.61 L311.07,602.7 L310.7,602.76 L310.42,602.79 L310.26,602.8 L310.2,602.8 L310.26,602.8 L310.42,602.81 L310.7,602.84 L311.07,602.9 L311.54,602.99 L312.1,603.12 L312.73,603.29 L313.43,603.52 L314.18,603.8 L314.97,604.14 L315.78,604.53 L316.6,604.97 L317.42,605.47 L318.22,606.01 L318.99,606.58 L319.73,607.19 L320.41,607.82 L321.04,608.47 L321.6,609.11 L322.1,609.75 L322.53,610.37 L322.88,610.96 L323.17,611.51 L323.4,612 L323.56,612.44 L323.68,612.81 L323.75,613.11 L323.78,613.33 L323.8,613.46 L323.8,613.5 L323.8,613.46 L323.82,613.33 L323.85,613.11 L323.92,612.81 L324.04,612.44 L324.2,612 L324.43,611.51 L324.72,610.96 L325.07,610.37 L325.5,609.75 L326,609.11 L326.56,608.47 L327.19,607.82 L327.87,607.19 L328.61,606.58 L329.38,606.01 L330.18,605.47 L331,604.97 L331.82,604.53 L332.63,604.14 L333.42,603.8 L334.17,603.52 L334.87,603.29 L335.5,603.12 L336.06,602.99 L336.53,602.9 L336.9,602.84 L337.18,602.81 L337.34,602.8 L337.4,602.8Z" fill="none" stroke="#222" stroke-width="0.9"/>
<line x1="265.7" y1="597.5" x2="381.4" y2="622.9" stroke="#6080ff" stroke-width="1.3"/>
<circle cx="277.7" cy="601" r="8.8" fill="none" stroke="#6080ff" stroke-width="1.2"/>
<circle cx="277.7" cy="601" r="1.85" fill="#6080ff"/>
<circle cx="326.5" cy="611.8" r="8.8" fill="none" stroke="#6080ff" stroke-width="1.2"/>
<circle cx="326.5" cy="611.8" r="1.85" fill="#6080ff"/>
<circle cx="357.1" cy="618.4" r="8.8" fill="none" stroke="#6080ff" stroke-width="1.2"/>
<circle cx="357.1" cy="618.4" r="1.85" fill="#6080ff"/>
</g>
<text x="278.3" y="564.8" font-size="17" text-anchor="start" fill="#6080ff" font-family="Liberation Serif" stroke="#6080ff" stroke-width="0.35" style="">g</text>
<clipPath id="cp21"><rect x="381.5" y="545.4" width="115.6" height="116"/></clipPath>
<g clip-path="url(#cp21)">
<path d="M451.1,602.8 L451.05,602.8 L450.91,602.79 L450.67,602.76 L450.35,602.71 L449.94,602.63 L449.46,602.51 L448.92,602.35 L448.32,602.15 L447.68,601.89 L447,601.59 L446.3,601.23 L445.6,600.83 L444.89,600.38 L444.2,599.89 L443.54,599.37 L442.91,598.82 L442.32,598.25 L441.78,597.66 L441.29,597.08 L440.86,596.5 L440.49,595.94 L440.19,595.4 L439.94,594.91 L439.75,594.46 L439.6,594.06 L439.51,593.72 L439.44,593.45 L439.41,593.26 L439.4,593.14 L439.4,593.1 L439.4,593.14 L439.39,593.26 L439.36,593.45 L439.29,593.72 L439.2,594.06 L439.05,594.46 L438.86,594.91 L438.61,595.4 L438.31,595.94 L437.94,596.5 L437.51,597.08 L437.02,597.66 L436.48,598.25 L435.89,598.82 L435.26,599.37 L434.6,599.89 L433.91,600.38 L433.2,600.83 L432.5,601.23 L431.8,601.59 L431.12,601.89 L430.48,602.15 L429.88,602.35 L429.34,602.51 L428.86,602.63 L428.45,602.71 L428.13,602.76 L427.89,602.79 L427.75,602.8 L427.7,602.8 L427.75,602.8 L427.89,602.81 L428.13,602.84 L428.45,602.89 L428.86,602.97 L429.34,603.09 L429.88,603.25 L430.48,603.45 L431.12,603.71 L431.8,604.01 L432.5,604.37 L433.2,604.77 L433.91,605.22 L434.6,605.71 L435.26,606.23 L435.89,606.78 L436.48,607.35 L437.02,607.94 L437.51,608.52 L437.94,609.1 L438.31,609.66 L438.61,610.2 L438.86,610.69 L439.05,611.14 L439.2,611.54 L439.29,611.88 L439.36,612.15 L439.39,612.34 L439.4,612.46 L439.4,612.5 L439.4,612.46 L439.41,612.34 L439.44,612.15 L439.51,611.88 L439.6,611.54 L439.75,611.14 L439.94,610.69 L440.19,610.2 L440.49,609.66 L440.86,609.1 L441.29,608.52 L441.78,607.94 L442.32,607.35 L442.91,606.78 L443.54,606.23 L444.2,605.71 L444.89,605.22 L445.6,604.77 L446.3,604.37 L447,604.01 L447.68,603.71 L448.32,603.45 L448.92,603.25 L449.46,603.09 L449.94,602.97 L450.35,602.89 L450.67,602.84 L450.91,602.81 L451.05,602.8 L451.1,602.8Z" fill="none" stroke="#222" stroke-width="0.9"/>
<line x1="381.4" y1="592.1" x2="497.1" y2="618" stroke="#b86607" stroke-width="1.3"/>
<circle cx="400.1" cy="596.2" r="4" fill="none" stroke="#b86607" stroke-width="1.2"/>
<circle cx="400.1" cy="596.2" r="1.85" fill="#b86607"/>
<circle cx="449.5" cy="607.3" r="4" fill="none" stroke="#b86607" stroke-width="1.2"/>
<circle cx="449.5" cy="607.3" r="1.85" fill="#b86607"/>
<circle cx="479.9" cy="613.7" r="4" fill="none" stroke="#b86607" stroke-width="1.2"/>
<circle cx="479.9" cy="613.7" r="1.85" fill="#b86607"/>
</g>
<text x="393.9" y="568.7" font-size="16" text-anchor="start" fill="#b86607" font-family="Liberation Serif" stroke="#b86607" stroke-width="0.35" style="">h</text>
<clipPath id="cp02"><rect x="150" y="661.4" width="115.7" height="115.7"/></clipPath>
<g clip-path="url(#cp02)">
<path d="M220.2,719 L220.15,719 L219.99,718.99 L219.74,718.96 L219.39,718.91 L218.96,718.83 L218.44,718.71 L217.85,718.55 L217.21,718.35 L216.51,718.09 L215.78,717.79 L215.03,717.43 L214.27,717.03 L213.51,716.58 L212.77,716.09 L212.05,715.57 L211.37,715.02 L210.74,714.45 L210.16,713.86 L209.64,713.28 L209.17,712.7 L208.78,712.14 L208.45,711.6 L208.18,711.11 L207.97,710.66 L207.82,710.26 L207.71,709.92 L207.65,709.65 L207.61,709.46 L207.6,709.34 L207.6,709.3 L207.6,709.34 L207.59,709.46 L207.55,709.65 L207.49,709.92 L207.38,710.26 L207.23,710.66 L207.02,711.11 L206.75,711.6 L206.42,712.14 L206.03,712.7 L205.56,713.28 L205.04,713.86 L204.46,714.45 L203.83,715.02 L203.15,715.57 L202.43,716.09 L201.69,716.58 L200.93,717.03 L200.17,717.43 L199.42,717.79 L198.69,718.09 L197.99,718.35 L197.35,718.55 L196.76,718.71 L196.24,718.83 L195.81,718.91 L195.46,718.96 L195.21,718.99 L195.05,719 L195,719 L195.05,719 L195.21,719.01 L195.46,719.04 L195.81,719.09 L196.24,719.17 L196.76,719.29 L197.35,719.45 L197.99,719.65 L198.69,719.91 L199.42,720.21 L200.17,720.57 L200.93,720.97 L201.69,721.42 L202.43,721.91 L203.15,722.43 L203.83,722.98 L204.46,723.55 L205.04,724.14 L205.56,724.72 L206.02,725.3 L206.42,725.86 L206.75,726.4 L207.02,726.89 L207.23,727.34 L207.38,727.74 L207.49,728.08 L207.55,728.35 L207.59,728.54 L207.6,728.66 L207.6,728.7 L207.6,728.66 L207.61,728.54 L207.65,728.35 L207.71,728.08 L207.82,727.74 L207.97,727.34 L208.18,726.89 L208.45,726.4 L208.78,725.86 L209.17,725.3 L209.64,724.72 L210.16,724.14 L210.74,723.55 L211.37,722.98 L212.05,722.43 L212.77,721.91 L213.51,721.42 L214.27,720.97 L215.03,720.57 L215.78,720.21 L216.51,719.91 L217.21,719.65 L217.85,719.45 L218.44,719.29 L218.96,719.17 L219.39,719.09 L219.74,719.04 L219.99,719.01 L220.15,719 L220.2,719Z" fill="none" stroke="#222" stroke-width="0.9"/>
<line x1="150" y1="711.6" x2="266" y2="736.5" stroke="#0b7b74" stroke-width="1.3"/>
<circle cx="166.9" cy="715.1" r="3.5" fill="none" stroke="#0b7b74" stroke-width="1.2"/>
<circle cx="166.9" cy="715.1" r="1.85" fill="#0b7b74"/>
<circle cx="214.8" cy="725.2" r="3.5" fill="none" stroke="#0b7b74" stroke-width="1.2"/>
<circle cx="214.8" cy="725.2" r="1.85" fill="#0b7b74"/>
<circle cx="244.4" cy="731.7" r="3.5" fill="none" stroke="#0b7b74" stroke-width="1.2"/>
<circle cx="244.4" cy="731.7" r="1.85" fill="#0b7b74"/>
</g>
<text x="164.6" y="685.3" font-size="17" text-anchor="start" fill="#0b7b74" font-family="Liberation Serif" stroke="#0b7b74" stroke-width="0.35" style="">i</text>
<clipPath id="cp12"><rect x="265.7" y="661.4" width="115.8" height="115.7"/></clipPath>
<g clip-path="url(#cp12)">
<path d="M335.1,719 L335.05,719 L334.91,718.99 L334.67,718.96 L334.35,718.91 L333.94,718.83 L333.46,718.71 L332.92,718.55 L332.32,718.35 L331.68,718.09 L331,717.79 L330.3,717.43 L329.6,717.03 L328.89,716.58 L328.2,716.09 L327.54,715.57 L326.91,715.02 L326.32,714.45 L325.78,713.86 L325.29,713.28 L324.86,712.7 L324.49,712.14 L324.19,711.6 L323.94,711.11 L323.75,710.66 L323.6,710.26 L323.51,709.92 L323.44,709.65 L323.41,709.46 L323.4,709.34 L323.4,709.3 L323.4,709.34 L323.39,709.46 L323.36,709.65 L323.29,709.92 L323.2,710.26 L323.05,710.66 L322.86,711.11 L322.61,711.6 L322.31,712.14 L321.94,712.7 L321.51,713.28 L321.02,713.86 L320.48,714.45 L319.89,715.02 L319.26,715.57 L318.6,716.09 L317.91,716.58 L317.2,717.03 L316.5,717.43 L315.8,717.79 L315.12,718.09 L314.48,718.35 L313.88,718.55 L313.34,718.71 L312.86,718.83 L312.45,718.91 L312.13,718.96 L311.89,718.99 L311.75,719 L311.7,719 L311.75,719 L311.89,719.01 L312.13,719.04 L312.45,719.09 L312.86,719.17 L313.34,719.29 L313.88,719.45 L314.48,719.65 L315.12,719.91 L315.8,720.21 L316.5,720.57 L317.2,720.97 L317.91,721.42 L318.6,721.91 L319.26,722.43 L319.89,722.98 L320.48,723.55 L321.02,724.14 L321.51,724.72 L321.94,725.3 L322.31,725.86 L322.61,726.4 L322.86,726.89 L323.05,727.34 L323.2,727.74 L323.29,728.08 L323.36,728.35 L323.39,728.54 L323.4,728.66 L323.4,728.7 L323.4,728.66 L323.41,728.54 L323.44,728.35 L323.51,728.08 L323.6,727.74 L323.75,727.34 L323.94,726.89 L324.19,726.4 L324.49,725.86 L324.86,725.3 L325.29,724.72 L325.78,724.14 L326.32,723.55 L326.91,722.98 L327.54,722.43 L328.2,721.91 L328.89,721.42 L329.6,720.97 L330.3,720.57 L331,720.21 L331.68,719.91 L332.32,719.65 L332.92,719.45 L333.46,719.29 L333.94,719.17 L334.35,719.09 L334.67,719.04 L334.91,719.01 L335.05,719 L335.1,719Z" fill="none" stroke="#222" stroke-width="0.9"/>
<line x1="265.7" y1="706.7" x2="381.4" y2="732" stroke="#ff7c96" stroke-width="1.3"/>
<circle cx="287" cy="711.6" r="6.4" fill="none" stroke="#ff7c96" stroke-width="1.2"/>
<circle cx="287" cy="711.6" r="1.85" fill="#ff7c96"/>
<circle cx="335.7" cy="722.3" r="6.4" fill="none" stroke="#ff7c96" stroke-width="1.2"/>
<circle cx="335.7" cy="722.3" r="1.85" fill="#ff7c96"/>
<circle cx="365.8" cy="728.7" r="6.4" fill="none" stroke="#ff7c96" stroke-width="1.2"/>
<circle cx="365.8" cy="728.7" r="1.85" fill="#ff7c96"/>
</g>
<text x="280.9" y="681.5" font-size="15.3" text-anchor="start" fill="#ff7c96" font-family="Liberation Sans" stroke="#ff7c96" stroke-width="0.35" style="">j</text>
<clipPath id="cp22"><rect x="381.5" y="661.4" width="115.6" height="115.7"/></clipPath>
<g clip-path="url(#cp22)">
<path d="M451.1,718.8 L451.05,718.8 L450.91,718.79 L450.67,718.76 L450.35,718.71 L449.94,718.63 L449.46,718.51 L448.92,718.35 L448.32,718.15 L447.68,717.89 L447,717.59 L446.3,717.23 L445.6,716.83 L444.89,716.38 L444.2,715.89 L443.54,715.37 L442.91,714.82 L442.32,714.25 L441.78,713.66 L441.29,713.08 L440.86,712.5 L440.49,711.94 L440.19,711.4 L439.94,710.91 L439.75,710.46 L439.6,710.06 L439.51,709.72 L439.44,709.45 L439.41,709.26 L439.4,709.14 L439.4,709.1 L439.4,709.14 L439.39,709.26 L439.36,709.45 L439.29,709.72 L439.2,710.06 L439.05,710.46 L438.86,710.91 L438.61,711.4 L438.31,711.94 L437.94,712.5 L437.51,713.08 L437.02,713.66 L436.48,714.25 L435.89,714.82 L435.26,715.37 L434.6,715.89 L433.91,716.38 L433.2,716.83 L432.5,717.23 L431.8,717.59 L431.12,717.89 L430.48,718.15 L429.88,718.35 L429.34,718.51 L428.86,718.63 L428.45,718.71 L428.13,718.76 L427.89,718.79 L427.75,718.8 L427.7,718.8 L427.75,718.8 L427.89,718.81 L428.13,718.84 L428.45,718.89 L428.86,718.97 L429.34,719.09 L429.88,719.25 L430.48,719.45 L431.12,719.71 L431.8,720.01 L432.5,720.37 L433.2,720.77 L433.91,721.22 L434.6,721.71 L435.26,722.23 L435.89,722.78 L436.48,723.35 L437.02,723.94 L437.51,724.52 L437.94,725.1 L438.31,725.66 L438.61,726.2 L438.86,726.69 L439.05,727.14 L439.2,727.54 L439.29,727.88 L439.36,728.15 L439.39,728.34 L439.4,728.46 L439.4,728.5 L439.4,728.46 L439.41,728.34 L439.44,728.15 L439.51,727.88 L439.6,727.54 L439.75,727.14 L439.94,726.69 L440.19,726.2 L440.49,725.66 L440.86,725.1 L441.29,724.52 L441.78,723.94 L442.32,723.35 L442.91,722.78 L443.54,722.23 L444.2,721.71 L444.89,721.22 L445.6,720.77 L446.3,720.37 L447,720.01 L447.68,719.71 L448.32,719.45 L448.92,719.25 L449.46,719.09 L449.94,718.97 L450.35,718.89 L450.67,718.84 L450.91,718.81 L451.05,718.8 L451.1,718.8Z" fill="none" stroke="#222" stroke-width="0.9"/>
<line x1="381.4" y1="709.3" x2="497.1" y2="735.3" stroke="#7b4812" stroke-width="1.3"/>
<circle cx="397" cy="712.8" r="11.7" fill="none" stroke="#7b4812" stroke-width="1.2"/>
<circle cx="397" cy="712.8" r="1.85" fill="#7b4812"/>
<circle cx="449.7" cy="724.6" r="11.7" fill="none" stroke="#7b4812" stroke-width="1.2"/>
<circle cx="449.7" cy="724.6" r="1.85" fill="#7b4812"/>
<circle cx="482.4" cy="732" r="11.7" fill="none" stroke="#7b4812" stroke-width="1.2"/>
<circle cx="482.4" cy="732" r="1.85" fill="#7b4812"/>
</g>
<text x="393.9" y="685.3" font-size="17" text-anchor="start" fill="#7b4812" font-family="Liberation Serif" stroke="#7b4812" stroke-width="0.35" style="">k</text>
</svg></body></html>
